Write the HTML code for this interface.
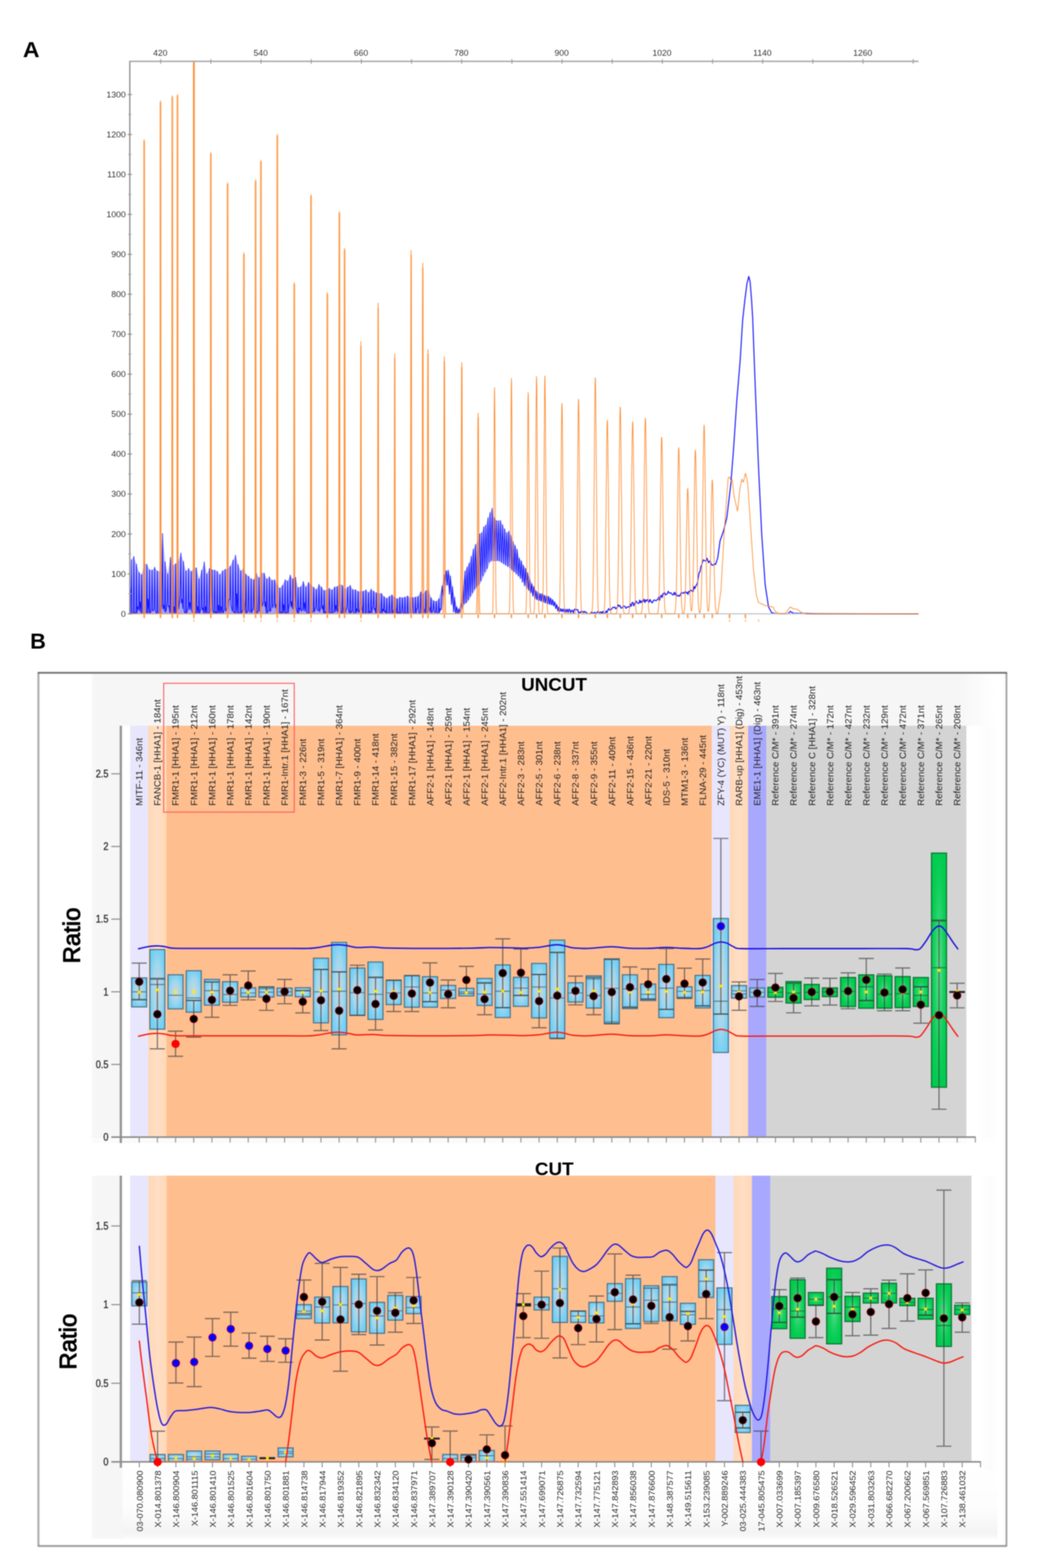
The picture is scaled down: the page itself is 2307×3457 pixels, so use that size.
<!DOCTYPE html>
<html lang="en"><head><meta charset="utf-8"><title>Figure</title>
<style>html,body{margin:0;padding:0;background:#fff;}body{width:2307px;height:3457px;overflow:hidden;}svg{display:block;}</style></head><body>
<svg width="2307" height="3457" viewBox="0 0 2307 3457">
<defs>
<filter id="bA" color-interpolation-filters="sRGB" x="-2%" y="-2%" width="104%" height="104%"><feGaussianBlur stdDeviation="0.95"/></filter>
<linearGradient id="ghaze" x1="0" x2="0" y1="0" y2="1"><stop offset="0" stop-color="#3030ff" stop-opacity="0.25"/><stop offset="1" stop-color="#2020ff" stop-opacity="0.42"/></linearGradient>
<filter id="b1" color-interpolation-filters="sRGB" x="-5%" y="-5%" width="110%" height="110%"><feGaussianBlur stdDeviation="0.7"/></filter>
<filter id="b05" color-interpolation-filters="sRGB" x="-5%" y="-5%" width="110%" height="110%"><feGaussianBlur stdDeviation="0.8"/></filter>
<filter id="b15" color-interpolation-filters="sRGB" x="-1%" y="-1%" width="102%" height="102%"><feGaussianBlur stdDeviation="0.8"/></filter>
<linearGradient id="glor" x1="0" x2="1" y1="0" y2="0"><stop offset="0" stop-color="#ffd8b6"/><stop offset="0.5" stop-color="#ffdec4"/><stop offset="1" stop-color="#ffd8b6"/></linearGradient>
<linearGradient id="gbg" x1="0" x2="1" y1="0" y2="0"><stop offset="0" stop-color="#fff"/><stop offset="0.004" stop-color="#f6f6f6"/><stop offset="0.96" stop-color="#f6f6f6"/><stop offset="1" stop-color="#fff"/></linearGradient>
<linearGradient id="gbot" x1="0" x2="0" y1="0" y2="1"><stop offset="0" stop-color="#fff"/><stop offset="0.6" stop-color="#fdfdfd"/><stop offset="0.92" stop-color="#f4f4f4"/><stop offset="1" stop-color="#fafafa"/></linearGradient>
<linearGradient id="gfade" x1="0" x2="1" y1="0" y2="0"><stop offset="0" stop-color="#fff"/><stop offset="0.3" stop-color="#fff"/><stop offset="0.7" stop-color="#fcfcfc"/><stop offset="1" stop-color="#fff"/></linearGradient>
<radialGradient id="gbox" cx="0.5" cy="0.5" r="0.75"><stop offset="0" stop-color="#bfd9e6" stop-opacity="0.85"/><stop offset="0.6" stop-color="#7fd0f4" stop-opacity="0.95"/><stop offset="1" stop-color="#58c8f6"/></radialGradient>
<radialGradient id="gboxhl" cx="0.5" cy="0.5" r="0.7"><stop offset="0" stop-color="#ecd8d0" stop-opacity="0.8"/><stop offset="0.5" stop-color="#c8dce8" stop-opacity="0.55"/><stop offset="1" stop-color="#6ccff5" stop-opacity="0"/></radialGradient>
<radialGradient id="ggrnhl" cx="0.5" cy="0.5" r="0.6"><stop offset="0" stop-color="#b8f0c8" stop-opacity="0.6"/><stop offset="0.55" stop-color="#40d880" stop-opacity="0.4"/><stop offset="1" stop-color="#00cc4e" stop-opacity="0"/></radialGradient>
</defs>
<rect x="0" y="0" width="2307" height="3457" fill="#fff"/>
<g id="panelA">
<text transform="translate(50.5,126) scale(1.06,1)" font-family="'Liberation Sans',sans-serif" font-weight="bold" font-size="48" fill="#000" filter="url(#b05)">A</text>
<clipPath id="cpA"><rect x="286.3" y="135.3" width="1741.7" height="1248.0"/></clipPath>
<g filter="url(#bA)"><g clip-path="url(#cpA)">
<path d="M287.3 1353.3L287.3 1293.3L289.5 1234.2L295.2 1226.8L301.0 1243.8L306.8 1261.9L312.5 1266.9L318.2 1241.7L324.0 1244.4L329.8 1256.1L335.5 1256.9L341.2 1250.5L347.0 1258.9L352.8 1259.4L358.5 1176.3L364.2 1238.6L370.0 1265.2L375.8 1228.8L381.5 1246.4L387.2 1243.0L393.0 1237.6L398.8 1219.4L404.5 1237.6L410.2 1258.9L416.0 1253.4L421.8 1260.0L427.5 1252.2L433.2 1251.9L439.0 1276.1L444.8 1257.0L450.5 1238.9L456.2 1265.6L462.0 1253.4L467.8 1256.3L473.5 1256.8L479.2 1259.5L485.0 1266.7L490.8 1258.6L496.5 1255.3L502.2 1253.6L508.0 1247.7L513.8 1235.1L519.5 1224.1L525.2 1244.9L531.0 1258.6L536.8 1253.6L542.5 1266.0L548.2 1270.2L554.0 1276.1L559.8 1277.8L565.5 1263.6L571.2 1273.8L577.0 1262.9L582.8 1263.8L588.5 1276.4L594.2 1271.7L600.0 1279.3L605.8 1278.0L611.5 1289.7L617.2 1296.7L623.0 1290.6L628.8 1278.3L634.5 1280.9L640.2 1267.8L646.0 1276.4L651.8 1272.9L657.5 1295.3L663.2 1293.5L669.0 1282.1L674.8 1294.1L680.5 1283.9L686.2 1289.4L692.0 1294.9L697.8 1299.5L703.5 1288.6L709.2 1294.2L715.0 1301.9L720.8 1299.8L726.5 1297.2L732.2 1300.5L738.0 1294.0L743.8 1293.0L749.5 1288.0L755.2 1290.6L761.0 1299.1L766.8 1294.3L772.5 1290.5L778.2 1299.9L784.0 1300.0L789.8 1303.8L795.5 1304.3L801.2 1303.3L807.0 1300.4L812.8 1306.2L818.5 1299.0L824.2 1303.3L830.0 1306.9L835.8 1308.0L841.5 1308.2L847.2 1315.2L853.0 1319.0L858.8 1314.8L864.5 1311.4L870.2 1317.1L876.0 1320.0L881.8 1316.8L887.5 1317.6L893.2 1316.3L899.0 1313.7L904.8 1317.7L910.5 1317.3L916.2 1316.2L922.0 1314.7L927.8 1304.7L933.5 1309.3L939.2 1302.2L945.0 1301.4L950.8 1317.7L956.5 1324.4L962.2 1325.9L968.0 1320.1L975.0 1291.7L979.6 1267.2L984.2 1258.0L988.8 1257.4L993.4 1269.5L998.0 1293.4L1002.6 1316.7L1007.2 1337.6L1011.8 1342.9L1016.4 1330.5L1021.0 1290.8L1025.6 1259.0L1030.2 1250.3L1034.8 1241.3L1039.4 1226.9L1044.0 1210.7L1048.6 1200.8L1053.2 1194.7L1057.8 1177.1L1062.4 1174.2L1067.0 1161.2L1071.6 1157.5L1076.2 1141.8L1080.8 1130.1L1085.4 1120.5L1090.0 1141.3L1094.6 1147.5L1099.2 1148.1L1103.8 1147.5L1108.4 1156.8L1113.0 1165.7L1117.6 1174.8L1122.2 1171.1L1126.8 1180.4L1131.4 1193.8L1136.0 1202.2L1140.6 1211.2L1145.2 1230.2L1149.8 1236.5L1154.4 1246.4L1159.0 1252.7L1163.6 1262.5L1168.2 1273.5L1172.8 1286.6L1177.4 1293.4L1182.0 1302.4L1186.6 1305.6L1191.2 1308.5L1195.8 1309.3L1200.4 1312.2L1205.0 1313.8L1209.6 1314.5L1214.2 1318.2L1218.8 1321.8L1223.4 1326.8L1228.0 1332.5L1232.6 1338.5L1237.2 1341.9L1241.8 1342.6L1246.4 1343.0L1251.0 1343.0L1255.6 1342.5L1255.6 1350.5L1251.0 1349.9L1246.4 1349.4L1241.8 1348.8L1237.2 1348.2L1232.6 1347.6L1228.0 1342.3L1223.4 1336.2L1218.8 1333.9L1214.2 1332.8L1209.6 1331.6L1205.0 1329.8L1200.4 1327.9L1195.8 1326.1L1191.2 1324.3L1186.6 1322.6L1182.0 1320.9L1177.4 1314.6L1172.8 1306.9L1168.2 1301.9L1163.6 1298.1L1159.0 1291.7L1154.4 1283.6L1149.8 1275.6L1145.2 1270.4L1140.6 1265.8L1136.0 1261.2L1131.4 1257.2L1126.8 1253.2L1122.2 1249.5L1117.6 1246.6L1113.0 1243.7L1108.4 1240.8L1103.8 1237.7L1099.2 1236.3L1094.6 1237.1L1090.0 1237.3L1085.4 1236.5L1080.8 1239.8L1076.2 1253.6L1071.6 1261.2L1067.0 1270.0L1062.4 1280.8L1057.8 1288.9L1053.2 1293.5L1048.6 1299.2L1044.0 1306.8L1039.4 1314.5L1034.8 1322.2L1030.2 1328.9L1025.6 1331.2L1021.0 1339.9L1016.4 1350.4L1011.8 1353.3L1007.2 1353.3L1002.6 1349.8L998.0 1333.3L993.4 1310.3L988.8 1290.1L984.2 1290.3L979.6 1313.7L975.0 1343.8L968.0 1353.3L962.2 1353.3L956.5 1353.3L950.8 1353.3L945.0 1353.3L939.2 1353.3L933.5 1353.3L927.8 1353.3L922.0 1353.3L916.2 1353.3L910.5 1353.3L904.8 1353.3L899.0 1353.3L893.2 1353.3L887.5 1353.3L881.8 1353.3L876.0 1353.3L870.2 1353.3L864.5 1353.3L858.8 1353.3L853.0 1353.3L847.2 1353.3L841.5 1353.3L835.8 1353.3L830.0 1353.3L824.2 1353.3L818.5 1353.3L812.8 1353.3L807.0 1353.3L801.2 1353.3L795.5 1353.3L789.8 1353.3L784.0 1353.3L778.2 1353.3L772.5 1353.3L766.8 1353.3L761.0 1353.3L755.2 1353.3L749.5 1353.3L743.8 1353.3L738.0 1353.3L732.2 1353.3L726.5 1353.3L720.8 1353.3L715.0 1353.3L709.2 1353.3L703.5 1353.3L697.8 1353.3L692.0 1353.3L686.2 1353.3L680.5 1353.3L674.8 1353.3L669.0 1353.3L663.2 1353.3L657.5 1353.3L651.8 1353.3L646.0 1353.3L640.2 1353.3L634.5 1353.3L628.8 1353.3L623.0 1353.3L617.2 1353.3L611.5 1353.3L605.8 1353.3L600.0 1353.3L594.2 1353.3L588.5 1353.3L582.8 1353.3L577.0 1353.3L571.2 1353.3L565.5 1353.3L559.8 1353.3L554.0 1353.3L548.2 1353.3L542.5 1353.3L536.8 1353.3L531.0 1353.3L525.2 1353.3L519.5 1353.3L513.8 1353.3L508.0 1353.3L502.2 1353.3L496.5 1353.3L490.8 1353.3L485.0 1353.3L479.2 1353.3L473.5 1353.3L467.8 1353.3L462.0 1353.3L456.2 1353.3L450.5 1353.3L444.8 1353.3L439.0 1353.3L433.2 1353.3L427.5 1353.3L421.8 1353.3L416.0 1353.3L410.2 1353.3L404.5 1353.3L398.8 1353.3L393.0 1353.3L387.2 1353.3L381.5 1353.3L375.8 1353.3L370.0 1353.3L364.2 1353.3L358.5 1353.3L352.8 1353.3L347.0 1353.3L341.2 1353.3L335.5 1353.3L329.8 1353.3L324.0 1353.3L318.2 1353.3L312.5 1353.3L306.8 1353.3L301.0 1353.3L295.2 1353.3L289.5 1353.3L287.3 1353.3Z" fill="url(#ghaze)" stroke="none"/>
<path d="M287.3 1353.3L288.0 1298.3L288.2 1353.3L289.5 1234.2L290.8 1353.3L292.1 1351.3L294.0 1353.3L295.2 1226.8L296.5 1353.3L297.9 1350.7L299.8 1353.3L301.0 1243.8L302.2 1353.3L303.6 1337.3L305.5 1344.2L306.8 1261.9L308.0 1347.8L309.4 1326.8L311.2 1353.3L312.5 1266.9L313.8 1353.3L317.0 1353.3L318.2 1241.7L319.5 1353.3L322.8 1353.3L324.0 1244.4L325.2 1353.3L326.6 1320.6L328.5 1353.3L329.8 1256.1L331.0 1353.3L334.2 1343.7L335.5 1256.9L336.8 1347.5L340.0 1343.0L341.2 1250.5L342.5 1347.1L345.8 1353.3L347.0 1258.9L348.2 1353.3L351.5 1353.3L352.8 1259.4L354.0 1353.3L357.2 1335.6L358.5 1176.3L359.8 1342.7L361.1 1333.8L363.0 1347.6L364.2 1238.6L365.5 1349.9L366.9 1343.3L368.8 1326.9L370.0 1265.2L371.2 1337.4L372.6 1335.6L374.5 1350.8L375.8 1228.8L377.0 1351.8L380.2 1353.3L381.5 1246.4L382.8 1353.3L384.1 1337.7L386.0 1353.3L387.2 1243.0L388.5 1353.3L391.8 1335.9L393.0 1237.6L394.2 1342.9L395.6 1330.7L397.5 1313.1L398.8 1219.4L400.0 1329.2L401.4 1320.7L403.2 1341.7L404.5 1237.6L405.8 1346.4L409.0 1353.3L410.2 1258.9L411.5 1353.3L414.8 1338.3L416.0 1253.4L417.2 1344.3L418.6 1327.7L420.5 1344.0L421.8 1260.0L423.0 1347.7L426.2 1351.3L427.5 1252.2L428.8 1352.1L432.0 1351.3L433.2 1251.9L434.5 1352.1L435.9 1336.9L437.8 1353.3L439.0 1276.1L440.2 1353.3L441.6 1347.4L443.5 1338.8L444.8 1257.0L446.0 1344.6L447.4 1340.1L449.2 1353.3L450.5 1238.9L451.8 1353.3L453.1 1337.2L455.0 1353.3L456.2 1265.6L457.5 1353.3L460.8 1351.3L462.0 1253.4L463.2 1352.1L466.5 1338.8L467.8 1256.3L469.0 1344.6L472.2 1353.3L473.5 1256.8L474.8 1353.3L476.1 1348.2L478.0 1353.3L479.2 1259.5L480.5 1353.3L481.9 1334.0L483.8 1353.3L485.0 1266.7L486.2 1353.3L487.6 1337.1L489.5 1351.4L490.8 1258.6L492.0 1352.2L495.2 1343.5L496.5 1255.3L497.8 1347.4L501.0 1338.3L502.2 1253.6L503.5 1344.3L504.9 1321.9L506.8 1321.6L508.0 1247.7L509.2 1334.3L512.5 1347.4L513.8 1235.1L515.0 1349.8L516.4 1349.0L518.2 1353.3L519.5 1224.1L520.8 1353.3L522.1 1308.8L524.0 1353.3L525.2 1244.9L526.5 1353.3L527.9 1351.3L529.8 1353.3L531.0 1258.6L532.2 1353.3L535.5 1343.3L536.8 1253.6L538.0 1347.3L539.4 1322.8L541.2 1353.3L542.5 1266.0L543.8 1353.3L547.0 1345.0L548.2 1270.2L549.5 1348.3L550.9 1349.7L552.8 1349.4L554.0 1276.1L555.2 1351.0L556.6 1344.9L558.5 1342.0L559.8 1277.8L561.0 1346.5L562.4 1346.3L564.2 1353.3L565.5 1263.6L566.8 1353.3L570.0 1345.3L571.2 1273.8L572.5 1348.5L573.9 1334.1L575.8 1326.2L577.0 1262.9L578.2 1337.0L581.5 1326.5L582.8 1263.8L584.0 1337.2L585.4 1326.8L587.2 1353.3L588.5 1276.4L589.8 1353.3L591.1 1347.3L593.0 1345.1L594.2 1271.7L595.5 1348.4L596.9 1346.9L598.8 1331.1L600.0 1279.3L601.2 1340.0L604.5 1330.7L605.8 1278.0L607.0 1339.7L608.4 1332.1L610.2 1350.1L611.5 1289.7L612.8 1351.4L614.1 1352.7L616.0 1352.2L617.2 1296.7L618.5 1352.6L619.9 1349.5L621.8 1352.0L623.0 1290.6L624.2 1352.5L625.6 1332.7L627.5 1351.8L628.8 1278.3L630.0 1352.4L631.4 1350.6L633.2 1351.9L634.5 1280.9L635.8 1352.4L637.1 1337.5L639.0 1327.6L640.2 1267.8L641.5 1337.9L642.9 1326.1L644.8 1341.8L646.0 1276.4L647.2 1346.4L648.6 1335.5L650.5 1329.2L651.8 1272.9L653.0 1338.8L656.2 1353.3L657.5 1295.3L658.8 1353.3L660.1 1340.4L662.0 1344.3L663.2 1293.5L664.5 1347.9L665.9 1344.9L667.8 1342.6L669.0 1282.1L670.2 1346.9L671.6 1328.5L673.5 1347.4L674.8 1294.1L676.0 1349.7L679.2 1353.3L680.5 1283.9L681.8 1353.3L685.0 1350.1L686.2 1289.4L687.5 1351.4L690.8 1347.5L692.0 1294.9L693.2 1349.8L696.5 1337.2L697.8 1299.5L699.0 1343.6L702.2 1346.8L703.5 1288.6L704.8 1349.4L708.0 1335.6L709.2 1294.2L710.5 1342.7L711.9 1335.2L713.8 1353.3L715.0 1301.9L716.2 1353.3L717.6 1349.0L719.5 1352.2L720.8 1299.8L722.0 1352.7L725.2 1353.3L726.5 1297.2L727.8 1353.3L731.0 1350.7L732.2 1300.5L733.5 1351.7L736.8 1347.4L738.0 1294.0L739.2 1349.7L740.6 1334.2L742.5 1347.3L743.8 1293.0L745.0 1349.7L746.4 1342.5L748.2 1333.7L749.5 1288.0L750.8 1341.5L752.1 1353.2L754.0 1353.3L755.2 1290.6L756.5 1353.3L757.9 1339.7L759.8 1353.3L761.0 1299.1L762.2 1353.3L763.6 1343.5L765.5 1335.6L766.8 1294.3L768.0 1342.7L771.2 1353.3L772.5 1290.5L773.8 1353.3L775.1 1347.2L777.0 1348.0L778.2 1299.9L779.5 1350.1L780.9 1352.8L782.8 1353.3L784.0 1300.0L785.2 1353.3L786.6 1341.9L788.5 1348.4L789.8 1303.8L791.0 1350.3L792.4 1348.5L794.2 1338.6L795.5 1304.3L796.8 1344.5L798.1 1337.2L800.0 1352.3L801.2 1303.3L802.5 1352.7L805.8 1353.3L807.0 1300.4L808.2 1353.3L811.5 1353.3L812.8 1306.2L814.0 1353.3L815.4 1348.1L817.2 1350.6L818.5 1299.0L819.8 1351.7L821.1 1340.6L823.0 1338.3L824.2 1303.3L825.5 1344.3L826.9 1340.8L828.8 1353.3L830.0 1306.9L831.2 1353.3L832.6 1351.1L834.5 1346.5L835.8 1308.0L837.0 1349.2L840.2 1351.0L841.5 1308.2L842.8 1351.9L844.1 1342.8L846.0 1347.6L847.2 1315.2L848.5 1349.9L849.9 1346.4L851.8 1353.3L853.0 1319.0L854.2 1353.3L855.6 1352.2L857.5 1352.5L858.8 1314.8L860.0 1352.8L863.2 1353.3L864.5 1311.4L865.8 1353.3L867.1 1345.7L869.0 1353.3L870.2 1317.1L871.5 1353.3L872.9 1341.7L874.8 1353.3L876.0 1320.0L877.2 1353.3L878.6 1350.1L880.5 1353.3L881.8 1316.8L883.0 1353.3L884.4 1351.6L886.2 1347.9L887.5 1317.6L888.8 1350.1L892.0 1353.3L893.2 1316.3L894.5 1353.3L897.8 1351.3L899.0 1313.7L900.2 1352.1L903.5 1353.3L904.8 1317.7L906.0 1353.3L909.2 1353.3L910.5 1317.3L911.8 1353.3L913.1 1353.1L915.0 1352.6L916.2 1316.2L917.5 1352.9L918.9 1342.2L920.8 1341.7L922.0 1314.7L923.2 1346.3L924.6 1353.1L926.5 1350.9L927.8 1304.7L929.0 1351.8L932.2 1353.3L933.5 1309.3L934.8 1353.3L936.1 1342.4L938.0 1353.3L939.2 1302.2L940.5 1353.3L941.9 1350.1L943.8 1345.5L945.0 1301.4L946.2 1348.6L947.6 1339.5L949.5 1349.7L950.8 1317.7L952.0 1351.2L955.2 1344.6L956.5 1324.4L957.8 1348.1L959.1 1350.8L961.0 1349.2L962.2 1325.9L963.5 1350.8L966.8 1350.0L968.0 1320.1L969.2 1351.3L970.6 1342.4L972.7 1343.8L975.0 1291.7L977.3 1313.7L979.6 1267.2L981.9 1290.3L984.2 1258.0L986.5 1290.1L988.8 1257.4L991.1 1310.3L993.4 1269.5L995.7 1333.3L998.0 1293.4L1000.3 1349.8L1002.6 1316.7L1004.9 1353.3L1007.2 1337.6L1009.5 1353.3L1011.8 1342.9L1014.1 1350.4L1016.4 1330.5L1018.7 1339.9L1021.0 1290.8L1023.3 1331.2L1025.6 1259.0L1027.9 1328.9L1030.2 1250.3L1032.5 1322.2L1034.8 1241.3L1037.1 1314.5L1039.4 1226.9L1041.7 1306.8L1044.0 1210.7L1046.3 1299.2L1048.6 1200.8L1050.9 1293.5L1053.2 1194.7L1055.5 1288.9L1057.8 1177.1L1060.1 1280.8L1062.4 1174.2L1064.7 1270.0L1067.0 1161.2L1069.3 1261.2L1071.6 1157.5L1073.9 1253.6L1076.2 1141.8L1078.5 1239.8L1080.8 1130.1L1083.1 1236.5L1085.4 1120.5L1087.7 1237.3L1090.0 1141.3L1092.3 1237.1L1094.6 1147.5L1096.9 1236.3L1099.2 1148.1L1101.5 1237.7L1103.8 1147.5L1106.1 1240.8L1108.4 1156.8L1110.7 1243.7L1113.0 1165.7L1115.3 1246.6L1117.6 1174.8L1119.9 1249.5L1122.2 1171.1L1124.5 1253.2L1126.8 1180.4L1129.1 1257.2L1131.4 1193.8L1133.7 1261.2L1136.0 1202.2L1138.3 1265.8L1140.6 1211.2L1142.9 1270.4L1145.2 1230.2L1147.5 1275.6L1149.8 1236.5L1152.1 1283.6L1154.4 1246.4L1156.7 1291.7L1159.0 1252.7L1161.3 1298.1L1163.6 1262.5L1165.9 1301.9L1168.2 1273.5L1170.5 1306.9L1172.8 1286.6L1175.1 1314.6L1177.4 1293.4L1179.7 1320.9L1182.0 1302.4L1184.3 1322.6L1186.6 1305.6L1188.9 1324.3L1191.2 1308.5L1193.5 1326.1L1195.8 1309.3L1198.1 1327.9L1200.4 1312.2L1202.7 1329.8L1205.0 1313.8L1207.3 1331.6L1209.6 1314.5L1211.9 1332.8L1214.2 1318.2L1216.5 1333.9L1218.8 1321.8L1221.1 1336.2L1223.4 1326.8L1225.7 1342.3L1228.0 1332.5L1230.3 1347.6L1232.6 1338.5L1234.9 1348.2L1237.2 1341.9L1239.5 1348.8L1241.8 1342.6L1244.1 1349.4L1246.4 1343.0L1248.7 1349.9L1251.0 1343.0L1253.3 1350.5L1255.6 1342.5" fill="none" stroke="#1010ff" stroke-width="1.6" stroke-linejoin="round"/>
<path d="M1255.6 1342.5L1259.0 1350.7L1260.9 1345.4L1262.8 1345.9L1264.7 1351.1L1266.6 1343.7L1268.5 1343.0L1270.4 1345.1L1272.3 1343.9L1274.2 1344.2L1276.1 1351.7L1278.0 1349.7L1279.9 1350.8L1281.8 1347.9L1283.7 1348.3L1285.6 1348.2L1287.5 1350.5L1289.4 1347.8L1291.3 1349.8L1293.2 1349.8L1295.1 1352.8L1297.0 1352.8L1298.9 1352.8L1300.8 1352.8L1302.7 1352.8L1304.6 1349.1L1306.5 1351.7L1308.4 1351.1L1310.3 1350.9L1312.2 1350.2L1314.1 1351.7L1316.0 1352.8L1317.9 1348.5L1319.8 1348.8L1321.7 1350.8L1323.6 1350.3L1325.5 1348.9L1327.4 1352.8L1329.3 1347.8L1331.2 1352.0L1333.1 1352.8L1335.0 1351.4L1336.9 1346.9L1338.8 1350.7L1340.7 1344.9L1342.6 1341.8L1344.5 1345.2L1346.4 1345.3L1348.3 1343.5L1350.2 1340.7L1352.1 1339.0L1354.0 1339.4L1355.9 1338.2L1357.8 1342.3L1359.7 1340.7L1361.6 1338.8L1363.5 1333.5L1365.4 1336.6L1367.3 1334.8L1369.2 1340.4L1371.1 1340.5L1373.0 1339.2L1374.9 1336.2L1376.8 1336.5L1378.7 1337.3L1380.6 1341.3L1382.5 1338.8L1384.4 1338.3L1386.3 1337.3L1388.2 1339.5L1390.1 1331.6L1392.0 1336.9L1393.9 1328.9L1395.8 1328.3L1397.7 1335.8L1399.6 1331.2L1401.5 1327.3L1403.4 1325.3L1405.3 1329.3L1407.2 1330.3L1409.1 1330.2L1411.0 1323.0L1412.9 1329.0L1414.8 1325.0L1416.7 1328.5L1418.6 1325.0L1420.5 1321.2L1422.4 1328.5L1424.3 1322.4L1426.2 1325.2L1428.1 1321.8L1430.0 1323.4L1431.9 1327.7L1433.8 1321.7L1435.7 1325.3L1437.6 1328.8L1439.5 1328.3L1441.4 1323.3L1443.3 1323.0L1445.2 1323.7L1447.1 1324.6L1449.0 1322.1L1450.9 1321.7L1452.8 1316.4L1454.7 1323.2L1456.6 1314.9L1458.5 1312.5L1460.4 1317.4L1462.3 1308.5L1464.2 1308.9L1466.1 1306.7L1468.0 1311.6L1469.9 1310.3L1471.8 1309.5L1473.7 1303.5L1475.6 1306.6L1477.5 1308.1L1479.4 1306.9L1481.3 1308.6L1483.2 1311.4L1485.1 1311.7L1487.0 1305.9L1488.9 1311.6L1490.8 1306.5L1492.7 1313.4L1494.6 1314.0L1496.5 1312.3L1498.4 1314.7L1500.3 1312.5L1502.2 1306.8L1504.1 1307.0L1506.0 1307.2L1507.9 1308.3L1509.8 1305.3L1511.7 1304.6L1513.6 1307.6L1515.5 1305.5L1517.4 1310.6L1519.3 1303.5L1521.2 1305.1L1523.1 1301.4L1525.0 1301.5L1526.9 1303.7L1528.8 1304.0L1530.7 1293.2L1532.6 1297.6L1534.5 1291.6L1536.4 1289.9L1538.3 1285.0L1540.2 1272.8L1542.1 1262.4L1544.0 1260.6L1545.9 1248.8L1547.8 1245.2L1549.7 1237.8L1551.6 1234.2L1553.5 1236.1L1555.4 1236.5L1557.3 1236.5L1559.2 1230.6L1561.1 1236.0L1563.0 1240.8L1564.9 1236.9L1566.8 1238.4L1568.7 1244.1L1570.6 1246.3L1572.5 1245.3L1574.4 1245.7L1576.3 1242.9L1578.2 1244.6L1583.0 1230.0L1588.0 1193.0L1595.6 1171.0L1603.0 1141.6L1611.8 1068.0L1617.6 994.0L1625.0 884.0L1632.4 795.7L1638.0 705.0L1643.0 660.0L1647.5 625.0L1651.5 609.4L1654.5 622.0L1657.5 660.0L1660.0 700.0L1665.5 847.0L1673.0 1031.0L1680.0 1178.0L1687.6 1289.0L1695.0 1338.0L1702.0 1351.0L1712.0 1353.0L1738.0 1353.0L1743.0 1348.0L1750.0 1352.0L1770.0 1352.5L1800.0 1353.0L2026.0 1353.3" fill="none" stroke="#1818ff" stroke-width="2.3" stroke-linejoin="round"/>
<line x1="286.3" y1="1353.3" x2="2026.0" y2="1353.3" stroke="#c4c4c4" stroke-width="2.4"/>
<line x1="318.0" y1="310.6" x2="318.0" y2="1353.3" stroke="#ff9238" stroke-width="4.6" opacity="0.5"/>
<line x1="354.0" y1="225.0" x2="354.0" y2="1353.3" stroke="#ff9238" stroke-width="4.6" opacity="0.5"/>
<line x1="380.0" y1="214.0" x2="380.0" y2="1353.3" stroke="#ff9238" stroke-width="4.6" opacity="0.5"/>
<line x1="391.5" y1="211.0" x2="391.5" y2="1353.3" stroke="#ff9238" stroke-width="4.6" opacity="0.5"/>
<line x1="427.6" y1="138.3" x2="427.6" y2="1353.3" stroke="#ff9238" stroke-width="4.6" opacity="0.5"/>
<line x1="465.0" y1="339.0" x2="465.0" y2="1353.3" stroke="#ff9238" stroke-width="4.6" opacity="0.5"/>
<line x1="502.0" y1="405.5" x2="502.0" y2="1353.3" stroke="#ff9238" stroke-width="4.6" opacity="0.5"/>
<line x1="538.0" y1="560.0" x2="538.0" y2="1353.3" stroke="#ff9238" stroke-width="4.6" opacity="0.5"/>
<line x1="563.7" y1="399.0" x2="563.7" y2="1353.3" stroke="#ff9238" stroke-width="4.6" opacity="0.5"/>
<line x1="575.5" y1="356.0" x2="575.5" y2="1353.3" stroke="#ff9238" stroke-width="4.6" opacity="0.5"/>
<line x1="611.6" y1="299.0" x2="611.6" y2="1353.3" stroke="#ff9238" stroke-width="4.6" opacity="0.5"/>
<line x1="649.0" y1="626.0" x2="649.0" y2="1353.3" stroke="#ff9238" stroke-width="4.6" opacity="0.5"/>
<line x1="686.0" y1="432.0" x2="686.0" y2="1353.3" stroke="#ff9238" stroke-width="4.6" opacity="0.5"/>
<line x1="722.0" y1="648.0" x2="722.0" y2="1353.3" stroke="#ff9238" stroke-width="4.6" opacity="0.5"/>
<line x1="748.5" y1="469.6" x2="748.5" y2="1353.3" stroke="#ff9238" stroke-width="4.6" opacity="0.5"/>
<line x1="760.0" y1="550.5" x2="760.0" y2="1353.3" stroke="#ff9238" stroke-width="4.6" opacity="0.5"/>
<line x1="834.0" y1="678.0" x2="834.0" y2="1353.3" stroke="#ff9238" stroke-width="3.4" opacity="0.55"/>
<line x1="906.7" y1="562.0" x2="906.7" y2="1353.3" stroke="#ff9238" stroke-width="3.4" opacity="0.55"/>
<line x1="932.5" y1="590.0" x2="932.5" y2="1353.3" stroke="#ff9238" stroke-width="3.4" opacity="0.55"/>
<line x1="796.0" y1="763.0" x2="796.0" y2="1353.3" stroke="#ff9238" stroke-width="3.4" opacity="0.55"/>
<line x1="870.6" y1="789.5" x2="870.6" y2="1353.3" stroke="#ff9238" stroke-width="3.4" opacity="0.55"/>
<line x1="944.0" y1="780.6" x2="944.0" y2="1353.3" stroke="#ff9238" stroke-width="3.4" opacity="0.55"/>
<line x1="980.0" y1="796.0" x2="980.0" y2="1353.3" stroke="#ff9238" stroke-width="3.4" opacity="0.55"/>
<line x1="1018.5" y1="809.0" x2="1018.5" y2="1353.3" stroke="#ff9238" stroke-width="3.4" opacity="0.55"/>
<line x1="1054.6" y1="921.0" x2="1054.6" y2="1353.3" stroke="#ff9238" stroke-width="3.4" opacity="0.55"/>
<line x1="427.6" y1="135.3" x2="427.6" y2="1353.3" stroke="#ff8a2e" stroke-width="3.2"/>
<path d="M286.3 1353.3L315.8 1353.3L316.1 1353.2L316.3 1352.3L316.6 1346.9L316.8 1321.2L317.1 1235.6L318.0 307.6L318.8 1131.1L319.1 1280.8L319.3 1335.8L319.6 1350.2L319.8 1352.9L320.1 1353.3L320.3 1353.3L351.6 1353.3L352.1 1353.2L352.3 1352.1L352.6 1345.6L352.8 1316.3L353.1 1220.7L354.0 222.0L354.8 1105.9L355.1 1270.8L355.3 1332.9L355.6 1349.5L355.8 1352.8L356.1 1353.2L356.3 1353.3L377.8 1353.3L378.1 1353.1L378.3 1352.0L378.6 1345.0L378.8 1314.2L379.1 1215.5L380.0 211.0L380.8 1098.4L381.3 1331.5L381.6 1349.2L381.8 1352.7L382.1 1353.2L382.3 1353.3L389.3 1353.3L389.6 1353.1L389.8 1351.9L390.1 1344.8L390.3 1313.3L390.6 1213.4L391.5 208.0L392.3 1095.4L392.6 1265.5L392.8 1331.0L393.1 1349.1L393.3 1352.7L393.6 1353.2L393.8 1353.3L425.1 1353.3L425.6 1353.2L425.8 1352.5L426.1 1348.2L426.3 1327.0L426.6 1252.6L427.6 134.3L427.8 209.6L428.6 1194.2L428.8 1306.8L429.1 1343.1L429.3 1351.6L429.6 1353.1L430.1 1353.3L462.6 1353.3L463.1 1353.1L463.3 1351.7L463.6 1344.2L463.8 1313.1L464.1 1219.1L465.0 336.0L466.1 1267.6L466.3 1330.4L466.6 1348.7L466.8 1352.6L467.1 1353.2L467.6 1353.3L499.6 1353.3L500.1 1353.1L500.3 1351.7L500.6 1344.0L500.8 1313.4L501.1 1223.1L502.0 402.5L503.1 1269.5L503.3 1330.3L503.6 1348.5L503.8 1352.5L504.1 1353.2L504.6 1353.3L535.5 1353.3L536.0 1353.1L536.3 1351.8L536.5 1344.9L536.8 1318.0L537.0 1240.3L538.0 557.0L538.8 1153.9L539.0 1280.0L539.3 1332.7L539.5 1348.9L539.8 1352.6L540.0 1353.2L540.3 1353.3L561.3 1353.3L561.5 1353.3L561.8 1352.9L562.0 1350.4L562.3 1338.8L562.5 1296.5L562.8 1183.7L563.7 396.0L564.5 1148.8L565.0 1333.8L565.3 1349.3L565.5 1352.7L565.8 1353.2L573.3 1353.3L573.5 1353.0L573.8 1351.1L574.0 1341.8L574.3 1306.3L574.5 1206.2L575.5 353.0L576.5 1257.1L576.8 1325.7L577.0 1347.2L577.3 1352.3L577.5 1353.2L577.8 1353.3L609.0 1353.3L609.5 1353.1L609.8 1352.1L610.0 1346.3L610.3 1322.2L610.5 1247.4L611.6 296.0L612.5 1192.5L613.0 1340.2L613.3 1350.8L613.5 1352.9L613.8 1353.3L646.5 1353.3L647.0 1353.0L647.3 1351.3L647.5 1343.5L647.8 1315.1L648.0 1238.4L649.0 623.0L650.0 1277.1L650.3 1330.4L650.5 1348.0L650.8 1352.3L651.0 1353.2L651.3 1353.3L683.5 1353.3L683.8 1353.2L684.0 1352.9L684.3 1350.6L684.5 1339.9L684.8 1302.4L685.0 1203.1L686.0 429.0L687.0 1252.9L687.3 1322.5L687.5 1346.0L687.8 1351.9L688.0 1353.1L688.3 1353.3L719.5 1353.3L719.8 1353.2L720.0 1352.6L720.3 1349.8L720.5 1338.3L720.8 1302.9L721.0 1218.1L722.0 645.0L723.0 1259.6L723.5 1344.7L723.8 1351.4L724.0 1353.0L724.3 1353.3L745.8 1353.3L746.3 1353.0L746.5 1351.7L746.8 1346.0L747.0 1326.4L747.3 1272.3L748.5 466.6L748.8 589.8L749.5 1211.4L750.0 1336.9L750.3 1349.2L750.5 1352.5L750.8 1353.2L751.3 1353.3L757.3 1353.3L757.8 1352.9L758.0 1351.4L758.3 1345.3L758.5 1325.1L759.0 1162.2L759.8 597.3L760.0 547.5L760.3 655.2L761.0 1214.4L761.5 1335.8L761.8 1348.7L762.0 1352.3L762.3 1353.1L763.0 1353.3L793.3 1353.3L793.5 1353.2L793.8 1352.6L794.0 1350.5L794.5 1322.2L794.8 1274.2L795.8 785.9L796.0 753.0L796.3 824.4L797.0 1226.1L797.5 1332.9L797.8 1347.0L798.0 1351.7L798.3 1352.9L798.8 1353.3L830.8 1353.3L831.3 1353.1L831.5 1352.5L831.8 1350.3L832.3 1326.4L832.8 1216.8L833.5 807.1L834.0 668.0L834.3 733.7L835.3 1250.1L835.8 1335.1L836.3 1351.5L836.5 1352.8L836.8 1353.2L837.3 1353.3L867.0 1353.3L867.5 1353.2L867.8 1352.8L868.3 1348.6L868.8 1323.2L869.3 1230.1L870.3 824.6L870.6 779.5L871.0 876.1L872.0 1268.6L872.5 1335.3L873.0 1350.9L873.3 1352.5L873.5 1353.1L874.3 1353.3L902.8 1353.3L903.3 1353.2L903.5 1352.9L903.8 1351.9L904.3 1343.0L904.5 1328.9L905.0 1250.9L906.3 643.3L906.7 552.0L907.0 622.9L908.3 1237.5L908.8 1324.7L909.3 1348.5L909.5 1351.6L910.0 1353.1L911.0 1353.3L928.8 1353.2L929.3 1352.5L929.5 1351.0L930.0 1339.3L930.5 1292.4L930.8 1241.2L932.0 677.9L932.5 580.0L932.8 625.1L933.8 1103.3L934.3 1264.6L934.8 1330.8L935.3 1349.2L935.5 1351.8L936.0 1353.1L936.8 1353.3L940.0 1353.3L940.5 1353.0L940.8 1352.4L941.3 1347.6L941.8 1326.2L942.5 1199.7L943.5 840.8L944.0 770.6L944.3 802.9L944.5 872.3L945.8 1278.6L946.0 1312.7L946.5 1343.9L947.0 1351.7L947.3 1352.7L947.8 1353.2L975.8 1353.3L976.3 1353.0L976.5 1352.4L977.0 1348.2L977.5 1331.4L977.8 1312.2L978.3 1235.0L979.5 845.0L980.0 786.0L980.3 813.0L980.5 871.9L981.5 1199.2L982.0 1295.3L982.3 1321.1L982.8 1345.2L983.3 1351.8L983.5 1352.7L984.0 1353.2L1013.8 1353.3L1014.3 1353.0L1014.8 1351.8L1015.3 1346.8L1015.8 1329.8L1016.0 1312.2L1016.5 1246.7L1018.0 845.6L1018.5 799.0L1018.8 820.2L1019.0 867.1L1020.0 1157.7L1020.8 1297.3L1021.0 1320.2L1021.5 1343.5L1022.0 1350.9L1022.3 1352.2L1022.8 1353.1L1024.0 1353.3L1049.5 1353.2L1050.0 1352.9L1050.5 1351.5L1051.0 1347.0L1051.8 1321.8L1052.3 1278.8L1054.0 953.8L1054.3 924.2L1054.6 911.0L1055.0 940.2L1055.3 978.3L1056.8 1266.7L1057.5 1329.7L1057.8 1339.2L1058.3 1348.9L1058.8 1352.1L1059.3 1353.0L1060.0 1353.3L1084.8 1353.3L1085.3 1353.1L1085.8 1352.5L1086.3 1350.6L1086.8 1345.0L1087.3 1331.1L1088.0 1278.0L1088.8 1164.6L1090.0 908.1L1090.3 875.5L1090.7 854.5L1091.0 870.7L1091.3 900.6L1093.3 1272.5L1093.8 1315.8L1094.5 1344.1L1094.8 1347.9L1095.3 1351.6L1095.8 1352.8L1096.5 1353.3L1121.3 1353.3L1122.3 1352.8L1122.8 1351.7L1123.0 1350.6L1123.8 1341.5L1124.3 1325.8L1125.0 1273.1L1125.8 1169.6L1127.3 885.9L1127.5 856.1L1128.0 834.0L1128.3 843.9L1128.8 900.7L1130.8 1256.8L1131.5 1318.6L1132.0 1338.0L1132.5 1347.2L1132.8 1349.6L1133.3 1352.1L1133.8 1352.9L1134.3 1353.2L1157.8 1353.2L1158.8 1352.7L1159.3 1351.6L1159.8 1349.0L1160.3 1343.0L1160.8 1330.9L1161.3 1308.6L1162.0 1246.5L1164.0 936.7L1164.5 882.5L1165.0 865.6L1165.3 873.2L1165.8 917.1L1167.8 1229.2L1168.3 1280.4L1169.0 1325.5L1169.8 1344.6L1170.3 1349.7L1170.8 1351.9L1171.3 1352.8L1171.8 1353.1L1174.8 1353.3L1175.8 1353.2L1176.5 1353.0L1177.3 1351.9L1177.8 1349.7L1178.3 1344.9L1179.0 1327.3L1180.0 1265.1L1180.8 1174.2L1182.5 886.7L1183.0 840.1L1183.4 830.0L1183.8 843.1L1184.3 893.1L1186.3 1215.5L1186.8 1269.7L1187.5 1319.2L1188.3 1341.7L1188.8 1348.2L1189.3 1351.2L1190.0 1352.8L1190.5 1353.1L1191.5 1353.3L1193.5 1353.3L1194.5 1353.0L1195.0 1352.6L1195.5 1351.5L1196.3 1346.7L1197.0 1333.3L1197.8 1301.6L1198.3 1264.3L1199.0 1177.9L1200.8 899.5L1201.3 847.5L1201.5 833.5L1201.8 828.8L1202.0 833.5L1202.3 847.5L1202.8 899.5L1204.5 1177.9L1205.5 1284.9L1206.0 1315.0L1206.8 1339.3L1207.5 1348.9L1208.0 1351.5L1208.5 1352.6L1209.0 1353.0L1210.0 1353.3L1212.5 1353.3L1229.8 1353.3L1231.5 1353.0L1232.3 1352.3L1232.8 1351.0L1233.3 1348.3L1233.8 1343.1L1234.3 1333.7L1234.8 1317.9L1235.8 1257.3L1238.3 952.6L1238.8 908.9L1239.0 895.9L1239.4 889.0L1239.8 898.0L1240.0 912.3L1240.5 958.0L1242.3 1186.4L1243.0 1261.5L1243.8 1309.3L1244.3 1328.3L1244.8 1339.9L1245.3 1346.6L1245.8 1350.1L1246.5 1352.4L1247.3 1353.1L1249.3 1353.3L1267.0 1353.2L1267.8 1352.9L1268.5 1351.8L1269.3 1348.9L1270.0 1341.4L1270.8 1324.9L1271.8 1277.8L1272.8 1190.2L1274.8 945.9L1275.3 903.5L1275.5 889.9L1276.0 880.0L1276.3 884.4L1276.5 894.7L1277.0 931.3L1279.8 1248.0L1280.8 1310.3L1281.8 1339.0L1282.3 1345.7L1282.8 1349.5L1283.5 1352.0L1284.0 1352.7L1284.5 1353.1L1286.8 1353.3L1303.3 1353.2L1304.0 1353.0L1304.5 1352.5L1305.0 1351.7L1305.5 1350.0L1306.0 1347.0L1306.5 1341.7L1307.3 1326.6L1308.0 1297.8L1308.5 1268.1L1309.5 1177.8L1311.8 896.7L1312.3 855.3L1312.5 842.0L1313.0 832.5L1313.3 836.8L1313.5 846.7L1314.0 882.4L1316.5 1188.7L1317.8 1289.9L1318.5 1322.1L1319.3 1339.5L1319.8 1345.7L1320.3 1349.3L1321.0 1351.9L1321.8 1352.9L1323.3 1353.3L1329.3 1353.2L1330.5 1352.8L1331.3 1351.9L1332.0 1349.6L1332.8 1344.1L1333.8 1326.7L1334.5 1300.7L1335.3 1258.7L1338.3 975.5L1338.8 943.5L1339.0 933.3L1339.5 926.0L1339.8 929.3L1340.0 936.9L1340.8 983.5L1342.8 1184.9L1343.8 1265.3L1344.5 1305.0L1345.5 1334.6L1346.0 1342.4L1346.8 1348.8L1347.5 1351.6L1348.0 1352.5L1348.5 1352.9L1350.0 1353.3L1356.3 1353.3L1357.8 1353.2L1358.8 1352.8L1359.5 1351.8L1360.0 1350.3L1360.5 1347.8L1361.0 1343.6L1361.8 1332.0L1362.3 1319.1L1363.5 1259.2L1364.5 1176.7L1366.8 946.5L1367.3 914.5L1367.5 904.3L1368.0 897.0L1368.3 900.3L1368.5 907.9L1369.3 954.5L1371.8 1209.0L1373.0 1293.6L1373.8 1322.1L1374.5 1338.4L1375.5 1348.5L1376.3 1351.4L1376.8 1352.4L1377.3 1352.8L1378.0 1353.2L1379.0 1353.3L1384.8 1353.2L1386.0 1352.7L1386.8 1351.6L1387.5 1349.1L1388.3 1343.5L1389.3 1327.1L1390.3 1292.7L1391.0 1250.3L1394.0 983.6L1394.8 940.9L1395.0 933.5L1395.4 929.6L1395.8 934.6L1396.0 942.8L1396.8 987.3L1399.8 1253.6L1400.8 1305.4L1401.8 1333.5L1402.3 1341.2L1403.0 1348.0L1403.8 1351.1L1404.3 1352.2L1404.8 1352.7L1405.8 1353.2L1408.0 1353.3L1412.3 1353.2L1413.8 1352.8L1414.5 1351.8L1415.0 1350.6L1415.5 1348.4L1416.0 1344.8L1416.8 1335.1L1417.3 1324.4L1418.5 1275.2L1419.8 1185.1L1422.0 975.5L1422.8 933.1L1423.0 925.8L1423.4 922.0L1423.8 927.0L1424.0 935.0L1424.8 979.2L1427.3 1210.5L1428.5 1290.5L1429.3 1318.9L1430.3 1339.7L1431.3 1348.7L1432.0 1351.4L1433.0 1352.8L1433.8 1353.1L1435.0 1353.3L1446.3 1353.3L1448.5 1353.2L1449.8 1352.7L1450.8 1351.2L1451.5 1348.3L1452.5 1339.2L1453.3 1325.2L1453.8 1310.8L1454.8 1266.0L1455.8 1197.4L1458.0 1010.6L1458.8 973.3L1459.0 966.9L1459.4 963.5L1459.8 967.9L1460.0 975.0L1460.8 1013.9L1463.0 1201.3L1464.3 1281.9L1465.0 1312.5L1465.8 1331.8L1466.5 1342.8L1467.5 1349.7L1468.0 1351.3L1468.5 1352.3L1469.3 1352.9L1470.0 1353.2L1484.3 1353.3L1486.8 1353.0L1487.5 1352.5L1488.0 1351.8L1488.8 1349.7L1489.5 1345.2L1490.0 1340.1L1490.8 1327.2L1491.3 1314.0L1492.3 1273.1L1493.3 1210.4L1495.5 1036.3L1496.3 999.1L1496.5 992.1L1497.0 987.0L1497.3 989.3L1497.5 994.5L1498.3 1027.2L1500.8 1217.5L1501.8 1278.1L1503.0 1323.7L1503.8 1338.0L1504.5 1346.0L1505.3 1350.0L1505.8 1351.4L1506.3 1352.2L1506.8 1352.4L1507.5 1352.2L1508.0 1351.5L1508.5 1350.2L1509.3 1346.6L1510.0 1339.7L1511.0 1322.2L1511.8 1300.3L1512.5 1269.5L1515.5 1103.9L1516.3 1081.3L1516.5 1077.9L1516.8 1076.8L1517.0 1077.9L1517.3 1081.3L1518.0 1103.9L1520.8 1257.3L1522.3 1315.8L1523.3 1336.0L1524.3 1345.3L1524.8 1347.0L1525.0 1347.2L1525.3 1346.9L1525.5 1346.3L1526.0 1343.7L1526.5 1338.9L1527.3 1326.5L1527.8 1313.9L1528.8 1275.0L1529.8 1216.2L1532.3 1034.4L1533.0 1001.6L1533.3 995.7L1533.7 992.0L1534.0 994.8L1534.3 1000.2L1535.0 1031.6L1537.8 1229.5L1539.3 1304.3L1540.3 1330.8L1541.3 1344.1L1542.0 1348.8L1542.8 1350.7L1543.0 1350.9L1543.5 1350.8L1544.3 1349.0L1545.3 1342.2L1546.0 1331.6L1546.8 1313.6L1547.5 1285.6L1548.8 1211.8L1551.5 987.2L1552.3 949.3L1552.5 942.1L1553.0 937.0L1553.3 939.3L1553.5 944.6L1554.3 977.9L1557.0 1200.7L1558.5 1290.0L1559.3 1316.5L1560.0 1333.1L1561.0 1344.5L1561.5 1347.0L1562.0 1347.9L1562.5 1347.3L1563.0 1345.3L1564.0 1335.9L1564.8 1322.6L1565.5 1302.0L1566.8 1248.9L1569.5 1092.4L1570.3 1066.4L1570.8 1058.7L1571.0 1058.0L1571.5 1063.2L1572.3 1086.0L1575.3 1254.0L1576.0 1287.6L1577.0 1319.1L1578.0 1337.5L1579.0 1346.8L1579.8 1350.2L1580.5 1351.9L1581.5 1352.9L1582.8 1353.2L1583.0 1352.9L1590.0 1302.4L1598.0 1162.6L1606.0 1053.3L1609.3 1051.4L1609.5 1051.5L1612.0 1061.2L1614.8 1057.6L1615.0 1057.7L1619.0 1093.5L1626.5 1126.6L1626.8 1126.3L1631.5 1081.0L1635.8 1057.4L1636.0 1056.4L1639.3 1062.9L1639.5 1063.1L1644.0 1043.9L1644.3 1043.7L1649.0 1064.0L1661.8 1255.3L1668.3 1312.6L1673.0 1328.3L1687.0 1334.8L1705.0 1338.4L1709.5 1347.2L1716.0 1352.3L1732.0 1353.2L1738.0 1344.2L1743.0 1338.3L1751.0 1342.8L1757.5 1342.8L1768.0 1350.3L1776.0 1353.3L2026.0 1353.3" fill="none" stroke="#ff8a2e" stroke-width="1.6" stroke-linejoin="round"/>
<line x1="1778" y1="1353.3" x2="2026.0" y2="1353.3" stroke="#c87a58" stroke-width="2.3"/>
<line x1="318.0" y1="1354.3" x2="318.0" y2="1362.8" stroke="#ff9a4a" stroke-width="3.4"/>
<line x1="354.0" y1="1354.3" x2="354.0" y2="1362.8" stroke="#ff9a4a" stroke-width="3.4"/>
<line x1="380.0" y1="1354.3" x2="380.0" y2="1362.8" stroke="#ff9a4a" stroke-width="3.4"/>
<line x1="391.5" y1="1354.3" x2="391.5" y2="1362.8" stroke="#ff9a4a" stroke-width="3.4"/>
<line x1="427.6" y1="1354.3" x2="427.6" y2="1362.8" stroke="#ff9a4a" stroke-width="3.4"/>
<line x1="465.0" y1="1354.3" x2="465.0" y2="1362.8" stroke="#ff9a4a" stroke-width="3.4"/>
<line x1="502.0" y1="1354.3" x2="502.0" y2="1362.8" stroke="#ff9a4a" stroke-width="3.4"/>
<line x1="538.0" y1="1354.3" x2="538.0" y2="1362.8" stroke="#ff9a4a" stroke-width="3.4"/>
<line x1="563.7" y1="1354.3" x2="563.7" y2="1362.8" stroke="#ff9a4a" stroke-width="3.4"/>
<line x1="575.5" y1="1354.3" x2="575.5" y2="1362.8" stroke="#ff9a4a" stroke-width="3.4"/>
<line x1="611.6" y1="1354.3" x2="611.6" y2="1362.8" stroke="#ff9a4a" stroke-width="3.4"/>
<line x1="649.0" y1="1354.3" x2="649.0" y2="1362.8" stroke="#ff9a4a" stroke-width="3.4"/>
<line x1="686.0" y1="1354.3" x2="686.0" y2="1362.8" stroke="#ff9a4a" stroke-width="3.4"/>
<line x1="722.0" y1="1354.3" x2="722.0" y2="1362.8" stroke="#ff9a4a" stroke-width="3.4"/>
<line x1="748.5" y1="1354.3" x2="748.5" y2="1362.8" stroke="#ff9a4a" stroke-width="3.4"/>
<line x1="760.0" y1="1354.3" x2="760.0" y2="1362.8" stroke="#ff9a4a" stroke-width="3.4"/>
<line x1="834.0" y1="1354.3" x2="834.0" y2="1362.8" stroke="#ff9a4a" stroke-width="3.4"/>
<line x1="906.7" y1="1354.3" x2="906.7" y2="1362.8" stroke="#ff9a4a" stroke-width="3.4"/>
<line x1="932.5" y1="1354.3" x2="932.5" y2="1362.8" stroke="#ff9a4a" stroke-width="3.4"/>
<line x1="796.0" y1="1354.3" x2="796.0" y2="1362.8" stroke="#ff9a4a" stroke-width="3.4"/>
<line x1="870.6" y1="1354.3" x2="870.6" y2="1362.8" stroke="#ff9a4a" stroke-width="3.4"/>
<line x1="944.0" y1="1354.3" x2="944.0" y2="1362.8" stroke="#ff9a4a" stroke-width="3.4"/>
<line x1="980.0" y1="1354.3" x2="980.0" y2="1362.8" stroke="#ff9a4a" stroke-width="3.4"/>
<line x1="1018.5" y1="1354.3" x2="1018.5" y2="1362.8" stroke="#ff9a4a" stroke-width="3.4"/>
<line x1="1054.6" y1="1354.3" x2="1054.6" y2="1362.8" stroke="#ff9a4a" stroke-width="3.4"/>
<line x1="1090.7" y1="1354.3" x2="1090.7" y2="1362.8" stroke="#ff9a4a" stroke-width="3.4"/>
<line x1="1128.0" y1="1354.3" x2="1128.0" y2="1362.8" stroke="#ff9a4a" stroke-width="3.4"/>
<line x1="1165.0" y1="1354.3" x2="1165.0" y2="1362.8" stroke="#ff9a4a" stroke-width="3.4"/>
<line x1="1183.4" y1="1354.3" x2="1183.4" y2="1362.8" stroke="#ff9a4a" stroke-width="3.4"/>
<line x1="1201.8" y1="1354.3" x2="1201.8" y2="1362.8" stroke="#ff9a4a" stroke-width="3.4"/>
<line x1="1239.4" y1="1354.3" x2="1239.4" y2="1362.8" stroke="#ff9a4a" stroke-width="3.4"/>
<line x1="1276.0" y1="1354.3" x2="1276.0" y2="1362.8" stroke="#ff9a4a" stroke-width="3.4"/>
<line x1="1313.0" y1="1354.3" x2="1313.0" y2="1362.8" stroke="#ff9a4a" stroke-width="3.4"/>
<line x1="1339.5" y1="1354.3" x2="1339.5" y2="1362.8" stroke="#ff9a4a" stroke-width="3.4"/>
<line x1="1368.0" y1="1354.3" x2="1368.0" y2="1362.8" stroke="#ff9a4a" stroke-width="3.4"/>
<line x1="1395.4" y1="1354.3" x2="1395.4" y2="1362.8" stroke="#ff9a4a" stroke-width="3.4"/>
<line x1="1423.4" y1="1354.3" x2="1423.4" y2="1362.8" stroke="#ff9a4a" stroke-width="3.4"/>
<line x1="1459.4" y1="1354.3" x2="1459.4" y2="1362.8" stroke="#ff9a4a" stroke-width="3.4"/>
<line x1="1497.0" y1="1354.3" x2="1497.0" y2="1362.8" stroke="#ff9a4a" stroke-width="3.4"/>
<line x1="1516.8" y1="1354.3" x2="1516.8" y2="1362.8" stroke="#ff9a4a" stroke-width="3.4"/>
<line x1="1533.7" y1="1354.3" x2="1533.7" y2="1362.8" stroke="#ff9a4a" stroke-width="3.4"/>
<line x1="1553.0" y1="1354.3" x2="1553.0" y2="1362.8" stroke="#ff9a4a" stroke-width="3.4"/>
<line x1="1571.0" y1="1354.3" x2="1571.0" y2="1362.8" stroke="#ff9a4a" stroke-width="3.4"/>
<line x1="1609.0" y1="1354.3" x2="1609.0" y2="1362.8" stroke="#ff9a4a" stroke-width="3.4"/>
<line x1="1644.0" y1="1354.3" x2="1644.0" y2="1362.8" stroke="#ff9a4a" stroke-width="3.4"/>
<line x1="427.6" y1="1365.3" x2="427.6" y2="1371.3" stroke="#ffc8a0" stroke-width="3"/>
<line x1="538.0" y1="1365.3" x2="538.0" y2="1371.3" stroke="#ffc8a0" stroke-width="3"/>
<line x1="575.5" y1="1365.3" x2="575.5" y2="1371.3" stroke="#ffc8a0" stroke-width="3"/>
<line x1="611.6" y1="1365.3" x2="611.6" y2="1371.3" stroke="#ffc8a0" stroke-width="3"/>
<line x1="649.0" y1="1365.3" x2="649.0" y2="1371.3" stroke="#ffc8a0" stroke-width="3"/>
<line x1="686.0" y1="1365.3" x2="686.0" y2="1371.3" stroke="#ffc8a0" stroke-width="3"/>
<line x1="796.0" y1="1365.3" x2="796.0" y2="1371.3" stroke="#ffc8a0" stroke-width="3"/>
<line x1="1609.0" y1="1365.3" x2="1609.0" y2="1371.3" stroke="#ffc8a0" stroke-width="3"/>
<line x1="1644.0" y1="1365.3" x2="1644.0" y2="1371.3" stroke="#ffc8a0" stroke-width="3"/>
<line x1="1673.0" y1="1365.3" x2="1673.0" y2="1371.3" stroke="#ffc8a0" stroke-width="3"/>
</g></g>
<g filter="url(#bA)" stroke="#8a8a8a" fill="none">
<line x1="286.3" y1="134.3" x2="286.3" y2="1354.3" stroke-width="2.8"/>
<line x1="286.3" y1="135.3" x2="2026.0" y2="135.3" stroke-width="3" stroke="#a4a4a4"/>
<line x1="354.4" y1="130.3" x2="354.4" y2="140.8" stroke-width="2" stroke="#999"/>
<line x1="465.0" y1="130.3" x2="465.0" y2="140.8" stroke-width="2" stroke="#999"/>
<line x1="575.7" y1="130.3" x2="575.7" y2="140.8" stroke-width="2" stroke="#999"/>
<line x1="686.4" y1="130.3" x2="686.4" y2="140.8" stroke-width="2" stroke="#999"/>
<line x1="797.0" y1="130.3" x2="797.0" y2="140.8" stroke-width="2" stroke="#999"/>
<line x1="907.6" y1="130.3" x2="907.6" y2="140.8" stroke-width="2" stroke="#999"/>
<line x1="1018.3" y1="130.3" x2="1018.3" y2="140.8" stroke-width="2" stroke="#999"/>
<line x1="1129.0" y1="130.3" x2="1129.0" y2="140.8" stroke-width="2" stroke="#999"/>
<line x1="1239.6" y1="130.3" x2="1239.6" y2="140.8" stroke-width="2" stroke="#999"/>
<line x1="1350.2" y1="130.3" x2="1350.2" y2="140.8" stroke-width="2" stroke="#999"/>
<line x1="1460.9" y1="130.3" x2="1460.9" y2="140.8" stroke-width="2" stroke="#999"/>
<line x1="1571.6" y1="130.3" x2="1571.6" y2="140.8" stroke-width="2" stroke="#999"/>
<line x1="1682.2" y1="130.3" x2="1682.2" y2="140.8" stroke-width="2" stroke="#999"/>
<line x1="1792.8" y1="130.3" x2="1792.8" y2="140.8" stroke-width="2" stroke="#999"/>
<line x1="1903.5" y1="130.3" x2="1903.5" y2="140.8" stroke-width="2" stroke="#999"/>
<line x1="2014.2" y1="130.3" x2="2014.2" y2="140.8" stroke-width="2" stroke="#999"/>
<line x1="281.3" y1="1353.3" x2="291.3" y2="1353.3" stroke-width="2"/>
<line x1="282.3" y1="1309.3" x2="290.3" y2="1309.3" stroke-width="1.6" stroke="#aaa"/>
<line x1="281.3" y1="1265.2" x2="291.3" y2="1265.2" stroke-width="2"/>
<line x1="282.3" y1="1221.2" x2="290.3" y2="1221.2" stroke-width="1.6" stroke="#aaa"/>
<line x1="281.3" y1="1177.2" x2="291.3" y2="1177.2" stroke-width="2"/>
<line x1="282.3" y1="1133.1" x2="290.3" y2="1133.1" stroke-width="1.6" stroke="#aaa"/>
<line x1="281.3" y1="1089.1" x2="291.3" y2="1089.1" stroke-width="2"/>
<line x1="282.3" y1="1045.1" x2="290.3" y2="1045.1" stroke-width="1.6" stroke="#aaa"/>
<line x1="281.3" y1="1001.0" x2="291.3" y2="1001.0" stroke-width="2"/>
<line x1="282.3" y1="957.0" x2="290.3" y2="957.0" stroke-width="1.6" stroke="#aaa"/>
<line x1="281.3" y1="913.0" x2="291.3" y2="913.0" stroke-width="2"/>
<line x1="282.3" y1="868.9" x2="290.3" y2="868.9" stroke-width="1.6" stroke="#aaa"/>
<line x1="281.3" y1="824.9" x2="291.3" y2="824.9" stroke-width="2"/>
<line x1="282.3" y1="780.8" x2="290.3" y2="780.8" stroke-width="1.6" stroke="#aaa"/>
<line x1="281.3" y1="736.8" x2="291.3" y2="736.8" stroke-width="2"/>
<line x1="282.3" y1="692.8" x2="290.3" y2="692.8" stroke-width="1.6" stroke="#aaa"/>
<line x1="281.3" y1="648.7" x2="291.3" y2="648.7" stroke-width="2"/>
<line x1="282.3" y1="604.7" x2="290.3" y2="604.7" stroke-width="1.6" stroke="#aaa"/>
<line x1="281.3" y1="560.7" x2="291.3" y2="560.7" stroke-width="2"/>
<line x1="282.3" y1="516.6" x2="290.3" y2="516.6" stroke-width="1.6" stroke="#aaa"/>
<line x1="281.3" y1="472.6" x2="291.3" y2="472.6" stroke-width="2"/>
<line x1="282.3" y1="428.6" x2="290.3" y2="428.6" stroke-width="1.6" stroke="#aaa"/>
<line x1="281.3" y1="384.5" x2="291.3" y2="384.5" stroke-width="2"/>
<line x1="282.3" y1="340.5" x2="290.3" y2="340.5" stroke-width="1.6" stroke="#aaa"/>
<line x1="281.3" y1="296.5" x2="291.3" y2="296.5" stroke-width="2"/>
<line x1="282.3" y1="252.4" x2="290.3" y2="252.4" stroke-width="1.6" stroke="#aaa"/>
<line x1="281.3" y1="208.4" x2="291.3" y2="208.4" stroke-width="2"/>
</g>
<g filter="url(#b05)" font-family="'Liberation Sans',sans-serif" font-size="17.5" fill="#333">
<text transform="translate(353.6,123.3) scale(1.08,1)" text-anchor="middle">420</text>
<text transform="translate(574.9,123.3) scale(1.08,1)" text-anchor="middle">540</text>
<text transform="translate(796.2,123.3) scale(1.08,1)" text-anchor="middle">660</text>
<text transform="translate(1017.5,123.3) scale(1.08,1)" text-anchor="middle">780</text>
<text transform="translate(1238.8,123.3) scale(1.08,1)" text-anchor="middle">900</text>
<text transform="translate(1460.1,123.3) scale(1.08,1)" text-anchor="middle">1020</text>
<text transform="translate(1681.4,123.3) scale(1.08,1)" text-anchor="middle">1140</text>
<text transform="translate(1902.7,123.3) scale(1.08,1)" text-anchor="middle">1260</text>
<text transform="translate(277.5,1359.6) scale(1.1,1)" text-anchor="end">0</text>
<text transform="translate(277.5,1271.5) scale(1.1,1)" text-anchor="end">100</text>
<text transform="translate(277.5,1183.5) scale(1.1,1)" text-anchor="end">200</text>
<text transform="translate(277.5,1095.4) scale(1.1,1)" text-anchor="end">300</text>
<text transform="translate(277.5,1007.3) scale(1.1,1)" text-anchor="end">400</text>
<text transform="translate(277.5,919.2) scale(1.1,1)" text-anchor="end">500</text>
<text transform="translate(277.5,831.2) scale(1.1,1)" text-anchor="end">600</text>
<text transform="translate(277.5,743.1) scale(1.1,1)" text-anchor="end">700</text>
<text transform="translate(277.5,655.0) scale(1.1,1)" text-anchor="end">800</text>
<text transform="translate(277.5,567.0) scale(1.1,1)" text-anchor="end">900</text>
<text transform="translate(277.5,478.9) scale(1.1,1)" text-anchor="end">1000</text>
<text transform="translate(277.5,390.8) scale(1.1,1)" text-anchor="end">1100</text>
<text transform="translate(277.5,302.8) scale(1.1,1)" text-anchor="end">1200</text>
<text transform="translate(277.5,214.7) scale(1.1,1)" text-anchor="end">1300</text>
</g>
</g>
<g id="panelB">
<g filter="url(#b15)">
<rect x="199" y="1485" width="1995" height="1036" fill="url(#gbg)"/>
<rect x="199" y="2592" width="1995" height="800" fill="url(#gbg)"/>
<rect x="270" y="3225" width="1930" height="167" fill="url(#gbot)"/>
<rect x="269" y="1600" width="18" height="907" fill="#fff"/>
<rect x="269" y="2592" width="18" height="633" fill="#fff"/>
<rect x="2131" y="1600" width="70" height="921" fill="url(#gfade)"/>
<rect x="2142" y="2592" width="60" height="650" fill="url(#gfade)"/>
<rect x="199" y="2509" width="2000" height="13" fill="#fff" opacity="0.6"/>
<rect x="287.0" y="1600.0" width="40.4" height="907.0" fill="#e8e6fc"/>
<rect x="327.0" y="1600.0" width="40.4" height="907.0" fill="url(#glor)"/>
<rect x="367.1" y="1600.0" width="1203.0" height="907.0" fill="#ffbe8e"/>
<rect x="1569.8" y="1600.0" width="40.4" height="907.0" fill="#e8e6fc"/>
<rect x="1609.9" y="1600.0" width="40.4" height="907.0" fill="url(#glor)"/>
<rect x="1650.0" y="1600.0" width="40.4" height="907.0" fill="#a8a8ff"/>
<rect x="1690.1" y="1600.0" width="441.3" height="907.0" fill="#d4d4d4"/>
<rect x="287.1" y="2592.0" width="40.6" height="631.0" fill="#e8e6fc"/>
<rect x="327.5" y="2592.0" width="40.6" height="631.0" fill="url(#glor)"/>
<rect x="367.8" y="2592.0" width="1210.2" height="631.0" fill="#ffbe8e"/>
<rect x="1577.7" y="2592.0" width="40.6" height="631.0" fill="#e8e6fc"/>
<rect x="1618.0" y="2592.0" width="40.6" height="631.0" fill="url(#glor)"/>
<rect x="1658.4" y="2592.0" width="40.6" height="631.0" fill="#a8a8ff"/>
<rect x="1698.7" y="2592.0" width="443.9" height="631.0" fill="#d4d4d4"/>
<g stroke="#8c8c8c" fill="none">
<line x1="266.5" y1="1600.0" x2="266.5" y2="2520.0" stroke-width="5.2" stroke="#989898"/>
<line x1="245.5" y1="2507.0" x2="2152.1" y2="2507.0" stroke-width="3.4"/>
<line x1="307.0" y1="2507.0" x2="307.0" y2="2519.0" stroke-width="2.4" stroke="#969696"/>
<line x1="347.1" y1="2507.0" x2="347.1" y2="2519.0" stroke-width="2.4" stroke="#969696"/>
<line x1="387.2" y1="2507.0" x2="387.2" y2="2519.0" stroke-width="2.4" stroke="#969696"/>
<line x1="427.3" y1="2507.0" x2="427.3" y2="2519.0" stroke-width="2.4" stroke="#969696"/>
<line x1="467.4" y1="2507.0" x2="467.4" y2="2519.0" stroke-width="2.4" stroke="#969696"/>
<line x1="507.5" y1="2507.0" x2="507.5" y2="2519.0" stroke-width="2.4" stroke="#969696"/>
<line x1="547.5" y1="2507.0" x2="547.5" y2="2519.0" stroke-width="2.4" stroke="#969696"/>
<line x1="587.6" y1="2507.0" x2="587.6" y2="2519.0" stroke-width="2.4" stroke="#969696"/>
<line x1="627.7" y1="2507.0" x2="627.7" y2="2519.0" stroke-width="2.4" stroke="#969696"/>
<line x1="667.8" y1="2507.0" x2="667.8" y2="2519.0" stroke-width="2.4" stroke="#969696"/>
<line x1="707.9" y1="2507.0" x2="707.9" y2="2519.0" stroke-width="2.4" stroke="#969696"/>
<line x1="748.0" y1="2507.0" x2="748.0" y2="2519.0" stroke-width="2.4" stroke="#969696"/>
<line x1="788.1" y1="2507.0" x2="788.1" y2="2519.0" stroke-width="2.4" stroke="#969696"/>
<line x1="828.2" y1="2507.0" x2="828.2" y2="2519.0" stroke-width="2.4" stroke="#969696"/>
<line x1="868.3" y1="2507.0" x2="868.3" y2="2519.0" stroke-width="2.4" stroke="#969696"/>
<line x1="908.4" y1="2507.0" x2="908.4" y2="2519.0" stroke-width="2.4" stroke="#969696"/>
<line x1="948.4" y1="2507.0" x2="948.4" y2="2519.0" stroke-width="2.4" stroke="#969696"/>
<line x1="988.5" y1="2507.0" x2="988.5" y2="2519.0" stroke-width="2.4" stroke="#969696"/>
<line x1="1028.6" y1="2507.0" x2="1028.6" y2="2519.0" stroke-width="2.4" stroke="#969696"/>
<line x1="1068.7" y1="2507.0" x2="1068.7" y2="2519.0" stroke-width="2.4" stroke="#969696"/>
<line x1="1108.8" y1="2507.0" x2="1108.8" y2="2519.0" stroke-width="2.4" stroke="#969696"/>
<line x1="1148.9" y1="2507.0" x2="1148.9" y2="2519.0" stroke-width="2.4" stroke="#969696"/>
<line x1="1189.0" y1="2507.0" x2="1189.0" y2="2519.0" stroke-width="2.4" stroke="#969696"/>
<line x1="1229.1" y1="2507.0" x2="1229.1" y2="2519.0" stroke-width="2.4" stroke="#969696"/>
<line x1="1269.2" y1="2507.0" x2="1269.2" y2="2519.0" stroke-width="2.4" stroke="#969696"/>
<line x1="1309.2" y1="2507.0" x2="1309.2" y2="2519.0" stroke-width="2.4" stroke="#969696"/>
<line x1="1349.3" y1="2507.0" x2="1349.3" y2="2519.0" stroke-width="2.4" stroke="#969696"/>
<line x1="1389.4" y1="2507.0" x2="1389.4" y2="2519.0" stroke-width="2.4" stroke="#969696"/>
<line x1="1429.5" y1="2507.0" x2="1429.5" y2="2519.0" stroke-width="2.4" stroke="#969696"/>
<line x1="1469.6" y1="2507.0" x2="1469.6" y2="2519.0" stroke-width="2.4" stroke="#969696"/>
<line x1="1509.7" y1="2507.0" x2="1509.7" y2="2519.0" stroke-width="2.4" stroke="#969696"/>
<line x1="1549.8" y1="2507.0" x2="1549.8" y2="2519.0" stroke-width="2.4" stroke="#969696"/>
<line x1="1589.9" y1="2507.0" x2="1589.9" y2="2519.0" stroke-width="2.4" stroke="#969696"/>
<line x1="1630.0" y1="2507.0" x2="1630.0" y2="2519.0" stroke-width="2.4" stroke="#969696"/>
<line x1="1670.1" y1="2507.0" x2="1670.1" y2="2519.0" stroke-width="2.4" stroke="#969696"/>
<line x1="1710.2" y1="2507.0" x2="1710.2" y2="2519.0" stroke-width="2.4" stroke="#969696"/>
<line x1="1750.2" y1="2507.0" x2="1750.2" y2="2519.0" stroke-width="2.4" stroke="#969696"/>
<line x1="1790.3" y1="2507.0" x2="1790.3" y2="2519.0" stroke-width="2.4" stroke="#969696"/>
<line x1="1830.4" y1="2507.0" x2="1830.4" y2="2519.0" stroke-width="2.4" stroke="#969696"/>
<line x1="1870.5" y1="2507.0" x2="1870.5" y2="2519.0" stroke-width="2.4" stroke="#969696"/>
<line x1="1910.6" y1="2507.0" x2="1910.6" y2="2519.0" stroke-width="2.4" stroke="#969696"/>
<line x1="1950.7" y1="2507.0" x2="1950.7" y2="2519.0" stroke-width="2.4" stroke="#969696"/>
<line x1="1990.8" y1="2507.0" x2="1990.8" y2="2519.0" stroke-width="2.4" stroke="#969696"/>
<line x1="2030.9" y1="2507.0" x2="2030.9" y2="2519.0" stroke-width="2.4" stroke="#969696"/>
<line x1="2071.0" y1="2507.0" x2="2071.0" y2="2519.0" stroke-width="2.4" stroke="#969696"/>
<line x1="2111.1" y1="2507.0" x2="2111.1" y2="2519.0" stroke-width="2.4" stroke="#969696"/>
<line x1="2151.1" y1="2507.0" x2="2151.1" y2="2519.0" stroke-width="2.4" stroke="#969696"/>
<line x1="245.5" y1="2346.8" x2="266.5" y2="2346.8" stroke-width="2.4"/>
<line x1="245.5" y1="2186.6" x2="266.5" y2="2186.6" stroke-width="2.4"/>
<line x1="245.5" y1="2026.4" x2="266.5" y2="2026.4" stroke-width="2.4"/>
<line x1="245.5" y1="1866.2" x2="266.5" y2="1866.2" stroke-width="2.4"/>
<line x1="245.5" y1="1706.0" x2="266.5" y2="1706.0" stroke-width="2.4"/>
</g>
<g font-family="'Liberation Sans',sans-serif" font-size="23" fill="#303030" stroke="#303030" stroke-width="0.7" text-anchor="end">
<text transform="translate(239,2515.0) scale(0.87,1)">0</text>
<text transform="translate(239,2354.8) scale(0.87,1)">0.5</text>
<text transform="translate(239,2194.6) scale(0.87,1)">1</text>
<text transform="translate(239,2034.4) scale(0.87,1)">1.5</text>
<text transform="translate(239,1874.2) scale(0.87,1)">2</text>
<text transform="translate(239,1714.0) scale(0.87,1)">2.5</text>
</g>
<g stroke="#8c8c8c" fill="none">
<line x1="266.5" y1="2592.0" x2="266.5" y2="3236.0" stroke-width="5.2" stroke="#989898"/>
<line x1="245.5" y1="3223.0" x2="2163.5" y2="3223.0" stroke-width="3.4"/>
<line x1="307.3" y1="3223.0" x2="307.3" y2="3235.0" stroke-width="2.4" stroke="#969696"/>
<line x1="347.6" y1="3223.0" x2="347.6" y2="3235.0" stroke-width="2.4" stroke="#969696"/>
<line x1="388.0" y1="3223.0" x2="388.0" y2="3235.0" stroke-width="2.4" stroke="#969696"/>
<line x1="428.3" y1="3223.0" x2="428.3" y2="3235.0" stroke-width="2.4" stroke="#969696"/>
<line x1="468.6" y1="3223.0" x2="468.6" y2="3235.0" stroke-width="2.4" stroke="#969696"/>
<line x1="508.9" y1="3223.0" x2="508.9" y2="3235.0" stroke-width="2.4" stroke="#969696"/>
<line x1="549.3" y1="3223.0" x2="549.3" y2="3235.0" stroke-width="2.4" stroke="#969696"/>
<line x1="589.6" y1="3223.0" x2="589.6" y2="3235.0" stroke-width="2.4" stroke="#969696"/>
<line x1="629.9" y1="3223.0" x2="629.9" y2="3235.0" stroke-width="2.4" stroke="#969696"/>
<line x1="670.3" y1="3223.0" x2="670.3" y2="3235.0" stroke-width="2.4" stroke="#969696"/>
<line x1="710.6" y1="3223.0" x2="710.6" y2="3235.0" stroke-width="2.4" stroke="#969696"/>
<line x1="750.9" y1="3223.0" x2="750.9" y2="3235.0" stroke-width="2.4" stroke="#969696"/>
<line x1="791.3" y1="3223.0" x2="791.3" y2="3235.0" stroke-width="2.4" stroke="#969696"/>
<line x1="831.6" y1="3223.0" x2="831.6" y2="3235.0" stroke-width="2.4" stroke="#969696"/>
<line x1="871.9" y1="3223.0" x2="871.9" y2="3235.0" stroke-width="2.4" stroke="#969696"/>
<line x1="912.2" y1="3223.0" x2="912.2" y2="3235.0" stroke-width="2.4" stroke="#969696"/>
<line x1="952.6" y1="3223.0" x2="952.6" y2="3235.0" stroke-width="2.4" stroke="#969696"/>
<line x1="992.9" y1="3223.0" x2="992.9" y2="3235.0" stroke-width="2.4" stroke="#969696"/>
<line x1="1033.2" y1="3223.0" x2="1033.2" y2="3235.0" stroke-width="2.4" stroke="#969696"/>
<line x1="1073.6" y1="3223.0" x2="1073.6" y2="3235.0" stroke-width="2.4" stroke="#969696"/>
<line x1="1113.9" y1="3223.0" x2="1113.9" y2="3235.0" stroke-width="2.4" stroke="#969696"/>
<line x1="1154.2" y1="3223.0" x2="1154.2" y2="3235.0" stroke-width="2.4" stroke="#969696"/>
<line x1="1194.6" y1="3223.0" x2="1194.6" y2="3235.0" stroke-width="2.4" stroke="#969696"/>
<line x1="1234.9" y1="3223.0" x2="1234.9" y2="3235.0" stroke-width="2.4" stroke="#969696"/>
<line x1="1275.2" y1="3223.0" x2="1275.2" y2="3235.0" stroke-width="2.4" stroke="#969696"/>
<line x1="1315.5" y1="3223.0" x2="1315.5" y2="3235.0" stroke-width="2.4" stroke="#969696"/>
<line x1="1355.9" y1="3223.0" x2="1355.9" y2="3235.0" stroke-width="2.4" stroke="#969696"/>
<line x1="1396.2" y1="3223.0" x2="1396.2" y2="3235.0" stroke-width="2.4" stroke="#969696"/>
<line x1="1436.5" y1="3223.0" x2="1436.5" y2="3235.0" stroke-width="2.4" stroke="#969696"/>
<line x1="1476.9" y1="3223.0" x2="1476.9" y2="3235.0" stroke-width="2.4" stroke="#969696"/>
<line x1="1517.2" y1="3223.0" x2="1517.2" y2="3235.0" stroke-width="2.4" stroke="#969696"/>
<line x1="1557.5" y1="3223.0" x2="1557.5" y2="3235.0" stroke-width="2.4" stroke="#969696"/>
<line x1="1597.9" y1="3223.0" x2="1597.9" y2="3235.0" stroke-width="2.4" stroke="#969696"/>
<line x1="1638.2" y1="3223.0" x2="1638.2" y2="3235.0" stroke-width="2.4" stroke="#969696"/>
<line x1="1678.5" y1="3223.0" x2="1678.5" y2="3235.0" stroke-width="2.4" stroke="#969696"/>
<line x1="1718.8" y1="3223.0" x2="1718.8" y2="3235.0" stroke-width="2.4" stroke="#969696"/>
<line x1="1759.2" y1="3223.0" x2="1759.2" y2="3235.0" stroke-width="2.4" stroke="#969696"/>
<line x1="1799.5" y1="3223.0" x2="1799.5" y2="3235.0" stroke-width="2.4" stroke="#969696"/>
<line x1="1839.8" y1="3223.0" x2="1839.8" y2="3235.0" stroke-width="2.4" stroke="#969696"/>
<line x1="1880.2" y1="3223.0" x2="1880.2" y2="3235.0" stroke-width="2.4" stroke="#969696"/>
<line x1="1920.5" y1="3223.0" x2="1920.5" y2="3235.0" stroke-width="2.4" stroke="#969696"/>
<line x1="1960.8" y1="3223.0" x2="1960.8" y2="3235.0" stroke-width="2.4" stroke="#969696"/>
<line x1="2001.2" y1="3223.0" x2="2001.2" y2="3235.0" stroke-width="2.4" stroke="#969696"/>
<line x1="2041.5" y1="3223.0" x2="2041.5" y2="3235.0" stroke-width="2.4" stroke="#969696"/>
<line x1="2081.8" y1="3223.0" x2="2081.8" y2="3235.0" stroke-width="2.4" stroke="#969696"/>
<line x1="2122.2" y1="3223.0" x2="2122.2" y2="3235.0" stroke-width="2.4" stroke="#969696"/>
<line x1="2162.5" y1="3223.0" x2="2162.5" y2="3235.0" stroke-width="2.4" stroke="#969696"/>
<line x1="245.5" y1="3049.7" x2="266.5" y2="3049.7" stroke-width="2.4"/>
<line x1="245.5" y1="2876.3" x2="266.5" y2="2876.3" stroke-width="2.4"/>
<line x1="245.5" y1="2702.9" x2="266.5" y2="2702.9" stroke-width="2.4"/>
</g>
<g font-family="'Liberation Sans',sans-serif" font-size="23" fill="#303030" stroke="#303030" stroke-width="0.7" text-anchor="end">
<text transform="translate(239,3231.0) scale(0.87,1)">0</text>
<text transform="translate(239,3057.7) scale(0.87,1)">0.5</text>
<text transform="translate(239,2884.3) scale(0.87,1)">1</text>
<text transform="translate(239,2710.9) scale(0.87,1)">1.5</text>
</g>
<clipPath id="cpU"><rect x="268" y="1600" width="1900" height="908"/></clipPath>
<clipPath id="cpC"><rect x="268" y="2592" width="1900" height="646"/></clipPath>
<g clip-path="url(#cpU)">
<g><rect x="290.5" y="2156.1" width="33.0" height="63.8" fill="#6ccff5" stroke="#587a8e" stroke-width="2.8"/><rect x="291.5" y="2157.1" width="31.0" height="61.8" fill="url(#gboxhl)"/><line x1="290.5" y1="2186.7" x2="323.5" y2="2186.7" stroke="#587a8e" stroke-width="2.6" opacity="0.85"/><line x1="290.5" y1="2203.3" x2="323.5" y2="2203.3" stroke="#587a8e" stroke-width="2.6" opacity="0.85"/><rect x="330.6" y="2093.6" width="33.0" height="175.3" fill="#6ccff5" stroke="#587a8e" stroke-width="2.8"/><rect x="331.6" y="2094.6" width="31.0" height="173.3" fill="url(#gboxhl)"/><line x1="330.6" y1="2156.8" x2="363.6" y2="2156.8" stroke="#587a8e" stroke-width="2.6" opacity="0.85"/><line x1="330.6" y1="2170.6" x2="363.6" y2="2170.6" stroke="#587a8e" stroke-width="2.6" opacity="0.85"/><rect x="370.7" y="2149.2" width="33.0" height="75.0" fill="#6ccff5" stroke="#587a8e" stroke-width="2.8"/><rect x="371.7" y="2150.2" width="31.0" height="73.0" fill="url(#gboxhl)"/><line x1="370.7" y1="2194.3" x2="403.7" y2="2194.3" stroke="#587a8e" stroke-width="2.6" opacity="0.85"/><rect x="410.8" y="2140.3" width="33.0" height="91.1" fill="#6ccff5" stroke="#587a8e" stroke-width="2.8"/><rect x="411.8" y="2141.3" width="31.0" height="89.1" fill="url(#gboxhl)"/><line x1="410.8" y1="2200.2" x2="443.8" y2="2200.2" stroke="#587a8e" stroke-width="2.6" opacity="0.85"/><line x1="410.8" y1="2205.8" x2="443.8" y2="2205.8" stroke="#587a8e" stroke-width="2.6" opacity="0.85"/><rect x="450.9" y="2159.4" width="33.0" height="56.6" fill="#6ccff5" stroke="#587a8e" stroke-width="2.8"/><rect x="451.9" y="2160.4" width="31.0" height="54.6" fill="url(#gboxhl)"/><line x1="450.9" y1="2165.0" x2="483.9" y2="2165.0" stroke="#587a8e" stroke-width="2.6" opacity="0.85"/><line x1="450.9" y1="2184.1" x2="483.9" y2="2184.1" stroke="#587a8e" stroke-width="2.6" opacity="0.85"/><rect x="491.0" y="2164.5" width="33.0" height="45.2" fill="#6ccff5" stroke="#587a8e" stroke-width="2.8"/><rect x="492.0" y="2165.5" width="31.0" height="43.2" fill="url(#gboxhl)"/><line x1="491.0" y1="2192.6" x2="524.0" y2="2192.6" stroke="#587a8e" stroke-width="2.6" opacity="0.85"/><rect x="531.0" y="2177.8" width="33.0" height="19.9" fill="#6ccff5" stroke="#587a8e" stroke-width="2.8"/><rect x="532.0" y="2178.8" width="31.0" height="17.9" fill="url(#gboxhl)"/><line x1="531.0" y1="2189.2" x2="564.0" y2="2189.2" stroke="#587a8e" stroke-width="2.6" opacity="0.85"/><rect x="571.1" y="2175.7" width="33.0" height="22.4" fill="#6ccff5" stroke="#587a8e" stroke-width="2.8"/><rect x="572.1" y="2176.7" width="31.0" height="20.4" fill="url(#gboxhl)"/><line x1="571.1" y1="2179.8" x2="604.1" y2="2179.8" stroke="#587a8e" stroke-width="2.6" opacity="0.85"/><line x1="571.1" y1="2187.4" x2="604.1" y2="2187.4" stroke="#587a8e" stroke-width="2.6" opacity="0.85"/><rect x="611.2" y="2178.5" width="33.0" height="16.6" fill="#6ccff5" stroke="#587a8e" stroke-width="2.8"/><rect x="612.2" y="2179.5" width="31.0" height="14.6" fill="url(#gboxhl)"/><line x1="611.2" y1="2186.7" x2="644.2" y2="2186.7" stroke="#587a8e" stroke-width="2.6" opacity="0.85"/><rect x="651.3" y="2177.8" width="33.0" height="19.9" fill="#6ccff5" stroke="#587a8e" stroke-width="2.8"/><rect x="652.3" y="2178.8" width="31.0" height="17.9" fill="url(#gboxhl)"/><line x1="651.3" y1="2184.1" x2="684.3" y2="2184.1" stroke="#587a8e" stroke-width="2.6" opacity="0.85"/><rect x="691.4" y="2112.7" width="33.0" height="142.3" fill="#6ccff5" stroke="#587a8e" stroke-width="2.8"/><rect x="692.4" y="2113.7" width="31.0" height="140.3" fill="url(#gboxhl)"/><line x1="691.4" y1="2137.4" x2="724.4" y2="2137.4" stroke="#587a8e" stroke-width="2.6" opacity="0.85"/><line x1="691.4" y1="2186.7" x2="724.4" y2="2186.7" stroke="#587a8e" stroke-width="2.6" opacity="0.85"/><rect x="731.5" y="2077.8" width="33.0" height="203.6" fill="#6ccff5" stroke="#587a8e" stroke-width="2.8"/><rect x="732.5" y="2078.8" width="31.0" height="201.6" fill="url(#gboxhl)"/><line x1="731.5" y1="2142.8" x2="764.5" y2="2142.8" stroke="#587a8e" stroke-width="2.6" opacity="0.85"/><line x1="731.5" y1="2185.4" x2="764.5" y2="2185.4" stroke="#587a8e" stroke-width="2.6" opacity="0.85"/><rect x="771.6" y="2134.4" width="33.0" height="104.1" fill="#6ccff5" stroke="#587a8e" stroke-width="2.8"/><rect x="772.6" y="2135.4" width="31.0" height="102.1" fill="url(#gboxhl)"/><line x1="771.6" y1="2188.5" x2="804.6" y2="2188.5" stroke="#587a8e" stroke-width="2.6" opacity="0.85"/><rect x="811.7" y="2121.1" width="33.0" height="126.3" fill="#6ccff5" stroke="#587a8e" stroke-width="2.8"/><rect x="812.7" y="2122.1" width="31.0" height="124.3" fill="url(#gboxhl)"/><line x1="811.7" y1="2154.0" x2="844.7" y2="2154.0" stroke="#587a8e" stroke-width="2.6" opacity="0.85"/><line x1="811.7" y1="2192.3" x2="844.7" y2="2192.3" stroke="#587a8e" stroke-width="2.6" opacity="0.85"/><rect x="851.8" y="2161.2" width="33.0" height="53.6" fill="#6ccff5" stroke="#587a8e" stroke-width="2.8"/><rect x="852.8" y="2162.2" width="31.0" height="51.6" fill="url(#gboxhl)"/><line x1="851.8" y1="2189.2" x2="884.8" y2="2189.2" stroke="#587a8e" stroke-width="2.6" opacity="0.85"/><rect x="891.9" y="2151.0" width="33.0" height="69.6" fill="#6ccff5" stroke="#587a8e" stroke-width="2.8"/><rect x="892.9" y="2152.0" width="31.0" height="67.6" fill="url(#gboxhl)"/><line x1="891.9" y1="2176.0" x2="924.9" y2="2176.0" stroke="#587a8e" stroke-width="2.6" opacity="0.85"/><rect x="931.9" y="2153.5" width="33.0" height="67.1" fill="#6ccff5" stroke="#587a8e" stroke-width="2.8"/><rect x="932.9" y="2154.5" width="31.0" height="65.1" fill="url(#gboxhl)"/><line x1="931.9" y1="2189.2" x2="964.9" y2="2189.2" stroke="#587a8e" stroke-width="2.6" opacity="0.85"/><line x1="931.9" y1="2208.4" x2="964.9" y2="2208.4" stroke="#587a8e" stroke-width="2.6" opacity="0.85"/><rect x="972.0" y="2172.7" width="33.0" height="28.6" fill="#6ccff5" stroke="#587a8e" stroke-width="2.8"/><rect x="973.0" y="2173.7" width="31.0" height="26.6" fill="url(#gboxhl)"/><line x1="972.0" y1="2182.9" x2="1005.0" y2="2182.9" stroke="#587a8e" stroke-width="2.6" opacity="0.85"/><rect x="1012.1" y="2179.0" width="33.0" height="16.6" fill="#6ccff5" stroke="#587a8e" stroke-width="2.8"/><rect x="1013.1" y="2180.0" width="31.0" height="14.6" fill="url(#gboxhl)"/><line x1="1012.1" y1="2186.7" x2="1045.1" y2="2186.7" stroke="#587a8e" stroke-width="2.6" opacity="0.85"/><rect x="1052.2" y="2157.3" width="33.0" height="59.4" fill="#6ccff5" stroke="#587a8e" stroke-width="2.8"/><rect x="1053.2" y="2158.3" width="31.0" height="57.4" fill="url(#gboxhl)"/><line x1="1052.2" y1="2166.3" x2="1085.2" y2="2166.3" stroke="#587a8e" stroke-width="2.6" opacity="0.85"/><line x1="1052.2" y1="2191.8" x2="1085.2" y2="2191.8" stroke="#587a8e" stroke-width="2.6" opacity="0.85"/><rect x="1092.3" y="2127.5" width="33.0" height="115.8" fill="#6ccff5" stroke="#587a8e" stroke-width="2.8"/><rect x="1093.3" y="2128.5" width="31.0" height="113.8" fill="url(#gboxhl)"/><line x1="1092.3" y1="2185.4" x2="1125.3" y2="2185.4" stroke="#587a8e" stroke-width="2.6" opacity="0.85"/><line x1="1092.3" y1="2221.6" x2="1125.3" y2="2221.6" stroke="#587a8e" stroke-width="2.6" opacity="0.85"/><rect x="1132.4" y="2154.8" width="33.0" height="63.8" fill="#6ccff5" stroke="#587a8e" stroke-width="2.8"/><rect x="1133.4" y="2155.8" width="31.0" height="61.8" fill="url(#gboxhl)"/><line x1="1132.4" y1="2178.5" x2="1165.4" y2="2178.5" stroke="#587a8e" stroke-width="2.6" opacity="0.85"/><line x1="1132.4" y1="2194.3" x2="1165.4" y2="2194.3" stroke="#587a8e" stroke-width="2.6" opacity="0.85"/><rect x="1172.5" y="2124.2" width="33.0" height="119.9" fill="#6ccff5" stroke="#587a8e" stroke-width="2.8"/><rect x="1173.5" y="2125.2" width="31.0" height="117.9" fill="url(#gboxhl)"/><line x1="1172.5" y1="2148.4" x2="1205.5" y2="2148.4" stroke="#587a8e" stroke-width="2.6" opacity="0.85"/><line x1="1172.5" y1="2176.0" x2="1205.5" y2="2176.0" stroke="#587a8e" stroke-width="2.6" opacity="0.85"/><rect x="1212.6" y="2072.7" width="33.0" height="216.1" fill="#6ccff5" stroke="#587a8e" stroke-width="2.8"/><rect x="1213.6" y="2073.7" width="31.0" height="214.1" fill="url(#gboxhl)"/><line x1="1212.6" y1="2099.9" x2="1245.6" y2="2099.9" stroke="#587a8e" stroke-width="2.6" opacity="0.85"/><line x1="1212.6" y1="2200.2" x2="1245.6" y2="2200.2" stroke="#587a8e" stroke-width="2.6" opacity="0.85"/><rect x="1252.7" y="2166.8" width="33.0" height="42.3" fill="#6ccff5" stroke="#587a8e" stroke-width="2.8"/><rect x="1253.7" y="2167.8" width="31.0" height="40.3" fill="url(#gboxhl)"/><line x1="1252.7" y1="2189.2" x2="1285.7" y2="2189.2" stroke="#587a8e" stroke-width="2.6" opacity="0.85"/><rect x="1292.8" y="2151.5" width="33.0" height="70.9" fill="#6ccff5" stroke="#587a8e" stroke-width="2.8"/><rect x="1293.8" y="2152.5" width="31.0" height="68.9" fill="url(#gboxhl)"/><line x1="1292.8" y1="2158.1" x2="1325.8" y2="2158.1" stroke="#587a8e" stroke-width="2.6" opacity="0.85"/><line x1="1292.8" y1="2194.8" x2="1325.8" y2="2194.8" stroke="#587a8e" stroke-width="2.6" opacity="0.85"/><rect x="1332.8" y="2114.0" width="33.0" height="142.9" fill="#6ccff5" stroke="#587a8e" stroke-width="2.8"/><rect x="1333.8" y="2115.0" width="31.0" height="140.9" fill="url(#gboxhl)"/><line x1="1332.8" y1="2179.0" x2="1365.8" y2="2179.0" stroke="#587a8e" stroke-width="2.6" opacity="0.85"/><line x1="1332.8" y1="2253.0" x2="1365.8" y2="2253.0" stroke="#587a8e" stroke-width="2.6" opacity="0.85"/><rect x="1372.9" y="2149.2" width="33.0" height="74.5" fill="#6ccff5" stroke="#587a8e" stroke-width="2.8"/><rect x="1373.9" y="2150.2" width="31.0" height="72.5" fill="url(#gboxhl)"/><line x1="1372.9" y1="2180.3" x2="1405.9" y2="2180.3" stroke="#587a8e" stroke-width="2.6" opacity="0.85"/><line x1="1372.9" y1="2219.8" x2="1405.9" y2="2219.8" stroke="#587a8e" stroke-width="2.6" opacity="0.85"/><rect x="1413.0" y="2169.6" width="33.0" height="36.2" fill="#6ccff5" stroke="#587a8e" stroke-width="2.8"/><rect x="1414.0" y="2170.6" width="31.0" height="34.2" fill="url(#gboxhl)"/><line x1="1413.0" y1="2192.3" x2="1446.0" y2="2192.3" stroke="#587a8e" stroke-width="2.6" opacity="0.85"/><line x1="1413.0" y1="2202.0" x2="1446.0" y2="2202.0" stroke="#587a8e" stroke-width="2.6" opacity="0.85"/><rect x="1453.1" y="2126.3" width="33.0" height="117.3" fill="#6ccff5" stroke="#587a8e" stroke-width="2.8"/><rect x="1454.1" y="2127.3" width="31.0" height="115.3" fill="url(#gboxhl)"/><line x1="1453.1" y1="2178.6" x2="1486.1" y2="2178.6" stroke="#587a8e" stroke-width="2.6" opacity="0.85"/><line x1="1453.1" y1="2225.3" x2="1486.1" y2="2225.3" stroke="#587a8e" stroke-width="2.6" opacity="0.85"/><rect x="1493.2" y="2175.6" width="33.0" height="25.0" fill="#6ccff5" stroke="#587a8e" stroke-width="2.8"/><rect x="1494.2" y="2176.6" width="31.0" height="23.0" fill="url(#gboxhl)"/><line x1="1493.2" y1="2185.8" x2="1526.2" y2="2185.8" stroke="#587a8e" stroke-width="2.6" opacity="0.85"/><line x1="1493.2" y1="2198.5" x2="1526.2" y2="2198.5" stroke="#587a8e" stroke-width="2.6" opacity="0.85"/><rect x="1533.3" y="2150.6" width="33.0" height="71.4" fill="#6ccff5" stroke="#587a8e" stroke-width="2.8"/><rect x="1534.3" y="2151.6" width="31.0" height="69.4" fill="url(#gboxhl)"/><line x1="1533.3" y1="2184.0" x2="1566.3" y2="2184.0" stroke="#587a8e" stroke-width="2.6" opacity="0.85"/><line x1="1533.3" y1="2217.7" x2="1566.3" y2="2217.7" stroke="#587a8e" stroke-width="2.6" opacity="0.85"/><rect x="1573.4" y="2025.1" width="33.0" height="295.2" fill="#6ccff5" stroke="#587a8e" stroke-width="2.8"/><rect x="1574.4" y="2026.1" width="31.0" height="293.2" fill="url(#gboxhl)"/><line x1="1573.4" y1="2207.4" x2="1606.4" y2="2207.4" stroke="#587a8e" stroke-width="2.6" opacity="0.85"/><line x1="1573.4" y1="2235.5" x2="1606.4" y2="2235.5" stroke="#587a8e" stroke-width="2.6" opacity="0.85"/><rect x="1613.5" y="2173.0" width="33.0" height="27.6" fill="#6ccff5" stroke="#587a8e" stroke-width="2.8"/><rect x="1614.5" y="2174.0" width="31.0" height="25.6" fill="url(#gboxhl)"/><line x1="1613.5" y1="2184.5" x2="1646.5" y2="2184.5" stroke="#587a8e" stroke-width="2.6" opacity="0.85"/><line x1="1613.5" y1="2191.4" x2="1646.5" y2="2191.4" stroke="#587a8e" stroke-width="2.6" opacity="0.85"/><rect x="1653.6" y="2178.1" width="33.0" height="19.9" fill="#6ccff5" stroke="#587a8e" stroke-width="2.8"/><rect x="1654.6" y="2179.1" width="31.0" height="17.9" fill="url(#gboxhl)"/><line x1="1653.6" y1="2187.8" x2="1686.6" y2="2187.8" stroke="#587a8e" stroke-width="2.6" opacity="0.85"/><rect x="1693.7" y="2176.8" width="33.0" height="21.7" fill="#00cc4e" stroke="#157a3c" stroke-width="2.8"/><rect x="1694.7" y="2177.8" width="31.0" height="19.7" fill="url(#ggrnhl)"/><line x1="1693.7" y1="2187.8" x2="1726.7" y2="2187.8" stroke="#15803c" stroke-width="2.6" opacity="0.85"/><rect x="1733.7" y="2164.1" width="33.0" height="47.2" fill="#00cc4e" stroke="#157a3c" stroke-width="2.8"/><rect x="1734.7" y="2165.1" width="31.0" height="45.2" fill="url(#ggrnhl)"/><line x1="1733.7" y1="2189.6" x2="1766.7" y2="2189.6" stroke="#15803c" stroke-width="2.6" opacity="0.85"/><rect x="1773.8" y="2170.5" width="33.0" height="33.2" fill="#00cc4e" stroke="#157a3c" stroke-width="2.8"/><rect x="1774.8" y="2171.5" width="31.0" height="31.2" fill="url(#ggrnhl)"/><line x1="1773.8" y1="2187.8" x2="1806.8" y2="2187.8" stroke="#15803c" stroke-width="2.6" opacity="0.85"/><rect x="1813.9" y="2178.1" width="33.0" height="19.1" fill="#00cc4e" stroke="#157a3c" stroke-width="2.8"/><rect x="1814.9" y="2179.1" width="31.0" height="17.1" fill="url(#ggrnhl)"/><line x1="1813.9" y1="2187.0" x2="1846.9" y2="2187.0" stroke="#15803c" stroke-width="2.6" opacity="0.85"/><rect x="1854.0" y="2155.2" width="33.0" height="63.8" fill="#00cc4e" stroke="#157a3c" stroke-width="2.8"/><rect x="1855.0" y="2156.2" width="31.0" height="61.8" fill="url(#ggrnhl)"/><line x1="1854.0" y1="2185.8" x2="1887.0" y2="2185.8" stroke="#15803c" stroke-width="2.6" opacity="0.85"/><rect x="1894.1" y="2149.3" width="33.0" height="73.5" fill="#00cc4e" stroke="#157a3c" stroke-width="2.8"/><rect x="1895.1" y="2150.3" width="31.0" height="71.5" fill="url(#ggrnhl)"/><line x1="1894.1" y1="2175.6" x2="1927.1" y2="2175.6" stroke="#15803c" stroke-width="2.6" opacity="0.85"/><line x1="1894.1" y1="2205.7" x2="1927.1" y2="2205.7" stroke="#15803c" stroke-width="2.6" opacity="0.85"/><rect x="1934.2" y="2151.3" width="33.0" height="71.4" fill="#00cc4e" stroke="#157a3c" stroke-width="2.8"/><rect x="1935.2" y="2152.3" width="31.0" height="69.4" fill="url(#ggrnhl)"/><line x1="1934.2" y1="2192.1" x2="1967.2" y2="2192.1" stroke="#15803c" stroke-width="2.6" opacity="0.85"/><rect x="1974.3" y="2153.1" width="33.0" height="68.4" fill="#00cc4e" stroke="#157a3c" stroke-width="2.8"/><rect x="1975.3" y="2154.1" width="31.0" height="66.4" fill="url(#ggrnhl)"/><line x1="1974.3" y1="2190.9" x2="2007.3" y2="2190.9" stroke="#15803c" stroke-width="2.6" opacity="0.85"/><rect x="2014.4" y="2155.2" width="33.0" height="63.8" fill="#00cc4e" stroke="#157a3c" stroke-width="2.8"/><rect x="2015.4" y="2156.2" width="31.0" height="61.8" fill="url(#ggrnhl)"/><line x1="2014.4" y1="2175.6" x2="2047.4" y2="2175.6" stroke="#15803c" stroke-width="2.6" opacity="0.85"/><line x1="2014.4" y1="2194.7" x2="2047.4" y2="2194.7" stroke="#15803c" stroke-width="2.6" opacity="0.85"/><rect x="2054.5" y="1880.9" width="33.0" height="516.1" fill="#00cc4e" stroke="#157a3c" stroke-width="2.8"/><rect x="2055.5" y="1881.9" width="31.0" height="514.1" fill="url(#ggrnhl)"/><line x1="2054.5" y1="2028.4" x2="2087.5" y2="2028.4" stroke="#15803c" stroke-width="2.6" opacity="0.85"/><line x1="2054.5" y1="2133.5" x2="2087.5" y2="2133.5" stroke="#15803c" stroke-width="2.6" opacity="0.85"/><rect x="2094.6" y="2185.5" width="33.0" height="3.1" fill="#222" stroke="#333" stroke-width="1.5"/></g>
<g stroke="#383838" stroke-width="2.7" opacity="0.64"><line x1="307.0" y1="2123.4" x2="307.0" y2="2204.5"/><line x1="290.5" y1="2123.4" x2="323.5" y2="2123.4"/><line x1="290.5" y1="2204.5" x2="323.5" y2="2204.5"/><line x1="347.1" y1="2158.6" x2="347.1" y2="2312.4"/><line x1="330.6" y1="2158.6" x2="363.6" y2="2158.6"/><line x1="330.6" y1="2312.4" x2="363.6" y2="2312.4"/><line x1="387.2" y1="2273.4" x2="387.2" y2="2328.8"/><line x1="370.7" y1="2273.4" x2="403.7" y2="2273.4"/><line x1="370.7" y1="2328.8" x2="403.7" y2="2328.8"/><line x1="427.3" y1="2205.8" x2="427.3" y2="2286.7"/><line x1="410.8" y1="2205.8" x2="443.8" y2="2205.8"/><line x1="410.8" y1="2286.7" x2="443.8" y2="2286.7"/><line x1="467.4" y1="2165.0" x2="467.4" y2="2242.8"/><line x1="450.9" y1="2165.0" x2="483.9" y2="2165.0"/><line x1="450.9" y1="2242.8" x2="483.9" y2="2242.8"/><line x1="507.5" y1="2149.2" x2="507.5" y2="2216.5"/><line x1="491.0" y1="2149.2" x2="524.0" y2="2149.2"/><line x1="491.0" y1="2216.5" x2="524.0" y2="2216.5"/><line x1="547.5" y1="2140.8" x2="547.5" y2="2204.5"/><line x1="531.0" y1="2140.8" x2="564.0" y2="2140.8"/><line x1="531.0" y1="2204.5" x2="564.0" y2="2204.5"/><line x1="587.6" y1="2176.5" x2="587.6" y2="2227.5"/><line x1="571.1" y1="2176.5" x2="604.1" y2="2176.5"/><line x1="571.1" y1="2227.5" x2="604.1" y2="2227.5"/><line x1="627.7" y1="2159.4" x2="627.7" y2="2213.0"/><line x1="611.2" y1="2159.4" x2="644.2" y2="2159.4"/><line x1="611.2" y1="2213.0" x2="644.2" y2="2213.0"/><line x1="667.8" y1="2184.1" x2="667.8" y2="2233.1"/><line x1="651.3" y1="2184.1" x2="684.3" y2="2184.1"/><line x1="651.3" y1="2233.1" x2="684.3" y2="2233.1"/><line x1="707.9" y1="2137.4" x2="707.9" y2="2272.1"/><line x1="691.4" y1="2137.4" x2="724.4" y2="2137.4"/><line x1="691.4" y1="2272.1" x2="724.4" y2="2272.1"/><line x1="748.0" y1="2142.8" x2="748.0" y2="2312.4"/><line x1="731.5" y1="2142.8" x2="764.5" y2="2142.8"/><line x1="731.5" y1="2312.4" x2="764.5" y2="2312.4"/><line x1="788.1" y1="2128.0" x2="788.1" y2="2238.5"/><line x1="771.6" y1="2128.0" x2="804.6" y2="2128.0"/><line x1="771.6" y1="2238.5" x2="804.6" y2="2238.5"/><line x1="828.2" y1="2155.3" x2="828.2" y2="2270.9"/><line x1="811.7" y1="2155.3" x2="844.7" y2="2155.3"/><line x1="811.7" y1="2270.9" x2="844.7" y2="2270.9"/><line x1="868.3" y1="2161.2" x2="868.3" y2="2230.1"/><line x1="851.8" y1="2161.2" x2="884.8" y2="2161.2"/><line x1="851.8" y1="2230.1" x2="884.8" y2="2230.1"/><line x1="908.4" y1="2151.0" x2="908.4" y2="2230.1"/><line x1="891.9" y1="2151.0" x2="924.9" y2="2151.0"/><line x1="891.9" y1="2230.1" x2="924.9" y2="2230.1"/><line x1="948.4" y1="2122.9" x2="948.4" y2="2208.4"/><line x1="931.9" y1="2122.9" x2="964.9" y2="2122.9"/><line x1="931.9" y1="2208.4" x2="964.9" y2="2208.4"/><line x1="988.5" y1="2160.7" x2="988.5" y2="2221.9"/><line x1="972.0" y1="2160.7" x2="1005.0" y2="2160.7"/><line x1="972.0" y1="2221.9" x2="1005.0" y2="2221.9"/><line x1="1028.6" y1="2130.6" x2="1028.6" y2="2190.5"/><line x1="1012.1" y1="2130.6" x2="1045.1" y2="2130.6"/><line x1="1012.1" y1="2190.5" x2="1045.1" y2="2190.5"/><line x1="1068.7" y1="2167.6" x2="1068.7" y2="2237.2"/><line x1="1052.2" y1="2167.6" x2="1085.2" y2="2167.6"/><line x1="1052.2" y1="2237.2" x2="1085.2" y2="2237.2"/><line x1="1108.8" y1="2069.8" x2="1108.8" y2="2221.6"/><line x1="1092.3" y1="2069.8" x2="1125.3" y2="2069.8"/><line x1="1092.3" y1="2221.6" x2="1125.3" y2="2221.6"/><line x1="1148.9" y1="2092.3" x2="1148.9" y2="2194.8"/><line x1="1132.4" y1="2092.3" x2="1165.4" y2="2092.3"/><line x1="1132.4" y1="2194.8" x2="1165.4" y2="2194.8"/><line x1="1189.0" y1="2148.4" x2="1189.0" y2="2265.8"/><line x1="1172.5" y1="2148.4" x2="1205.5" y2="2148.4"/><line x1="1172.5" y1="2265.8" x2="1205.5" y2="2265.8"/><line x1="1229.1" y1="2099.9" x2="1229.1" y2="2290.0"/><line x1="1212.6" y1="2099.9" x2="1245.6" y2="2099.9"/><line x1="1212.6" y1="2290.0" x2="1245.6" y2="2290.0"/><line x1="1269.2" y1="2152.2" x2="1269.2" y2="2215.5"/><line x1="1252.7" y1="2152.2" x2="1285.7" y2="2152.2"/><line x1="1252.7" y1="2215.5" x2="1285.7" y2="2215.5"/><line x1="1309.2" y1="2154.8" x2="1309.2" y2="2237.2"/><line x1="1292.8" y1="2154.8" x2="1325.8" y2="2154.8"/><line x1="1292.8" y1="2237.2" x2="1325.8" y2="2237.2"/><line x1="1349.3" y1="2115.3" x2="1349.3" y2="2256.8"/><line x1="1332.8" y1="2115.3" x2="1365.8" y2="2115.3"/><line x1="1332.8" y1="2256.8" x2="1365.8" y2="2256.8"/><line x1="1389.4" y1="2131.8" x2="1389.4" y2="2221.1"/><line x1="1372.9" y1="2131.8" x2="1405.9" y2="2131.8"/><line x1="1372.9" y1="2221.1" x2="1405.9" y2="2221.1"/><line x1="1429.5" y1="2136.4" x2="1429.5" y2="2203.3"/><line x1="1413.0" y1="2136.4" x2="1446.0" y2="2136.4"/><line x1="1413.0" y1="2203.3" x2="1446.0" y2="2203.3"/><line x1="1469.6" y1="2091.4" x2="1469.6" y2="2225.3"/><line x1="1453.1" y1="2091.4" x2="1486.1" y2="2091.4"/><line x1="1453.1" y1="2225.3" x2="1486.1" y2="2225.3"/><line x1="1509.7" y1="2134.7" x2="1509.7" y2="2201.1"/><line x1="1493.2" y1="2134.7" x2="1526.2" y2="2134.7"/><line x1="1493.2" y1="2201.1" x2="1526.2" y2="2201.1"/><line x1="1549.8" y1="2114.3" x2="1549.8" y2="2217.7"/><line x1="1533.3" y1="2114.3" x2="1566.3" y2="2114.3"/><line x1="1533.3" y1="2217.7" x2="1566.3" y2="2217.7"/><line x1="1589.9" y1="1848.5" x2="1589.9" y2="2235.8"/><line x1="1573.4" y1="1848.5" x2="1606.4" y2="1848.5"/><line x1="1573.4" y1="2235.8" x2="1606.4" y2="2235.8"/><line x1="1630.0" y1="2164.8" x2="1630.0" y2="2227.3"/><line x1="1613.5" y1="2164.8" x2="1646.5" y2="2164.8"/><line x1="1613.5" y1="2227.3" x2="1646.5" y2="2227.3"/><line x1="1670.1" y1="2159.5" x2="1670.1" y2="2218.9"/><line x1="1653.6" y1="2159.5" x2="1686.6" y2="2159.5"/><line x1="1653.6" y1="2218.9" x2="1686.6" y2="2218.9"/><line x1="1710.2" y1="2146.2" x2="1710.2" y2="2208.0"/><line x1="1693.7" y1="2146.2" x2="1726.7" y2="2146.2"/><line x1="1693.7" y1="2208.0" x2="1726.7" y2="2208.0"/><line x1="1750.2" y1="2167.7" x2="1750.2" y2="2233.0"/><line x1="1733.7" y1="2167.7" x2="1766.7" y2="2167.7"/><line x1="1733.7" y1="2233.0" x2="1766.7" y2="2233.0"/><line x1="1790.3" y1="2156.4" x2="1790.3" y2="2217.7"/><line x1="1773.8" y1="2156.4" x2="1806.8" y2="2156.4"/><line x1="1773.8" y1="2217.7" x2="1806.8" y2="2217.7"/><line x1="1830.4" y1="2156.9" x2="1830.4" y2="2215.9"/><line x1="1813.9" y1="2156.9" x2="1846.9" y2="2156.9"/><line x1="1813.9" y1="2215.9" x2="1846.9" y2="2215.9"/><line x1="1870.5" y1="2144.9" x2="1870.5" y2="2224.0"/><line x1="1854.0" y1="2144.9" x2="1887.0" y2="2144.9"/><line x1="1854.0" y1="2224.0" x2="1887.0" y2="2224.0"/><line x1="1910.6" y1="2113.1" x2="1910.6" y2="2206.2"/><line x1="1894.1" y1="2113.1" x2="1927.1" y2="2113.1"/><line x1="1894.1" y1="2206.2" x2="1927.1" y2="2206.2"/><line x1="1950.7" y1="2147.5" x2="1950.7" y2="2228.4"/><line x1="1934.2" y1="2147.5" x2="1967.2" y2="2147.5"/><line x1="1934.2" y1="2228.4" x2="1967.2" y2="2228.4"/><line x1="1990.8" y1="2134.2" x2="1990.8" y2="2228.4"/><line x1="1974.3" y1="2134.2" x2="2007.3" y2="2134.2"/><line x1="1974.3" y1="2228.4" x2="2007.3" y2="2228.4"/><line x1="2030.9" y1="2175.6" x2="2030.9" y2="2255.9"/><line x1="2014.4" y1="2175.6" x2="2047.4" y2="2175.6"/><line x1="2014.4" y1="2255.9" x2="2047.4" y2="2255.9"/><line x1="2071.0" y1="2030.4" x2="2071.0" y2="2445.5"/><line x1="2054.5" y1="2030.4" x2="2087.5" y2="2030.4"/><line x1="2054.5" y1="2445.5" x2="2087.5" y2="2445.5"/><line x1="2111.1" y1="2167.9" x2="2111.1" y2="2222.0"/><line x1="2094.6" y1="2167.9" x2="2127.6" y2="2167.9"/><line x1="2094.6" y1="2222.0" x2="2127.6" y2="2222.0"/></g>
<g stroke="#fff000" stroke-width="3" fill="none"><path d="M304.2 2184.6l5.6 5.6m0 -5.6l-5.6 5.6" /><path d="M344.3 2179.5l5.6 5.6m0 -5.6l-5.6 5.6" /><path d="M384.4 2184.4l5.6 5.6m0 -5.6l-5.6 5.6" /><path d="M424.5 2183.9l5.6 5.6m0 -5.6l-5.6 5.6" /><path d="M464.6 2184.6l5.6 5.6m0 -5.6l-5.6 5.6" /><path d="M504.7 2181.3l5.6 5.6m0 -5.6l-5.6 5.6" /><path d="M544.7 2185.2l5.6 5.6m0 -5.6l-5.6 5.6" /><path d="M584.8 2184.6l5.6 5.6m0 -5.6l-5.6 5.6" /><path d="M624.9 2183.9l5.6 5.6m0 -5.6l-5.6 5.6" /><path d="M665.0 2185.2l5.6 5.6m0 -5.6l-5.6 5.6" /><path d="M705.1 2181.8l5.6 5.6m0 -5.6l-5.6 5.6" /><path d="M745.2 2178.0l5.6 5.6m0 -5.6l-5.6 5.6" /><path d="M785.3 2183.9l5.6 5.6m0 -5.6l-5.6 5.6" /><path d="M825.4 2182.6l5.6 5.6m0 -5.6l-5.6 5.6" /><path d="M865.5 2183.9l5.6 5.6m0 -5.6l-5.6 5.6" /><path d="M905.6 2183.9l5.6 5.6m0 -5.6l-5.6 5.6" /><path d="M945.6 2185.2l5.6 5.6m0 -5.6l-5.6 5.6" /><path d="M985.7 2185.2l5.6 5.6m0 -5.6l-5.6 5.6" /><path d="M1025.8 2185.7l5.6 5.6m0 -5.6l-5.6 5.6" /><path d="M1065.9 2184.6l5.6 5.6m0 -5.6l-5.6 5.6" /><path d="M1106.0 2182.6l5.6 5.6m0 -5.6l-5.6 5.6" /><path d="M1146.1 2185.2l5.6 5.6m0 -5.6l-5.6 5.6" /><path d="M1186.2 2182.6l5.6 5.6m0 -5.6l-5.6 5.6" /><path d="M1226.3 2177.5l5.6 5.6m0 -5.6l-5.6 5.6" /><path d="M1266.4 2183.9l5.6 5.6m0 -5.6l-5.6 5.6" /><path d="M1306.5 2182.6l5.6 5.6m0 -5.6l-5.6 5.6" /><path d="M1346.5 2183.9l5.6 5.6m0 -5.6l-5.6 5.6" /><path d="M1386.6 2184.6l5.6 5.6m0 -5.6l-5.6 5.6" /><path d="M1426.7 2184.6l5.6 5.6m0 -5.6l-5.6 5.6" /><path d="M1466.8 2183.0l5.6 5.6m0 -5.6l-5.6 5.6" /><path d="M1506.9 2185.0l5.6 5.6m0 -5.6l-5.6 5.6" /><path d="M1547.0 2184.2l5.6 5.6m0 -5.6l-5.6 5.6" /><path d="M1587.1 2171.0l5.6 5.6m0 -5.6l-5.6 5.6" /><path d="M1627.2 2184.2l5.6 5.6m0 -5.6l-5.6 5.6" /><path d="M1667.3 2185.0l5.6 5.6m0 -5.6l-5.6 5.6" /><path d="M1707.4 2185.5l5.6 5.6m0 -5.6l-5.6 5.6" /><path d="M1747.4 2184.2l5.6 5.6m0 -5.6l-5.6 5.6" /><path d="M1787.5 2184.2l5.6 5.6m0 -5.6l-5.6 5.6" /><path d="M1827.6 2184.2l5.6 5.6m0 -5.6l-5.6 5.6" /><path d="M1867.7 2183.0l5.6 5.6m0 -5.6l-5.6 5.6" /><path d="M1907.8 2184.2l5.6 5.6m0 -5.6l-5.6 5.6" /><path d="M1947.9 2185.5l5.6 5.6m0 -5.6l-5.6 5.6" /><path d="M1988.0 2185.5l5.6 5.6m0 -5.6l-5.6 5.6" /><path d="M2028.1 2184.2l5.6 5.6m0 -5.6l-5.6 5.6" /><path d="M2068.2 2136.5l5.6 5.6m0 -5.6l-5.6 5.6" /><path d="M2108.2 2183.0l5.6 5.6m0 -5.6l-5.6 5.6" /></g>
<path d="M305.5 2091.8C308.8 2091.1 319.4 2088.2 325.9 2087.2C332.4 2086.2 340.2 2085.4 346.3 2085.4C352.4 2085.4 358.5 2086.4 364.2 2087.2C369.9 2088.0 371.0 2089.9 382.0 2090.5C393.1 2091.1 392.2 2090.9 433.1 2091.0C473.9 2091.1 597.6 2091.0 637.1 2091.0C676.7 2091.0 669.1 2091.4 680.0 2091.0C690.9 2090.6 697.3 2089.6 705.5 2088.5C713.7 2087.3 724.3 2084.8 731.0 2083.9C737.8 2083.0 742.3 2082.7 747.6 2082.9C752.9 2083.0 757.9 2083.7 764.2 2084.6C770.5 2085.6 778.2 2088.4 787.1 2089.0C796.1 2089.5 808.9 2087.8 820.3 2088.0C831.7 2088.2 840.2 2089.8 858.6 2090.3C876.9 2090.7 906.5 2091.0 935.1 2091.0C963.7 2091.1 1014.0 2090.8 1037.1 2090.5C1060.3 2090.2 1065.0 2089.1 1080.0 2089.0C1095.0 2088.9 1118.8 2089.5 1131.0 2089.7C1143.3 2090.0 1147.1 2090.7 1156.5 2090.5C1165.9 2090.3 1180.7 2089.4 1189.7 2088.5C1198.7 2087.5 1206.3 2085.5 1212.7 2084.6C1219.0 2083.7 1223.9 2082.7 1229.2 2082.9C1234.5 2083.0 1240.3 2084.3 1245.8 2085.4C1251.3 2086.5 1255.5 2088.8 1263.7 2089.7C1271.8 2090.6 1283.4 2091.4 1296.8 2091.0C1310.3 2090.6 1333.6 2087.3 1347.9 2087.2C1362.1 2087.1 1373.9 2089.9 1386.1 2090.5C1398.4 2091.1 1415.8 2091.0 1424.4 2091.0C1433.0 2091.0 1432.6 2091.0 1440.0 2090.6C1447.4 2090.3 1460.4 2088.8 1470.6 2088.8C1480.8 2088.8 1492.3 2090.2 1503.8 2090.6C1515.2 2091.0 1533.1 2091.9 1542.0 2091.4C1551.0 2090.9 1554.2 2089.5 1559.9 2087.6C1565.6 2085.6 1572.9 2081.1 1577.8 2079.4C1582.7 2077.7 1586.4 2076.8 1590.5 2076.8C1594.6 2076.8 1598.8 2077.7 1603.3 2079.4C1607.8 2081.1 1613.7 2085.6 1618.6 2087.6C1623.5 2089.5 1617.6 2090.8 1633.9 2091.4C1650.2 2092.0 1694.5 2091.4 1720.6 2091.4C1746.7 2091.4 1768.1 2091.4 1797.1 2091.4C1826.2 2091.4 1869.7 2091.4 1902.0 2091.4C1934.3 2091.4 1980.2 2091.0 1999.0 2091.4C2017.8 2091.8 2014.5 2093.9 2019.4 2093.9C2024.3 2093.9 2025.9 2094.4 2029.6 2091.4C2033.3 2088.3 2038.3 2080.7 2042.3 2074.8C2046.4 2068.9 2051.4 2059.4 2055.1 2054.4C2058.8 2049.4 2062.7 2045.7 2065.3 2043.7C2067.9 2041.6 2069.1 2041.6 2071.2 2041.6C2073.2 2041.7 2075.3 2041.7 2078.1 2044.2C2080.8 2046.6 2084.6 2051.8 2088.3 2056.9C2091.9 2062.0 2097.1 2070.4 2101.0 2076.1C2104.9 2081.7 2110.7 2089.6 2112.5 2092.1" fill="none" stroke="#1e14dc" stroke-width="3.1" stroke-linecap="round"/>
<path d="M305.5 2284.6C308.8 2283.9 319.4 2281.0 325.9 2280.0C332.4 2279.0 340.2 2278.2 346.3 2278.2C352.4 2278.2 358.5 2279.2 364.2 2280.0C369.9 2280.8 371.0 2282.7 382.0 2283.3C393.1 2283.9 392.2 2283.7 433.1 2283.8C473.9 2283.9 597.6 2283.8 637.1 2283.8C676.7 2283.8 669.1 2284.2 680.0 2283.8C690.9 2283.4 697.3 2282.4 705.5 2281.3C713.7 2280.1 724.3 2277.6 731.0 2276.7C737.8 2275.8 742.3 2275.5 747.6 2275.7C752.9 2275.8 757.9 2276.5 764.2 2277.4C770.5 2278.4 778.2 2281.2 787.1 2281.8C796.1 2282.3 808.9 2280.6 820.3 2280.8C831.7 2281.0 840.2 2282.6 858.6 2283.1C876.9 2283.5 906.5 2283.8 935.1 2283.8C963.7 2283.9 1014.0 2283.6 1037.1 2283.3C1060.3 2283.0 1065.0 2281.9 1080.0 2281.8C1095.0 2281.7 1118.8 2282.3 1131.0 2282.5C1143.3 2282.8 1147.1 2283.5 1156.5 2283.3C1165.9 2283.1 1180.7 2282.2 1189.7 2281.3C1198.7 2280.3 1206.3 2278.3 1212.7 2277.4C1219.0 2276.5 1223.9 2275.5 1229.2 2275.7C1234.5 2275.8 1240.3 2277.1 1245.8 2278.2C1251.3 2279.3 1255.5 2281.6 1263.7 2282.5C1271.8 2283.4 1283.4 2284.2 1296.8 2283.8C1310.3 2283.4 1333.6 2280.1 1347.9 2280.0C1362.1 2279.9 1373.9 2282.7 1386.1 2283.3C1398.4 2283.9 1415.8 2283.8 1424.4 2283.8C1433.0 2283.8 1432.6 2283.8 1440.0 2283.4C1447.4 2283.1 1460.4 2281.6 1470.6 2281.6C1480.8 2281.6 1492.3 2283.0 1503.8 2283.4C1515.2 2283.8 1533.1 2284.7 1542.0 2284.2C1551.0 2283.7 1554.2 2282.3 1559.9 2280.4C1565.6 2278.4 1572.9 2273.9 1577.8 2272.2C1582.7 2270.5 1586.4 2269.6 1590.5 2269.6C1594.6 2269.6 1598.8 2270.5 1603.3 2272.2C1607.8 2273.9 1613.7 2278.4 1618.6 2280.4C1623.5 2282.3 1617.6 2283.6 1633.9 2284.2C1650.2 2284.8 1694.5 2284.2 1720.6 2284.2C1746.7 2284.2 1768.1 2284.2 1797.1 2284.2C1826.2 2284.2 1869.7 2284.2 1902.0 2284.2C1934.3 2284.2 1980.2 2283.8 1999.0 2284.2C2017.8 2284.6 2014.5 2286.7 2019.4 2286.7C2024.3 2286.7 2025.9 2287.2 2029.6 2284.2C2033.3 2281.1 2038.3 2273.5 2042.3 2267.6C2046.4 2261.7 2051.4 2252.2 2055.1 2247.2C2058.8 2242.2 2062.7 2238.5 2065.3 2236.5C2067.9 2234.4 2069.1 2234.4 2071.2 2234.4C2073.2 2234.5 2075.3 2234.5 2078.1 2237.0C2080.8 2239.4 2084.6 2244.6 2088.3 2249.7C2091.9 2254.8 2097.1 2263.2 2101.0 2268.9C2104.9 2274.5 2110.7 2282.4 2112.5 2284.9" fill="none" stroke="#fa1c12" stroke-width="3.0" stroke-linecap="round"/>
<circle cx="307.0" cy="2164.5" r="8.3" fill="#000" stroke="#8a0010" stroke-width="1.8"/><circle cx="347.1" cy="2235.9" r="8.3" fill="#000" stroke="#8a0010" stroke-width="1.8"/><circle cx="387.2" cy="2301.5" r="9.1" fill="#ff0000"/><circle cx="427.3" cy="2246.6" r="8.3" fill="#000" stroke="#8a0010" stroke-width="1.8"/><circle cx="467.4" cy="2204.5" r="8.3" fill="#000" stroke="#8a0010" stroke-width="1.8"/><circle cx="507.5" cy="2184.1" r="8.3" fill="#000" stroke="#8a0010" stroke-width="1.8"/><circle cx="547.5" cy="2172.7" r="8.3" fill="#000" stroke="#8a0010" stroke-width="1.8"/><circle cx="587.6" cy="2202.0" r="8.3" fill="#000" stroke="#8a0010" stroke-width="1.8"/><circle cx="627.7" cy="2186.2" r="8.3" fill="#000" stroke="#8a0010" stroke-width="1.8"/><circle cx="667.8" cy="2208.4" r="8.3" fill="#000" stroke="#8a0010" stroke-width="1.8"/><circle cx="707.9" cy="2205.3" r="8.3" fill="#000" stroke="#8a0010" stroke-width="1.8"/><circle cx="748.0" cy="2228.3" r="8.3" fill="#000" stroke="#8a0010" stroke-width="1.8"/><circle cx="788.1" cy="2182.9" r="8.3" fill="#000" stroke="#8a0010" stroke-width="1.8"/><circle cx="828.2" cy="2213.5" r="8.3" fill="#000" stroke="#8a0010" stroke-width="1.8"/><circle cx="868.3" cy="2195.6" r="8.3" fill="#000" stroke="#8a0010" stroke-width="1.8"/><circle cx="908.4" cy="2190.5" r="8.3" fill="#000" stroke="#8a0010" stroke-width="1.8"/><circle cx="948.4" cy="2166.3" r="8.3" fill="#000" stroke="#8a0010" stroke-width="1.8"/><circle cx="988.5" cy="2191.8" r="8.3" fill="#000" stroke="#8a0010" stroke-width="1.8"/><circle cx="1028.6" cy="2160.4" r="8.3" fill="#000" stroke="#8a0010" stroke-width="1.8"/><circle cx="1068.7" cy="2202.8" r="8.3" fill="#000" stroke="#8a0010" stroke-width="1.8"/><circle cx="1108.8" cy="2145.4" r="8.3" fill="#000" stroke="#8a0010" stroke-width="1.8"/><circle cx="1148.9" cy="2144.6" r="8.3" fill="#000" stroke="#8a0010" stroke-width="1.8"/><circle cx="1189.0" cy="2207.1" r="8.3" fill="#000" stroke="#8a0010" stroke-width="1.8"/><circle cx="1229.1" cy="2195.1" r="8.3" fill="#000" stroke="#8a0010" stroke-width="1.8"/><circle cx="1269.2" cy="2184.6" r="8.3" fill="#000" stroke="#8a0010" stroke-width="1.8"/><circle cx="1309.2" cy="2196.1" r="8.3" fill="#000" stroke="#8a0010" stroke-width="1.8"/><circle cx="1349.3" cy="2187.2" r="8.3" fill="#000" stroke="#8a0010" stroke-width="1.8"/><circle cx="1389.4" cy="2176.5" r="8.3" fill="#000" stroke="#8a0010" stroke-width="1.8"/><circle cx="1429.5" cy="2170.1" r="8.3" fill="#000" stroke="#8a0010" stroke-width="1.8"/><circle cx="1469.6" cy="2158.5" r="8.3" fill="#000" stroke="#8a0010" stroke-width="1.8"/><circle cx="1509.7" cy="2168.7" r="8.3" fill="#000" stroke="#8a0010" stroke-width="1.8"/><circle cx="1549.8" cy="2166.1" r="8.3" fill="#000" stroke="#8a0010" stroke-width="1.8"/><circle cx="1589.9" cy="2042.1" r="8.3" fill="#0000ff" stroke="#a00060" stroke-width="1.8"/><circle cx="1630.0" cy="2196.7" r="8.3" fill="#000" stroke="#8a0010" stroke-width="1.8"/><circle cx="1670.1" cy="2189.6" r="8.3" fill="#000" stroke="#8a0010" stroke-width="1.8"/><circle cx="1710.2" cy="2177.3" r="8.3" fill="#000" stroke="#8a0010" stroke-width="1.8"/><circle cx="1750.2" cy="2200.3" r="8.3" fill="#000" stroke="#8a0010" stroke-width="1.8"/><circle cx="1790.3" cy="2187.0" r="8.3" fill="#000" stroke="#8a0010" stroke-width="1.8"/><circle cx="1830.4" cy="2186.5" r="8.3" fill="#000" stroke="#8a0010" stroke-width="1.8"/><circle cx="1870.5" cy="2185.0" r="8.3" fill="#000" stroke="#8a0010" stroke-width="1.8"/><circle cx="1910.6" cy="2160.3" r="8.3" fill="#000" stroke="#8a0010" stroke-width="1.8"/><circle cx="1950.7" cy="2188.3" r="8.3" fill="#000" stroke="#8a0010" stroke-width="1.8"/><circle cx="1990.8" cy="2181.4" r="8.3" fill="#000" stroke="#8a0010" stroke-width="1.8"/><circle cx="2030.9" cy="2215.1" r="8.3" fill="#000" stroke="#8a0010" stroke-width="1.8"/><circle cx="2071.0" cy="2238.1" r="8.3" fill="#000" stroke="#8a0010" stroke-width="1.8"/><circle cx="2111.1" cy="2194.7" r="8.3" fill="#000" stroke="#8a0010" stroke-width="1.8"/>
</g>
<g clip-path="url(#cpC)">
<g><rect x="290.8" y="2826.7" width="33.0" height="52.3" fill="#6ccff5" stroke="#587a8e" stroke-width="2.8"/><rect x="291.8" y="2827.7" width="31.0" height="50.3" fill="url(#gboxhl)"/><line x1="290.8" y1="2850.2" x2="323.8" y2="2850.2" stroke="#587a8e" stroke-width="2.6" opacity="0.85"/><rect x="331.1" y="3206.8" width="33.0" height="15.7" fill="#6ccff5" stroke="#587a8e" stroke-width="2.8"/><rect x="332.1" y="3207.8" width="31.0" height="13.7" fill="url(#gboxhl)"/><line x1="331.1" y1="3215.8" x2="364.1" y2="3215.8" stroke="#587a8e" stroke-width="2.6" opacity="0.85"/><rect x="371.5" y="3206.8" width="33.0" height="15.7" fill="#6ccff5" stroke="#587a8e" stroke-width="2.8"/><rect x="372.5" y="3207.8" width="31.0" height="13.7" fill="url(#gboxhl)"/><line x1="371.5" y1="3215.8" x2="404.5" y2="3215.8" stroke="#587a8e" stroke-width="2.6" opacity="0.85"/><rect x="411.8" y="3199.2" width="33.0" height="23.3" fill="#6ccff5" stroke="#587a8e" stroke-width="2.8"/><rect x="412.8" y="3200.2" width="31.0" height="21.3" fill="url(#gboxhl)"/><line x1="411.8" y1="3211.9" x2="444.8" y2="3211.9" stroke="#587a8e" stroke-width="2.6" opacity="0.85"/><line x1="411.8" y1="3217.0" x2="444.8" y2="3217.0" stroke="#587a8e" stroke-width="2.6" opacity="0.85"/><rect x="452.1" y="3199.2" width="33.0" height="19.1" fill="#6ccff5" stroke="#587a8e" stroke-width="2.8"/><rect x="453.1" y="3200.2" width="31.0" height="17.1" fill="url(#gboxhl)"/><line x1="452.1" y1="3205.6" x2="485.1" y2="3205.6" stroke="#587a8e" stroke-width="2.6" opacity="0.85"/><line x1="452.1" y1="3211.9" x2="485.1" y2="3211.9" stroke="#587a8e" stroke-width="2.6" opacity="0.85"/><rect x="492.4" y="3206.3" width="33.0" height="16.2" fill="#6ccff5" stroke="#587a8e" stroke-width="2.8"/><rect x="493.4" y="3207.3" width="31.0" height="14.2" fill="url(#gboxhl)"/><line x1="492.4" y1="3215.8" x2="525.5" y2="3215.8" stroke="#587a8e" stroke-width="2.6" opacity="0.85"/><rect x="532.8" y="3210.7" width="33.0" height="11.8" fill="#6ccff5" stroke="#587a8e" stroke-width="2.8"/><rect x="533.8" y="3211.7" width="31.0" height="9.8" fill="url(#gboxhl)"/><line x1="532.8" y1="3217.0" x2="565.8" y2="3217.0" stroke="#587a8e" stroke-width="2.6" opacity="0.85"/><rect x="573.1" y="3213.2" width="33.0" height="3.3" fill="#222" stroke="#333" stroke-width="1.5"/><rect x="613.4" y="3192.3" width="33.0" height="19.6" fill="#6ccff5" stroke="#587a8e" stroke-width="2.8"/><rect x="614.4" y="3193.3" width="31.0" height="17.6" fill="url(#gboxhl)"/><line x1="613.4" y1="3200.5" x2="646.4" y2="3200.5" stroke="#587a8e" stroke-width="2.6" opacity="0.85"/><line x1="613.4" y1="3204.8" x2="646.4" y2="3204.8" stroke="#587a8e" stroke-width="2.6" opacity="0.85"/><rect x="653.8" y="2876.5" width="33.0" height="30.6" fill="#6ccff5" stroke="#587a8e" stroke-width="2.8"/><rect x="654.8" y="2877.5" width="31.0" height="28.6" fill="url(#gboxhl)"/><line x1="653.8" y1="2890.5" x2="686.8" y2="2890.5" stroke="#587a8e" stroke-width="2.6" opacity="0.85"/><line x1="653.8" y1="2899.4" x2="686.8" y2="2899.4" stroke="#587a8e" stroke-width="2.6" opacity="0.85"/><rect x="694.1" y="2859.9" width="33.0" height="56.9" fill="#6ccff5" stroke="#587a8e" stroke-width="2.8"/><rect x="695.1" y="2860.9" width="31.0" height="54.9" fill="url(#gboxhl)"/><line x1="694.1" y1="2881.6" x2="727.1" y2="2881.6" stroke="#587a8e" stroke-width="2.6" opacity="0.85"/><rect x="734.4" y="2836.4" width="33.0" height="80.1" fill="#6ccff5" stroke="#587a8e" stroke-width="2.8"/><rect x="735.4" y="2837.4" width="31.0" height="78.1" fill="url(#gboxhl)"/><line x1="734.4" y1="2877.0" x2="767.4" y2="2877.0" stroke="#587a8e" stroke-width="2.6" opacity="0.85"/><rect x="774.8" y="2819.8" width="33.0" height="116.6" fill="#6ccff5" stroke="#587a8e" stroke-width="2.8"/><rect x="775.8" y="2820.8" width="31.0" height="114.6" fill="url(#gboxhl)"/><line x1="774.8" y1="2873.9" x2="807.8" y2="2873.9" stroke="#587a8e" stroke-width="2.6" opacity="0.85"/><rect x="815.1" y="2871.4" width="33.0" height="68.1" fill="#6ccff5" stroke="#587a8e" stroke-width="2.8"/><rect x="816.1" y="2872.4" width="31.0" height="66.1" fill="url(#gboxhl)"/><line x1="815.1" y1="2901.2" x2="848.1" y2="2901.2" stroke="#587a8e" stroke-width="2.6" opacity="0.85"/><rect x="855.4" y="2856.1" width="33.0" height="54.3" fill="#6ccff5" stroke="#587a8e" stroke-width="2.8"/><rect x="856.4" y="2857.1" width="31.0" height="52.3" fill="url(#gboxhl)"/><line x1="855.4" y1="2890.0" x2="888.4" y2="2890.0" stroke="#587a8e" stroke-width="2.6" opacity="0.85"/><rect x="895.8" y="2858.6" width="33.0" height="37.5" fill="#6ccff5" stroke="#587a8e" stroke-width="2.8"/><rect x="896.8" y="2859.6" width="31.0" height="35.5" fill="url(#gboxhl)"/><line x1="895.8" y1="2882.9" x2="928.8" y2="2882.9" stroke="#587a8e" stroke-width="2.6" opacity="0.85"/><rect x="936.1" y="3170.1" width="33.0" height="3.1" fill="#222" stroke="#333" stroke-width="1.5"/><rect x="976.4" y="3206.8" width="33.0" height="15.7" fill="#6ccff5" stroke="#587a8e" stroke-width="2.8"/><rect x="977.4" y="3207.8" width="31.0" height="13.7" fill="url(#gboxhl)"/><line x1="976.4" y1="3215.8" x2="1009.4" y2="3215.8" stroke="#587a8e" stroke-width="2.6" opacity="0.85"/><rect x="1016.7" y="3206.8" width="33.0" height="15.7" fill="#6ccff5" stroke="#587a8e" stroke-width="2.8"/><rect x="1017.7" y="3207.8" width="31.0" height="13.7" fill="url(#gboxhl)"/><line x1="1016.7" y1="3213.2" x2="1049.7" y2="3213.2" stroke="#587a8e" stroke-width="2.6" opacity="0.85"/><rect x="1057.1" y="3197.9" width="33.0" height="24.6" fill="#6ccff5" stroke="#587a8e" stroke-width="2.8"/><rect x="1058.1" y="3198.9" width="31.0" height="22.6" fill="url(#gboxhl)"/><line x1="1057.1" y1="3209.4" x2="1090.1" y2="3209.4" stroke="#587a8e" stroke-width="2.6" opacity="0.85"/><rect x="1137.7" y="2873.9" width="33.0" height="5.9" fill="#222" stroke="#333" stroke-width="1.5"/><rect x="1178.1" y="2859.9" width="33.0" height="28.1" fill="#6ccff5" stroke="#587a8e" stroke-width="2.8"/><rect x="1179.1" y="2860.9" width="31.0" height="26.1" fill="url(#gboxhl)"/><line x1="1178.1" y1="2876.5" x2="1211.1" y2="2876.5" stroke="#587a8e" stroke-width="2.6" opacity="0.85"/><rect x="1218.4" y="2770.1" width="33.0" height="145.4" fill="#6ccff5" stroke="#587a8e" stroke-width="2.8"/><rect x="1219.4" y="2771.1" width="31.0" height="143.4" fill="url(#gboxhl)"/><line x1="1218.4" y1="2841.3" x2="1251.4" y2="2841.3" stroke="#587a8e" stroke-width="2.6" opacity="0.85"/><rect x="1258.7" y="2890.5" width="33.0" height="25.0" fill="#6ccff5" stroke="#587a8e" stroke-width="2.8"/><rect x="1259.7" y="2891.5" width="31.0" height="23.0" fill="url(#gboxhl)"/><line x1="1258.7" y1="2901.5" x2="1291.7" y2="2901.5" stroke="#587a8e" stroke-width="2.6" opacity="0.85"/><rect x="1299.0" y="2871.4" width="33.0" height="45.2" fill="#6ccff5" stroke="#587a8e" stroke-width="2.8"/><rect x="1300.0" y="2872.4" width="31.0" height="43.2" fill="url(#gboxhl)"/><line x1="1299.0" y1="2901.2" x2="1332.0" y2="2901.2" stroke="#587a8e" stroke-width="2.6" opacity="0.85"/><rect x="1339.4" y="2830.1" width="33.0" height="38.8" fill="#6ccff5" stroke="#587a8e" stroke-width="2.8"/><rect x="1340.4" y="2831.1" width="31.0" height="36.8" fill="url(#gboxhl)"/><line x1="1339.4" y1="2851.5" x2="1372.4" y2="2851.5" stroke="#587a8e" stroke-width="2.6" opacity="0.85"/><rect x="1379.7" y="2819.1" width="33.0" height="109.7" fill="#6ccff5" stroke="#587a8e" stroke-width="2.8"/><rect x="1380.7" y="2820.1" width="31.0" height="107.7" fill="url(#gboxhl)"/><line x1="1379.7" y1="2881.6" x2="1412.7" y2="2881.6" stroke="#587a8e" stroke-width="2.6" opacity="0.85"/><line x1="1379.7" y1="2918.6" x2="1412.7" y2="2918.6" stroke="#587a8e" stroke-width="2.6" opacity="0.85"/><rect x="1420.0" y="2834.9" width="33.0" height="78.6" fill="#6ccff5" stroke="#587a8e" stroke-width="2.8"/><rect x="1421.0" y="2835.9" width="31.0" height="76.6" fill="url(#gboxhl)"/><line x1="1420.0" y1="2866.8" x2="1453.0" y2="2866.8" stroke="#587a8e" stroke-width="2.6" opacity="0.85"/><rect x="1460.4" y="2814.7" width="33.0" height="97.4" fill="#6ccff5" stroke="#587a8e" stroke-width="2.8"/><rect x="1461.4" y="2815.7" width="31.0" height="95.4" fill="url(#gboxhl)"/><line x1="1460.4" y1="2831.3" x2="1493.4" y2="2831.3" stroke="#587a8e" stroke-width="2.6" opacity="0.85"/><line x1="1460.4" y1="2870.9" x2="1493.4" y2="2870.9" stroke="#587a8e" stroke-width="2.6" opacity="0.85"/><rect x="1500.7" y="2873.4" width="33.0" height="46.4" fill="#6ccff5" stroke="#587a8e" stroke-width="2.8"/><rect x="1501.7" y="2874.4" width="31.0" height="44.4" fill="url(#gboxhl)"/><line x1="1500.7" y1="2890.5" x2="1533.7" y2="2890.5" stroke="#587a8e" stroke-width="2.6" opacity="0.85"/><line x1="1500.7" y1="2898.7" x2="1533.7" y2="2898.7" stroke="#587a8e" stroke-width="2.6" opacity="0.85"/><rect x="1541.0" y="2777.5" width="33.0" height="82.9" fill="#6ccff5" stroke="#587a8e" stroke-width="2.8"/><rect x="1542.0" y="2778.5" width="31.0" height="80.9" fill="url(#gboxhl)"/><line x1="1541.0" y1="2800.7" x2="1574.0" y2="2800.7" stroke="#587a8e" stroke-width="2.6" opacity="0.85"/><line x1="1541.0" y1="2824.9" x2="1574.0" y2="2824.9" stroke="#587a8e" stroke-width="2.6" opacity="0.85"/><rect x="1581.4" y="2839.5" width="33.0" height="124.5" fill="#6ccff5" stroke="#587a8e" stroke-width="2.8"/><rect x="1582.4" y="2840.5" width="31.0" height="122.5" fill="url(#gboxhl)"/><line x1="1581.4" y1="2887.4" x2="1614.4" y2="2887.4" stroke="#587a8e" stroke-width="2.6" opacity="0.85"/><rect x="1621.7" y="3098.4" width="33.0" height="59.9" fill="#6ccff5" stroke="#587a8e" stroke-width="2.8"/><rect x="1622.7" y="3099.4" width="31.0" height="57.9" fill="url(#gboxhl)"/><line x1="1621.7" y1="3113.7" x2="1654.7" y2="3113.7" stroke="#587a8e" stroke-width="2.6" opacity="0.85"/><line x1="1621.7" y1="3148.2" x2="1654.7" y2="3148.2" stroke="#587a8e" stroke-width="2.6" opacity="0.85"/><rect x="1702.3" y="2858.6" width="33.0" height="70.7" fill="#00cc4e" stroke="#157a3c" stroke-width="2.8"/><rect x="1703.3" y="2859.6" width="31.0" height="68.7" fill="url(#ggrnhl)"/><line x1="1702.3" y1="2885.4" x2="1735.3" y2="2885.4" stroke="#15803c" stroke-width="2.6" opacity="0.85"/><line x1="1702.3" y1="2915.5" x2="1735.3" y2="2915.5" stroke="#15803c" stroke-width="2.6" opacity="0.85"/><rect x="1742.7" y="2821.6" width="33.0" height="128.8" fill="#00cc4e" stroke="#157a3c" stroke-width="2.8"/><rect x="1743.7" y="2822.6" width="31.0" height="126.8" fill="url(#ggrnhl)"/><line x1="1742.7" y1="2890.5" x2="1775.7" y2="2890.5" stroke="#15803c" stroke-width="2.6" opacity="0.85"/><line x1="1742.7" y1="2903.3" x2="1775.7" y2="2903.3" stroke="#15803c" stroke-width="2.6" opacity="0.85"/><rect x="1783.0" y="2849.7" width="33.0" height="28.1" fill="#00cc4e" stroke="#157a3c" stroke-width="2.8"/><rect x="1784.0" y="2850.7" width="31.0" height="26.1" fill="url(#ggrnhl)"/><line x1="1783.0" y1="2864.5" x2="1816.0" y2="2864.5" stroke="#15803c" stroke-width="2.6" opacity="0.85"/><rect x="1823.3" y="2796.1" width="33.0" height="166.6" fill="#00cc4e" stroke="#157a3c" stroke-width="2.8"/><rect x="1824.3" y="2797.1" width="31.0" height="164.6" fill="url(#ggrnhl)"/><line x1="1823.3" y1="2820.9" x2="1856.3" y2="2820.9" stroke="#15803c" stroke-width="2.6" opacity="0.85"/><line x1="1823.3" y1="2859.4" x2="1856.3" y2="2859.4" stroke="#15803c" stroke-width="2.6" opacity="0.85"/><line x1="1823.3" y1="2895.6" x2="1856.3" y2="2895.6" stroke="#15803c" stroke-width="2.6" opacity="0.85"/><rect x="1863.7" y="2857.9" width="33.0" height="55.6" fill="#00cc4e" stroke="#157a3c" stroke-width="2.8"/><rect x="1864.7" y="2858.9" width="31.0" height="53.6" fill="url(#ggrnhl)"/><line x1="1863.7" y1="2881.6" x2="1896.7" y2="2881.6" stroke="#15803c" stroke-width="2.6" opacity="0.85"/><rect x="1904.0" y="2851.0" width="33.0" height="21.7" fill="#00cc4e" stroke="#157a3c" stroke-width="2.8"/><rect x="1905.0" y="2852.0" width="31.0" height="19.7" fill="url(#ggrnhl)"/><line x1="1904.0" y1="2861.9" x2="1937.0" y2="2861.9" stroke="#15803c" stroke-width="2.6" opacity="0.85"/><rect x="1944.3" y="2829.3" width="33.0" height="43.4" fill="#00cc4e" stroke="#157a3c" stroke-width="2.8"/><rect x="1945.3" y="2830.3" width="31.0" height="41.4" fill="url(#ggrnhl)"/><line x1="1944.3" y1="2851.5" x2="1977.3" y2="2851.5" stroke="#15803c" stroke-width="2.6" opacity="0.85"/><rect x="1984.7" y="2862.4" width="33.0" height="16.1" fill="#00cc4e" stroke="#157a3c" stroke-width="2.8"/><rect x="1985.7" y="2863.4" width="31.0" height="14.1" fill="url(#ggrnhl)"/><line x1="1984.7" y1="2871.4" x2="2017.7" y2="2871.4" stroke="#15803c" stroke-width="2.6" opacity="0.85"/><rect x="2025.0" y="2862.4" width="33.0" height="45.9" fill="#00cc4e" stroke="#157a3c" stroke-width="2.8"/><rect x="2026.0" y="2863.4" width="31.0" height="43.9" fill="url(#ggrnhl)"/><line x1="2025.0" y1="2887.4" x2="2058.0" y2="2887.4" stroke="#15803c" stroke-width="2.6" opacity="0.85"/><line x1="2025.0" y1="2899.4" x2="2058.0" y2="2899.4" stroke="#15803c" stroke-width="2.6" opacity="0.85"/><rect x="2065.3" y="2830.6" width="33.0" height="137.8" fill="#00cc4e" stroke="#157a3c" stroke-width="2.8"/><rect x="2066.3" y="2831.6" width="31.0" height="135.8" fill="url(#ggrnhl)"/><line x1="2065.3" y1="2922.4" x2="2098.3" y2="2922.4" stroke="#15803c" stroke-width="2.6" opacity="0.85"/><rect x="2105.7" y="2877.8" width="33.0" height="20.4" fill="#00cc4e" stroke="#157a3c" stroke-width="2.8"/><rect x="2106.7" y="2878.8" width="31.0" height="18.4" fill="url(#ggrnhl)"/><line x1="2105.7" y1="2887.4" x2="2138.7" y2="2887.4" stroke="#15803c" stroke-width="2.6" opacity="0.85"/></g>
<g stroke="#383838" stroke-width="2.7" opacity="0.64"><line x1="307.3" y1="2823.4" x2="307.3" y2="2919.3"/><line x1="290.8" y1="2823.4" x2="323.8" y2="2823.4"/><line x1="290.8" y1="2919.3" x2="323.8" y2="2919.3"/><line x1="347.6" y1="3155.3" x2="347.6" y2="3223.0"/><line x1="331.1" y1="3155.3" x2="364.1" y2="3155.3"/><line x1="388.0" y1="2958.9" x2="388.0" y2="3049.2"/><line x1="371.5" y1="2958.9" x2="404.5" y2="2958.9"/><line x1="371.5" y1="3049.2" x2="404.5" y2="3049.2"/><line x1="428.3" y1="2947.9" x2="428.3" y2="3057.1"/><line x1="411.8" y1="2947.9" x2="444.8" y2="2947.9"/><line x1="411.8" y1="3057.1" x2="444.8" y2="3057.1"/><line x1="468.6" y1="2907.1" x2="468.6" y2="2990.5"/><line x1="452.1" y1="2907.1" x2="485.1" y2="2907.1"/><line x1="452.1" y1="2990.5" x2="485.1" y2="2990.5"/><line x1="508.9" y1="2893.1" x2="508.9" y2="2967.8"/><line x1="492.4" y1="2893.1" x2="525.5" y2="2893.1"/><line x1="492.4" y1="2967.8" x2="525.5" y2="2967.8"/><line x1="549.3" y1="2939.0" x2="549.3" y2="2994.3"/><line x1="532.8" y1="2939.0" x2="565.8" y2="2939.0"/><line x1="532.8" y1="2994.3" x2="565.8" y2="2994.3"/><line x1="589.6" y1="2946.1" x2="589.6" y2="3001.5"/><line x1="573.1" y1="2946.1" x2="606.1" y2="2946.1"/><line x1="573.1" y1="3001.5" x2="606.1" y2="3001.5"/><line x1="629.9" y1="2951.7" x2="629.9" y2="3003.5"/><line x1="613.4" y1="2951.7" x2="646.4" y2="2951.7"/><line x1="613.4" y1="3003.5" x2="646.4" y2="3003.5"/><line x1="670.3" y1="2822.1" x2="670.3" y2="2896.1"/><line x1="653.8" y1="2822.1" x2="686.8" y2="2822.1"/><line x1="653.8" y1="2896.1" x2="686.8" y2="2896.1"/><line x1="710.6" y1="2785.4" x2="710.6" y2="2954.3"/><line x1="694.1" y1="2785.4" x2="727.1" y2="2785.4"/><line x1="694.1" y1="2954.3" x2="727.1" y2="2954.3"/><line x1="750.9" y1="2794.3" x2="750.9" y2="3023.2"/><line x1="734.4" y1="2794.3" x2="767.4" y2="2794.3"/><line x1="734.4" y1="3023.2" x2="767.4" y2="3023.2"/><line x1="791.3" y1="2809.4" x2="791.3" y2="2942.3"/><line x1="774.8" y1="2809.4" x2="807.8" y2="2809.4"/><line x1="774.8" y1="2942.3" x2="807.8" y2="2942.3"/><line x1="831.6" y1="2814.5" x2="831.6" y2="2965.3"/><line x1="815.1" y1="2814.5" x2="848.1" y2="2814.5"/><line x1="815.1" y1="2965.3" x2="848.1" y2="2965.3"/><line x1="871.9" y1="2850.2" x2="871.9" y2="2937.2"/><line x1="855.4" y1="2850.2" x2="888.4" y2="2850.2"/><line x1="855.4" y1="2937.2" x2="888.4" y2="2937.2"/><line x1="912.2" y1="2816.5" x2="912.2" y2="2917.8"/><line x1="895.8" y1="2816.5" x2="928.8" y2="2816.5"/><line x1="895.8" y1="2917.8" x2="928.8" y2="2917.8"/><line x1="952.6" y1="3146.1" x2="952.6" y2="3217.6"/><line x1="936.1" y1="3146.1" x2="969.1" y2="3146.1"/><line x1="936.1" y1="3217.6" x2="969.1" y2="3217.6"/><line x1="992.9" y1="3155.1" x2="992.9" y2="3223.0"/><line x1="976.4" y1="3155.1" x2="1009.4" y2="3155.1"/><line x1="1033.2" y1="3208.1" x2="1033.2" y2="3223.0"/><line x1="1016.7" y1="3208.1" x2="1049.7" y2="3208.1"/><line x1="1073.6" y1="3163.5" x2="1073.6" y2="3223.0"/><line x1="1057.1" y1="3163.5" x2="1090.1" y2="3163.5"/><line x1="1113.9" y1="3143.8" x2="1113.9" y2="3223.0"/><line x1="1097.4" y1="3143.8" x2="1130.4" y2="3143.8"/><line x1="1154.2" y1="2852.2" x2="1154.2" y2="2949.2"/><line x1="1137.7" y1="2852.2" x2="1170.7" y2="2852.2"/><line x1="1137.7" y1="2949.2" x2="1170.7" y2="2949.2"/><line x1="1194.6" y1="2802.5" x2="1194.6" y2="2950.5"/><line x1="1178.1" y1="2802.5" x2="1211.1" y2="2802.5"/><line x1="1178.1" y1="2950.5" x2="1211.1" y2="2950.5"/><line x1="1234.9" y1="2751.5" x2="1234.9" y2="2993.8"/><line x1="1218.4" y1="2751.5" x2="1251.4" y2="2751.5"/><line x1="1218.4" y1="2993.8" x2="1251.4" y2="2993.8"/><line x1="1275.2" y1="2890.5" x2="1275.2" y2="2964.5"/><line x1="1258.7" y1="2890.5" x2="1291.7" y2="2890.5"/><line x1="1258.7" y1="2964.5" x2="1291.7" y2="2964.5"/><line x1="1315.5" y1="2857.3" x2="1315.5" y2="2958.6"/><line x1="1299.0" y1="2857.3" x2="1332.0" y2="2857.3"/><line x1="1299.0" y1="2958.6" x2="1332.0" y2="2958.6"/><line x1="1355.9" y1="2764.7" x2="1355.9" y2="2931.3"/><line x1="1339.4" y1="2764.7" x2="1372.4" y2="2764.7"/><line x1="1339.4" y1="2931.3" x2="1372.4" y2="2931.3"/><line x1="1396.2" y1="2811.4" x2="1396.2" y2="2918.6"/><line x1="1379.7" y1="2811.4" x2="1412.7" y2="2811.4"/><line x1="1379.7" y1="2918.6" x2="1412.7" y2="2918.6"/><line x1="1436.5" y1="2840.0" x2="1436.5" y2="2917.8"/><line x1="1420.0" y1="2840.0" x2="1453.0" y2="2840.0"/><line x1="1420.0" y1="2917.8" x2="1453.0" y2="2917.8"/><line x1="1476.9" y1="2833.1" x2="1476.9" y2="2974.7"/><line x1="1460.4" y1="2833.1" x2="1493.4" y2="2833.1"/><line x1="1460.4" y1="2974.7" x2="1493.4" y2="2974.7"/><line x1="1517.2" y1="2891.8" x2="1517.2" y2="2956.3"/><line x1="1500.7" y1="2891.8" x2="1533.7" y2="2891.8"/><line x1="1500.7" y1="2956.3" x2="1533.7" y2="2956.3"/><line x1="1557.5" y1="2799.9" x2="1557.5" y2="2907.1"/><line x1="1541.0" y1="2799.9" x2="1574.0" y2="2799.9"/><line x1="1541.0" y1="2907.1" x2="1574.0" y2="2907.1"/><line x1="1597.9" y1="2761.7" x2="1597.9" y2="3088.2"/><line x1="1581.4" y1="2761.7" x2="1614.4" y2="2761.7"/><line x1="1581.4" y1="3088.2" x2="1614.4" y2="3088.2"/><line x1="1638.2" y1="3113.7" x2="1638.2" y2="3148.2"/><line x1="1621.7" y1="3113.7" x2="1654.7" y2="3113.7"/><line x1="1621.7" y1="3148.2" x2="1654.7" y2="3148.2"/><line x1="1678.5" y1="3155.1" x2="1678.5" y2="3223.0"/><line x1="1662.0" y1="3155.1" x2="1695.0" y2="3155.1"/><line x1="1718.8" y1="2843.3" x2="1718.8" y2="2915.5"/><line x1="1702.3" y1="2843.3" x2="1735.3" y2="2843.3"/><line x1="1702.3" y1="2915.5" x2="1735.3" y2="2915.5"/><line x1="1759.2" y1="2817.8" x2="1759.2" y2="2904.5"/><line x1="1742.7" y1="2817.8" x2="1775.7" y2="2817.8"/><line x1="1742.7" y1="2904.5" x2="1775.7" y2="2904.5"/><line x1="1799.5" y1="2877.8" x2="1799.5" y2="2949.2"/><line x1="1783.0" y1="2877.8" x2="1816.0" y2="2877.8"/><line x1="1783.0" y1="2949.2" x2="1816.0" y2="2949.2"/><line x1="1839.8" y1="2821.6" x2="1839.8" y2="2895.6"/><line x1="1823.3" y1="2821.6" x2="1856.3" y2="2821.6"/><line x1="1823.3" y1="2895.6" x2="1856.3" y2="2895.6"/><line x1="1880.2" y1="2849.7" x2="1880.2" y2="2944.8"/><line x1="1863.7" y1="2849.7" x2="1896.7" y2="2849.7"/><line x1="1863.7" y1="2944.8" x2="1896.7" y2="2944.8"/><line x1="1920.5" y1="2841.3" x2="1920.5" y2="2943.6"/><line x1="1904.0" y1="2841.3" x2="1937.0" y2="2841.3"/><line x1="1904.0" y1="2943.6" x2="1937.0" y2="2943.6"/><line x1="1960.8" y1="2822.4" x2="1960.8" y2="2928.8"/><line x1="1944.3" y1="2822.4" x2="1977.3" y2="2822.4"/><line x1="1944.3" y1="2928.8" x2="1977.3" y2="2928.8"/><line x1="2001.2" y1="2808.4" x2="2001.2" y2="2912.7"/><line x1="1984.7" y1="2808.4" x2="2017.7" y2="2808.4"/><line x1="1984.7" y1="2912.7" x2="2017.7" y2="2912.7"/><line x1="2041.5" y1="2799.9" x2="2041.5" y2="2899.4"/><line x1="2025.0" y1="2799.9" x2="2058.0" y2="2799.9"/><line x1="2025.0" y1="2899.4" x2="2058.0" y2="2899.4"/><line x1="2081.8" y1="2623.9" x2="2081.8" y2="3188.5"/><line x1="2065.3" y1="2623.9" x2="2098.3" y2="2623.9"/><line x1="2065.3" y1="3188.5" x2="2098.3" y2="3188.5"/><line x1="2122.2" y1="2872.7" x2="2122.2" y2="2937.2"/><line x1="2105.7" y1="2872.7" x2="2138.7" y2="2872.7"/><line x1="2105.7" y1="2937.2" x2="2138.7" y2="2937.2"/></g>
<g stroke="#fff000" stroke-width="3" fill="none"><path d="M304.5 2851.2l5.6 5.6m0 -5.6l-5.6 5.6" /><path d="M385.2 3213.0l5.6 5.6m0 -5.6l-5.6 5.6" /><path d="M425.5 3213.0l5.6 5.6m0 -5.6l-5.6 5.6" /><path d="M465.8 3206.6l5.6 5.6m0 -5.6l-5.6 5.6" /><path d="M506.1 3213.0l5.6 5.6m0 -5.6l-5.6 5.6" /><path d="M546.5 3216.3l5.6 5.6m0 -5.6l-5.6 5.6" /><path d="M586.8 3212.2l5.6 5.6m0 -5.6l-5.6 5.6" /><path d="M627.1 3199.4l5.6 5.6m0 -5.6l-5.6 5.6" /><path d="M667.5 2889.0l5.6 5.6m0 -5.6l-5.6 5.6" /><path d="M707.8 2887.2l5.6 5.6m0 -5.6l-5.6 5.6" /><path d="M748.1 2873.7l5.6 5.6m0 -5.6l-5.6 5.6" /><path d="M788.5 2872.4l5.6 5.6m0 -5.6l-5.6 5.6" /><path d="M828.8 2903.0l5.6 5.6m0 -5.6l-5.6 5.6" /><path d="M869.1 2881.3l5.6 5.6m0 -5.6l-5.6 5.6" /><path d="M909.5 2876.2l5.6 5.6m0 -5.6l-5.6 5.6" /><path d="M949.8 3168.3l5.6 5.6m0 -5.6l-5.6 5.6" /><path d="M1070.8 3211.7l5.6 5.6m0 -5.6l-5.6 5.6" /><path d="M1111.1 3220.1l5.6 5.6m0 -5.6l-5.6 5.6" /><path d="M1151.4 2873.7l5.6 5.6m0 -5.6l-5.6 5.6" /><path d="M1191.8 2873.7l5.6 5.6m0 -5.6l-5.6 5.6" /><path d="M1232.1 2840.0l5.6 5.6m0 -5.6l-5.6 5.6" /><path d="M1272.4 2901.7l5.6 5.6m0 -5.6l-5.6 5.6" /><path d="M1312.8 2891.5l5.6 5.6m0 -5.6l-5.6 5.6" /><path d="M1353.1 2848.7l5.6 5.6m0 -5.6l-5.6 5.6" /><path d="M1393.4 2872.4l5.6 5.6m0 -5.6l-5.6 5.6" /><path d="M1433.7 2875.0l5.6 5.6m0 -5.6l-5.6 5.6" /><path d="M1474.1 2860.9l5.6 5.6m0 -5.6l-5.6 5.6" /><path d="M1514.4 2893.3l5.6 5.6m0 -5.6l-5.6 5.6" /><path d="M1554.7 2817.0l5.6 5.6m0 -5.6l-5.6 5.6" /><path d="M1595.1 2899.7l5.6 5.6m0 -5.6l-5.6 5.6" /><path d="M1635.4 3128.3l5.6 5.6m0 -5.6l-5.6 5.6" /><path d="M1716.0 2891.5l5.6 5.6m0 -5.6l-5.6 5.6" /><path d="M1756.4 2883.9l5.6 5.6m0 -5.6l-5.6 5.6" /><path d="M1796.7 2861.7l5.6 5.6m0 -5.6l-5.6 5.6" /><path d="M1837.0 2877.0l5.6 5.6m0 -5.6l-5.6 5.6" /><path d="M1877.4 2883.9l5.6 5.6m0 -5.6l-5.6 5.6" /><path d="M1917.7 2859.1l5.6 5.6m0 -5.6l-5.6 5.6" /><path d="M1958.0 2848.7l5.6 5.6m0 -5.6l-5.6 5.6" /><path d="M1998.4 2868.6l5.6 5.6m0 -5.6l-5.6 5.6" /><path d="M2038.7 2883.4l5.6 5.6m0 -5.6l-5.6 5.6" /><path d="M2079.0 2905.6l5.6 5.6m0 -5.6l-5.6 5.6" /><path d="M2119.3 2885.2l5.6 5.6m0 -5.6l-5.6 5.6" /></g>
<path d="M307.3 2747.7C308.2 2758.7 311.0 2793.3 313.2 2816.5C315.3 2839.8 318.0 2864.5 320.8 2893.1C323.7 2921.6 327.3 2964.5 331.0 2995.1C334.7 3025.7 340.5 3064.0 343.8 3084.4C347.0 3104.8 349.4 3114.1 351.4 3122.7C353.5 3131.2 354.9 3134.8 356.5 3138.0C358.2 3141.1 359.8 3142.3 361.6 3142.3C363.5 3142.3 365.6 3141.1 368.0 3138.0C370.5 3134.8 373.9 3126.9 376.9 3122.7C380.0 3118.4 382.2 3113.2 387.1 3111.2C392.0 3109.1 400.2 3110.5 407.6 3109.9C414.9 3109.3 424.1 3108.4 433.1 3107.3C442.0 3106.2 455.5 3103.2 463.7 3103.0C471.8 3102.8 476.7 3104.6 484.1 3106.1C491.4 3107.6 499.4 3111.1 509.6 3112.4C519.8 3113.8 537.7 3114.4 547.9 3114.2C558.1 3114.0 566.6 3112.1 573.4 3111.2C580.1 3110.3 585.9 3108.2 589.9 3108.6C594.0 3109.0 595.8 3111.5 598.9 3113.7C601.9 3116.0 606.4 3120.8 609.1 3122.7C611.7 3124.5 613.4 3125.6 615.5 3125.2C617.5 3124.8 619.6 3124.6 621.8 3120.1C624.1 3115.6 627.0 3109.0 629.5 3097.1C631.9 3085.3 634.7 3066.5 637.1 3046.1C639.6 3025.7 642.3 2994.1 644.8 2969.6C647.2 2945.1 650.0 2915.5 652.4 2893.1C654.9 2870.6 657.7 2846.4 660.1 2829.3C662.6 2812.1 664.6 2796.5 667.8 2785.9C670.9 2775.3 676.8 2766.2 680.0 2763.0C683.2 2759.7 684.8 2763.5 687.7 2765.5C690.5 2767.6 694.2 2772.9 697.9 2775.7C701.5 2778.6 705.3 2783.4 710.6 2783.4C715.9 2783.4 724.5 2777.8 731.0 2775.7C737.6 2773.7 745.3 2771.5 751.4 2770.6C757.6 2769.7 763.2 2769.9 769.3 2770.1C775.4 2770.3 783.6 2769.4 789.7 2771.9C795.8 2774.4 802.2 2781.6 807.6 2785.9C812.9 2790.2 818.8 2796.2 822.9 2798.7C826.9 2801.1 829.8 2801.4 833.1 2801.2C836.3 2801.0 839.2 2799.8 843.3 2797.4C847.3 2794.9 853.7 2789.0 858.6 2785.9C863.5 2782.9 869.4 2782.3 873.9 2778.3C878.4 2774.2 882.6 2764.7 886.6 2760.4C890.7 2756.1 896.1 2752.3 899.4 2751.5C902.7 2750.7 905.0 2752.7 907.0 2755.3C909.1 2758.0 910.5 2761.5 912.1 2768.1C913.8 2774.6 915.6 2785.1 917.2 2796.1C918.9 2807.1 920.5 2821.4 922.3 2836.9C924.2 2852.4 926.7 2875.9 928.7 2893.1C930.8 2910.2 932.9 2925.7 935.1 2944.1C937.3 2962.4 940.3 2989.5 942.8 3007.9C945.2 3026.2 947.6 3045.4 950.4 3058.9C953.3 3072.3 956.9 3084.3 960.6 3092.0C964.3 3099.8 969.3 3104.3 973.4 3107.3C977.4 3110.4 981.2 3109.5 986.1 3111.2C991.0 3112.8 997.9 3116.5 1004.0 3117.6C1010.1 3118.6 1017.0 3118.3 1024.4 3117.6C1031.7 3116.8 1044.2 3114.4 1049.9 3113.0C1055.6 3111.5 1056.3 3109.3 1060.0 3108.6C1063.7 3107.9 1069.1 3106.4 1072.8 3108.6C1076.4 3110.9 1079.7 3118.0 1083.0 3122.7C1086.2 3127.3 1090.1 3134.5 1093.2 3138.0C1096.2 3141.4 1099.4 3144.3 1102.1 3144.3C1104.7 3144.3 1107.7 3142.2 1109.7 3138.0C1111.8 3133.7 1113.0 3128.2 1114.8 3117.6C1116.7 3106.9 1119.0 3091.2 1121.2 3071.6C1123.5 3052.0 1126.4 3021.6 1128.9 2995.1C1131.3 2968.6 1134.1 2934.4 1136.5 2905.8C1139.0 2877.2 1141.7 2839.0 1144.2 2816.5C1146.6 2794.1 1149.4 2776.3 1151.8 2765.5C1154.3 2754.7 1157.0 2752.2 1159.5 2748.9C1161.9 2745.7 1164.7 2744.9 1167.1 2745.1C1169.6 2745.3 1172.3 2747.6 1174.8 2750.2C1177.2 2752.9 1179.6 2758.4 1182.4 2761.7C1185.3 2764.9 1189.4 2770.0 1192.7 2770.6C1195.9 2771.2 1199.6 2768.4 1202.9 2765.5C1206.1 2762.7 1209.4 2756.6 1213.1 2752.8C1216.7 2748.9 1222.3 2743.5 1225.8 2741.3C1229.3 2739.0 1231.9 2738.1 1234.7 2738.7C1237.6 2739.3 1240.6 2740.8 1243.7 2745.1C1246.7 2749.4 1250.6 2759.0 1253.9 2765.5C1257.1 2772.0 1260.4 2780.4 1264.1 2785.9C1267.8 2791.4 1273.2 2797.2 1276.8 2799.9C1280.5 2802.7 1283.8 2803.3 1287.0 2803.3C1290.3 2803.3 1292.8 2802.3 1297.2 2799.9C1301.7 2797.6 1310.2 2792.8 1315.1 2788.5C1320.0 2784.2 1323.8 2778.5 1327.9 2773.2C1331.9 2767.9 1336.9 2759.8 1340.6 2755.3C1344.3 2750.8 1348.0 2747.1 1350.8 2745.1C1353.7 2743.1 1356.0 2742.9 1358.5 2743.1C1360.9 2743.3 1362.9 2744.0 1366.1 2746.4C1369.4 2748.7 1374.8 2754.4 1378.9 2757.9C1383.0 2761.3 1387.6 2765.8 1391.6 2768.1C1395.7 2770.3 1399.5 2771.3 1404.4 2771.9C1409.3 2772.5 1416.5 2772.1 1422.2 2771.9C1427.9 2771.7 1434.7 2772.4 1440.0 2770.6C1445.3 2768.8 1450.4 2762.7 1455.3 2760.4C1460.2 2758.2 1466.1 2755.8 1470.6 2756.6C1475.1 2757.4 1479.3 2761.6 1483.4 2765.5C1487.4 2769.4 1492.0 2776.5 1496.1 2780.8C1500.2 2785.1 1505.8 2790.3 1508.9 2792.3C1511.9 2794.3 1512.8 2795.0 1515.3 2793.6C1517.7 2792.1 1521.1 2789.1 1524.2 2783.4C1527.2 2777.7 1531.5 2764.8 1534.4 2757.9C1537.2 2750.9 1539.4 2746.1 1542.0 2740.0C1544.7 2733.9 1548.1 2724.1 1551.0 2719.6C1553.8 2715.1 1557.0 2711.9 1559.9 2711.9C1562.8 2711.9 1566.0 2715.1 1568.8 2719.6C1571.7 2724.1 1574.7 2732.7 1577.8 2740.0C1580.8 2747.3 1584.7 2755.3 1588.0 2765.5C1591.2 2775.7 1594.9 2789.5 1598.2 2803.8C1601.4 2818.1 1605.1 2836.4 1608.4 2854.8C1611.6 2873.2 1614.9 2896.1 1618.6 2918.6C1622.2 2941.0 1627.2 2972.7 1631.3 2995.1C1635.4 3017.6 1640.0 3041.3 1644.1 3058.9C1648.2 3076.4 1653.6 3094.6 1656.8 3104.8C1660.1 3115.0 1662.0 3118.5 1664.5 3122.7C1666.9 3126.8 1669.7 3131.2 1672.1 3130.8C1674.6 3130.4 1677.3 3129.6 1679.8 3120.1C1682.2 3110.6 1685.0 3091.6 1687.4 3071.6C1689.9 3051.6 1692.7 3021.6 1695.1 2995.1C1697.6 2968.6 1700.3 2932.3 1702.8 2905.8C1705.2 2879.3 1708.0 2848.9 1710.4 2829.3C1712.9 2809.7 1715.6 2793.4 1718.1 2783.4C1720.5 2773.4 1723.3 2770.1 1725.7 2766.8C1728.2 2763.4 1730.9 2762.2 1733.4 2762.4C1735.8 2762.7 1738.2 2765.5 1741.0 2768.1C1743.9 2770.6 1748.4 2776.0 1751.2 2778.3C1754.1 2780.5 1756.0 2782.1 1758.9 2782.1C1761.7 2782.1 1765.4 2780.7 1769.1 2778.3C1772.8 2775.8 1777.8 2769.7 1781.8 2766.8C1785.9 2763.8 1791.7 2761.2 1794.6 2759.9C1797.5 2758.6 1796.7 2757.7 1800.0 2758.4C1803.3 2759.1 1810.4 2762.1 1815.3 2764.2C1820.2 2766.4 1824.9 2769.4 1830.6 2771.9C1836.3 2774.3 1845.3 2777.9 1851.0 2779.5C1856.7 2781.2 1861.4 2781.9 1866.3 2782.1C1871.2 2782.3 1876.7 2782.2 1881.6 2780.8C1886.5 2779.4 1891.6 2776.6 1896.9 2773.2C1902.2 2769.7 1908.7 2763.0 1914.8 2759.1C1920.9 2755.3 1929.5 2751.2 1935.2 2748.9C1940.9 2746.7 1946.0 2745.6 1950.5 2745.1C1955.0 2744.6 1959.2 2744.6 1963.3 2745.6C1967.3 2746.6 1971.1 2748.5 1976.0 2751.5C1980.9 2754.5 1987.3 2760.8 1993.9 2764.2C2000.4 2767.7 2009.1 2770.5 2016.8 2773.2C2024.6 2775.8 2034.2 2777.8 2042.3 2780.8C2050.5 2783.9 2061.5 2789.8 2067.9 2792.3C2074.2 2794.7 2077.4 2795.9 2081.9 2796.1C2086.4 2796.3 2091.2 2795.0 2095.9 2793.6C2100.6 2792.1 2106.7 2789.0 2111.2 2787.2C2115.7 2785.4 2121.9 2782.9 2124.0 2782.1" fill="none" stroke="#261cdc" stroke-width="3.0" stroke-linecap="round"/>
<path d="M307.3 2956.8C308.2 2965.0 310.6 2987.4 313.2 3007.9C315.7 3028.3 320.1 3059.9 323.4 3084.4C326.6 3108.9 329.8 3138.7 333.6 3160.9C337.4 3183.2 344.9 3213.4 347.1 3223.4" fill="none" stroke="#fa1c12" stroke-width="3.0" stroke-linecap="round"/>
<path d="M630.0 3223.4C631.1 3215.5 634.8 3191.8 637.1 3173.7C639.5 3155.5 642.3 3130.3 644.8 3109.9C647.2 3089.5 649.6 3063.7 652.4 3046.1C655.3 3028.6 659.4 3010.4 662.7 3000.2C665.9 2990.0 670.1 2986.0 672.9 2982.3C675.6 2978.7 677.6 2977.4 680.0 2977.2C682.4 2977.0 684.8 2979.0 687.7 2981.1C690.5 2983.1 694.2 2988.0 697.9 2990.0C701.5 2992.0 705.3 2994.4 710.6 2993.8C715.9 2993.2 724.5 2988.3 731.0 2986.2C737.6 2984.0 745.3 2981.5 751.4 2980.3C757.6 2979.1 763.2 2978.4 769.3 2978.5C775.4 2978.6 783.6 2978.4 789.7 2981.1C795.8 2983.7 802.2 2990.8 807.6 2995.1C812.9 2999.4 818.8 3005.4 822.9 3007.9C826.9 3010.3 829.8 3010.6 833.1 3010.4C836.3 3010.2 839.2 3009.0 843.3 3006.6C847.3 3004.1 853.7 2998.4 858.6 2995.1C863.5 2991.8 869.4 2989.8 873.9 2986.2C878.4 2982.5 882.6 2975.6 886.6 2972.1C890.7 2968.7 896.1 2965.3 899.4 2964.5C902.7 2963.7 905.0 2965.0 907.0 2967.0C909.1 2969.1 910.5 2971.9 912.1 2977.2C913.8 2982.6 915.6 2991.2 917.2 3000.2C918.9 3009.2 920.5 3020.7 922.3 3033.4C924.2 3046.0 926.7 3065.0 928.7 3079.3C930.8 3093.6 932.9 3107.6 935.1 3122.7C937.3 3137.8 940.0 3157.6 942.8 3173.7C945.5 3189.8 950.7 3215.5 952.2 3223.4" fill="none" stroke="#fa1c12" stroke-width="3.0" stroke-linecap="round"/>
<path d="M1114.1 3223.4C1115.2 3215.5 1118.9 3191.8 1121.2 3173.7C1123.6 3155.5 1126.4 3130.3 1128.9 3109.9C1131.3 3089.5 1134.1 3063.7 1136.5 3046.1C1139.0 3028.6 1141.7 3011.6 1144.2 3000.2C1146.6 2988.8 1149.4 2980.2 1151.8 2974.7C1154.3 2969.2 1157.0 2967.6 1159.5 2965.8C1161.9 2963.9 1164.7 2963.0 1167.1 2963.2C1169.6 2963.4 1172.3 2965.0 1174.8 2967.0C1177.2 2969.1 1179.6 2973.8 1182.4 2976.0C1185.3 2978.1 1189.4 2980.5 1192.7 2980.3C1195.9 2980.1 1199.6 2977.6 1202.9 2974.7C1206.1 2971.8 1209.4 2966.0 1213.1 2961.9C1216.7 2957.9 1222.3 2951.8 1225.8 2949.2C1229.3 2946.5 1231.9 2944.9 1234.7 2945.4C1237.6 2945.8 1240.6 2947.0 1243.7 2951.7C1246.7 2956.4 1250.6 2967.3 1253.9 2974.7C1257.1 2982.0 1260.4 2991.9 1264.1 2997.7C1267.8 3003.4 1273.2 3007.9 1276.8 3010.4C1280.5 3012.9 1283.8 3013.5 1287.0 3013.5C1290.3 3013.5 1292.8 3012.5 1297.2 3010.4C1301.7 3008.3 1310.2 3004.3 1315.1 3000.2C1320.0 2996.1 1323.8 2990.2 1327.9 2984.9C1331.9 2979.6 1336.9 2971.5 1340.6 2967.0C1344.3 2962.6 1348.0 2958.9 1350.8 2956.8C1353.7 2954.8 1356.0 2954.3 1358.5 2954.3C1360.9 2954.3 1362.9 2954.6 1366.1 2956.8C1369.4 2959.1 1374.8 2965.1 1378.9 2968.3C1383.0 2971.6 1387.6 2975.2 1391.6 2977.2C1395.7 2979.3 1399.5 2980.5 1404.4 2981.1C1409.3 2981.7 1416.5 2981.3 1422.2 2981.1C1427.9 2980.9 1434.7 2981.4 1440.0 2979.8C1445.3 2978.2 1450.4 2973.0 1455.3 2970.9C1460.2 2968.7 1466.1 2965.9 1470.6 2966.5C1475.1 2967.1 1479.3 2970.9 1483.4 2974.7C1487.4 2978.4 1492.0 2985.7 1496.1 2990.0C1500.2 2994.3 1505.8 2999.4 1508.9 3001.5C1511.9 3003.5 1512.8 3004.2 1515.3 3002.8C1517.7 3001.3 1521.1 2998.3 1524.2 2992.6C1527.2 2986.8 1531.1 2975.6 1534.4 2967.0C1537.7 2958.5 1541.7 2945.5 1544.6 2939.0C1547.4 2932.4 1549.8 2928.9 1552.2 2926.2C1554.7 2923.6 1557.4 2922.0 1559.9 2922.4C1562.3 2922.8 1564.7 2924.1 1567.6 2928.8C1570.4 2933.5 1574.5 2943.2 1577.8 2951.7C1581.0 2960.3 1584.7 2971.3 1588.0 2982.3C1591.2 2993.4 1594.9 3006.3 1598.2 3020.6C1601.4 3034.9 1605.1 3055.3 1608.4 3071.6C1611.6 3088.0 1615.3 3105.5 1618.6 3122.7C1621.8 3139.8 1625.6 3162.7 1628.8 3178.8C1632.0 3194.9 1636.9 3216.3 1638.5 3223.4" fill="none" stroke="#fa1c12" stroke-width="3.0" stroke-linecap="round"/>
<path d="M1678.5 3223.4C1679.5 3217.5 1682.7 3202.6 1684.9 3186.4C1687.1 3170.3 1690.1 3141.0 1692.6 3122.7C1695.0 3104.3 1697.8 3087.1 1700.2 3071.6C1702.7 3056.1 1705.4 3037.6 1707.9 3025.7C1710.3 3013.9 1713.1 3004.4 1715.5 2997.7C1718.0 2990.9 1720.3 2986.5 1723.2 2983.6C1726.0 2980.8 1730.5 2980.0 1733.4 2979.8C1736.2 2979.6 1738.2 2980.7 1741.0 2982.3C1743.9 2984.0 1748.4 2988.4 1751.2 2990.0C1754.1 2991.6 1756.0 2992.8 1758.9 2992.6C1761.7 2992.3 1765.4 2991.2 1769.1 2988.7C1772.8 2986.3 1777.8 2980.3 1781.8 2977.2C1785.9 2974.2 1791.7 2971.2 1794.6 2969.6C1797.5 2968.0 1796.7 2966.6 1800.0 2967.0C1803.3 2967.4 1810.4 2969.9 1815.3 2972.1C1820.2 2974.4 1824.9 2978.4 1830.6 2981.1C1836.3 2983.7 1845.3 2987.1 1851.0 2988.7C1856.7 2990.4 1861.4 2991.2 1866.3 2991.3C1871.2 2991.4 1876.7 2990.9 1881.6 2989.5C1886.5 2988.1 1891.6 2985.5 1896.9 2982.3C1902.2 2979.2 1908.7 2973.3 1914.8 2969.6C1920.9 2965.9 1929.5 2961.8 1935.2 2959.4C1940.9 2957.0 1946.0 2955.4 1950.5 2954.8C1955.0 2954.2 1959.2 2954.6 1963.3 2955.6C1967.3 2956.5 1971.1 2957.8 1976.0 2960.7C1980.9 2963.5 1987.3 2969.9 1993.9 2973.4C2000.4 2976.9 2009.1 2979.5 2016.8 2982.3C2024.6 2985.2 2034.2 2988.2 2042.3 2991.3C2050.5 2994.3 2061.5 2999.2 2067.9 3001.5C2074.2 3003.7 2077.4 3005.1 2081.9 3005.3C2086.4 3005.5 2091.2 3004.2 2095.9 3002.8C2100.6 3001.3 2106.7 2998.2 2111.2 2996.4C2115.7 2994.5 2121.9 2992.1 2124.0 2991.3" fill="none" stroke="#fa1c12" stroke-width="3.0" stroke-linecap="round"/>
<line x1="347.1" y1="3222.5" x2="630.0" y2="3222.5" stroke="#e0704a" stroke-width="2.5"/>
<line x1="952.2" y1="3222.5" x2="1114.1" y2="3222.5" stroke="#e0704a" stroke-width="2.5"/>
<circle cx="307.3" cy="2871.4" r="8.3" fill="#000" stroke="#8a0010" stroke-width="1.8"/><circle cx="347.6" cy="3223.4" r="9.1" fill="#ff0000"/><circle cx="388.0" cy="3005.3" r="8.3" fill="#0000ff" stroke="#a00060" stroke-width="1.8"/><circle cx="428.3" cy="3002.8" r="8.3" fill="#0000ff" stroke="#a00060" stroke-width="1.8"/><circle cx="468.6" cy="2948.7" r="8.3" fill="#0000ff" stroke="#a00060" stroke-width="1.8"/><circle cx="508.9" cy="2930.1" r="8.3" fill="#0000ff" stroke="#a00060" stroke-width="1.8"/><circle cx="549.3" cy="2967.0" r="8.3" fill="#0000ff" stroke="#a00060" stroke-width="1.8"/><circle cx="589.6" cy="2973.9" r="8.3" fill="#0000ff" stroke="#a00060" stroke-width="1.8"/><circle cx="629.9" cy="2977.8" r="8.3" fill="#0000ff" stroke="#a00060" stroke-width="1.8"/><circle cx="670.3" cy="2859.4" r="8.3" fill="#000" stroke="#8a0010" stroke-width="1.8"/><circle cx="710.6" cy="2870.1" r="8.3" fill="#000" stroke="#8a0010" stroke-width="1.8"/><circle cx="750.9" cy="2908.9" r="8.3" fill="#000" stroke="#8a0010" stroke-width="1.8"/><circle cx="791.3" cy="2876.0" r="8.3" fill="#000" stroke="#8a0010" stroke-width="1.8"/><circle cx="831.6" cy="2890.0" r="8.3" fill="#000" stroke="#8a0010" stroke-width="1.8"/><circle cx="871.9" cy="2894.3" r="8.3" fill="#000" stroke="#8a0010" stroke-width="1.8"/><circle cx="912.2" cy="2867.0" r="8.3" fill="#000" stroke="#8a0010" stroke-width="1.8"/><circle cx="952.6" cy="3181.8" r="8.3" fill="#000" stroke="#8a0010" stroke-width="1.8"/><circle cx="992.9" cy="3223.4" r="9.1" fill="#ff0000"/><circle cx="1033.2" cy="3217.6" r="8.3" fill="#000" stroke="#8a0010" stroke-width="1.8"/><circle cx="1073.6" cy="3195.4" r="8.3" fill="#000" stroke="#8a0010" stroke-width="1.8"/><circle cx="1113.9" cy="3208.1" r="8.3" fill="#000" stroke="#8a0010" stroke-width="1.8"/><circle cx="1154.2" cy="2901.5" r="8.3" fill="#000" stroke="#8a0010" stroke-width="1.8"/><circle cx="1194.6" cy="2876.5" r="8.3" fill="#000" stroke="#8a0010" stroke-width="1.8"/><circle cx="1234.9" cy="2872.7" r="8.3" fill="#000" stroke="#8a0010" stroke-width="1.8"/><circle cx="1275.2" cy="2928.0" r="8.3" fill="#000" stroke="#8a0010" stroke-width="1.8"/><circle cx="1315.5" cy="2907.9" r="8.3" fill="#000" stroke="#8a0010" stroke-width="1.8"/><circle cx="1355.9" cy="2848.9" r="8.3" fill="#000" stroke="#8a0010" stroke-width="1.8"/><circle cx="1396.2" cy="2865.0" r="8.3" fill="#000" stroke="#8a0010" stroke-width="1.8"/><circle cx="1436.5" cy="2879.0" r="8.3" fill="#000" stroke="#8a0010" stroke-width="1.8"/><circle cx="1476.9" cy="2904.0" r="8.3" fill="#000" stroke="#8a0010" stroke-width="1.8"/><circle cx="1517.2" cy="2923.7" r="8.3" fill="#000" stroke="#8a0010" stroke-width="1.8"/><circle cx="1557.5" cy="2853.0" r="8.3" fill="#000" stroke="#8a0010" stroke-width="1.8"/><circle cx="1597.9" cy="2925.7" r="8.3" fill="#0000ff" stroke="#a00060" stroke-width="1.8"/><circle cx="1638.2" cy="3131.1" r="8.3" fill="#000" stroke="#8a0010" stroke-width="1.8"/><circle cx="1678.5" cy="3223.4" r="9.1" fill="#ff0000"/><circle cx="1718.8" cy="2879.5" r="8.3" fill="#000" stroke="#8a0010" stroke-width="1.8"/><circle cx="1759.2" cy="2861.9" r="8.3" fill="#000" stroke="#8a0010" stroke-width="1.8"/><circle cx="1799.5" cy="2913.5" r="8.3" fill="#000" stroke="#8a0010" stroke-width="1.8"/><circle cx="1839.8" cy="2859.4" r="8.3" fill="#000" stroke="#8a0010" stroke-width="1.8"/><circle cx="1880.2" cy="2897.7" r="8.3" fill="#000" stroke="#8a0010" stroke-width="1.8"/><circle cx="1920.5" cy="2892.6" r="8.3" fill="#000" stroke="#8a0010" stroke-width="1.8"/><circle cx="1960.8" cy="2875.2" r="8.3" fill="#000" stroke="#8a0010" stroke-width="1.8"/><circle cx="2001.2" cy="2861.9" r="8.3" fill="#000" stroke="#8a0010" stroke-width="1.8"/><circle cx="2041.5" cy="2850.5" r="8.3" fill="#000" stroke="#8a0010" stroke-width="1.8"/><circle cx="2081.8" cy="2906.6" r="8.3" fill="#000" stroke="#8a0010" stroke-width="1.8"/><circle cx="2122.2" cy="2904.5" r="8.3" fill="#000" stroke="#8a0010" stroke-width="1.8"/>
</g>
<g font-family="'Liberation Sans',sans-serif" font-size="20.5" fill="#262626">
<text transform="translate(314.2,1776.5) rotate(-90) scale(1.03,0.95)">MITF-11 - 346nt</text>
<text transform="translate(354.3,1776.5) rotate(-90) scale(1.03,0.95)">FANCB-1 [HHA1] - 184nt</text>
<text transform="translate(394.4,1776.5) rotate(-90) scale(1.03,0.95)">FMR1-1 [HHA1] - 195nt</text>
<text transform="translate(434.5,1776.5) rotate(-90) scale(1.03,0.95)">FMR1-1 [HHA1] - 212nt</text>
<text transform="translate(474.6,1776.5) rotate(-90) scale(1.03,0.95)">FMR1-1 [HHA1] - 160nt</text>
<text transform="translate(514.7,1776.5) rotate(-90) scale(1.03,0.95)">FMR1-1 [HHA1] - 178nt</text>
<text transform="translate(554.7,1776.5) rotate(-90) scale(1.03,0.95)">FMR1-1 [HHA1] - 142nt</text>
<text transform="translate(594.8,1776.5) rotate(-90) scale(1.03,0.95)">FMR1-1 [HHA1] - 190nt</text>
<text transform="translate(634.9,1776.5) rotate(-90) scale(1.03,0.95)">FMR1-Intr.1 [HHA1] - 167nt</text>
<text transform="translate(675.0,1776.5) rotate(-90) scale(1.03,0.95)">FMR1-3 - 226nt</text>
<text transform="translate(715.1,1776.5) rotate(-90) scale(1.03,0.95)">FMR1-5 - 319nt</text>
<text transform="translate(755.2,1776.5) rotate(-90) scale(1.03,0.95)">FMR1-7 [HHA1] - 364nt</text>
<text transform="translate(795.3,1776.5) rotate(-90) scale(1.03,0.95)">FMR1-9 - 400nt</text>
<text transform="translate(835.4,1776.5) rotate(-90) scale(1.03,0.95)">FMR1-14 - 418nt</text>
<text transform="translate(875.5,1776.5) rotate(-90) scale(1.03,0.95)">FMR1-15 - 382nt</text>
<text transform="translate(915.6,1776.5) rotate(-90) scale(1.03,0.95)">FMR1-17 [HHA1] - 292nt</text>
<text transform="translate(955.6,1776.5) rotate(-90) scale(1.03,0.95)">AFF2-1 [HHA1] - 148nt</text>
<text transform="translate(995.7,1776.5) rotate(-90) scale(1.03,0.95)">AFF2-1 [HHA1] - 259nt</text>
<text transform="translate(1035.8,1776.5) rotate(-90) scale(1.03,0.95)">AFF2-1 [HHA1] - 154nt</text>
<text transform="translate(1075.9,1776.5) rotate(-90) scale(1.03,0.95)">AFF2-1 [HHA1] - 245nt</text>
<text transform="translate(1116.0,1776.5) rotate(-90) scale(1.03,0.95)">AFF2-Intr.1 [HHA1] - 202nt</text>
<text transform="translate(1156.1,1776.5) rotate(-90) scale(1.03,0.95)">AFF2-3 - 283nt</text>
<text transform="translate(1196.2,1776.5) rotate(-90) scale(1.03,0.95)">AFF2-5 - 301nt</text>
<text transform="translate(1236.3,1776.5) rotate(-90) scale(1.03,0.95)">AFF2-6 - 238nt</text>
<text transform="translate(1276.4,1776.5) rotate(-90) scale(1.03,0.95)">AFF2-8 - 337nt</text>
<text transform="translate(1316.5,1776.5) rotate(-90) scale(1.03,0.95)">AFF2-9 - 355nt</text>
<text transform="translate(1356.5,1776.5) rotate(-90) scale(1.03,0.95)">AFF2-11 - 409nt</text>
<text transform="translate(1396.6,1776.5) rotate(-90) scale(1.03,0.95)">AFF2-15 - 436nt</text>
<text transform="translate(1436.7,1776.5) rotate(-90) scale(1.03,0.95)">AFF2-21 - 220nt</text>
<text transform="translate(1476.8,1776.5) rotate(-90) scale(1.03,0.95)">IDS-5 - 310nt</text>
<text transform="translate(1516.9,1776.5) rotate(-90) scale(1.03,0.95)">MTM1-3 - 136nt</text>
<text transform="translate(1557.0,1776.5) rotate(-90) scale(1.03,0.95)">FLNA-29 - 445nt</text>
<text transform="translate(1597.1,1776.5) rotate(-90) scale(1.03,0.95)">ZFY-4 (YC) (MUT) Y) - 118nt</text>
<text transform="translate(1637.2,1776.5) rotate(-90) scale(1.03,0.95)">RARB-up [HHA1] (Dig) - 453nt</text>
<text transform="translate(1677.3,1776.5) rotate(-90) scale(1.03,0.95)">EME1-1 [HHA1] (Dig) - 463nt</text>
<text transform="translate(1717.4,1776.5) rotate(-90) scale(1.03,0.95)">Reference C/M* - 391nt</text>
<text transform="translate(1757.4,1776.5) rotate(-90) scale(1.03,0.95)">Reference C/M* - 274nt</text>
<text transform="translate(1797.5,1776.5) rotate(-90) scale(1.03,0.95)">Reference C [HHA1] - 328nt</text>
<text transform="translate(1837.6,1776.5) rotate(-90) scale(1.03,0.95)">Reference C/M* - 172nt</text>
<text transform="translate(1877.7,1776.5) rotate(-90) scale(1.03,0.95)">Reference C/M* - 427nt</text>
<text transform="translate(1917.8,1776.5) rotate(-90) scale(1.03,0.95)">Reference C/M* - 232nt</text>
<text transform="translate(1957.9,1776.5) rotate(-90) scale(1.03,0.95)">Reference C/M* - 129nt</text>
<text transform="translate(1998.0,1776.5) rotate(-90) scale(1.03,0.95)">Reference C/M* - 472nt</text>
<text transform="translate(2038.1,1776.5) rotate(-90) scale(1.03,0.95)">Reference C/M* - 371nt</text>
<text transform="translate(2078.2,1776.5) rotate(-90) scale(1.03,0.95)">Reference C/M* - 265nt</text>
<text transform="translate(2118.2,1776.5) rotate(-90) scale(1.03,0.95)">Reference C/M* - 208nt</text>
</g>
<g font-family="'Liberation Sans',sans-serif" font-size="20" fill="#2a2a2a" text-anchor="end">
<text transform="translate(314.5,3242) rotate(-90) scale(1,0.95)">03-070.080900</text>
<text transform="translate(354.8,3242) rotate(-90) scale(1,0.95)">X-014.801378</text>
<text transform="translate(395.2,3242) rotate(-90) scale(1,0.95)">X-146.800904</text>
<text transform="translate(435.5,3242) rotate(-90) scale(1,0.95)">X-146.801115</text>
<text transform="translate(475.8,3242) rotate(-90) scale(1,0.95)">X-146.801410</text>
<text transform="translate(516.1,3242) rotate(-90) scale(1,0.95)">X-146.801525</text>
<text transform="translate(556.5,3242) rotate(-90) scale(1,0.95)">X-146.801604</text>
<text transform="translate(596.8,3242) rotate(-90) scale(1,0.95)">X-146.801750</text>
<text transform="translate(637.1,3242) rotate(-90) scale(1,0.95)">X-146.801881</text>
<text transform="translate(677.5,3242) rotate(-90) scale(1,0.95)">X-146.814738</text>
<text transform="translate(717.8,3242) rotate(-90) scale(1,0.95)">X-146.817944</text>
<text transform="translate(758.1,3242) rotate(-90) scale(1,0.95)">X-146.819352</text>
<text transform="translate(798.5,3242) rotate(-90) scale(1,0.95)">X-146.821895</text>
<text transform="translate(838.8,3242) rotate(-90) scale(1,0.95)">X-146.832342</text>
<text transform="translate(879.1,3242) rotate(-90) scale(1,0.95)">X-146.834120</text>
<text transform="translate(919.5,3242) rotate(-90) scale(1,0.95)">X-146.837971</text>
<text transform="translate(959.8,3242) rotate(-90) scale(1,0.95)">X-147.389707</text>
<text transform="translate(1000.1,3242) rotate(-90) scale(1,0.95)">X-147.390128</text>
<text transform="translate(1040.4,3242) rotate(-90) scale(1,0.95)">X-147.390420</text>
<text transform="translate(1080.8,3242) rotate(-90) scale(1,0.95)">X-147.390561</text>
<text transform="translate(1121.1,3242) rotate(-90) scale(1,0.95)">X-147.390836</text>
<text transform="translate(1161.4,3242) rotate(-90) scale(1,0.95)">X-147.551414</text>
<text transform="translate(1201.8,3242) rotate(-90) scale(1,0.95)">X-147.699071</text>
<text transform="translate(1242.1,3242) rotate(-90) scale(1,0.95)">X-147.726875</text>
<text transform="translate(1282.4,3242) rotate(-90) scale(1,0.95)">X-147.732594</text>
<text transform="translate(1322.8,3242) rotate(-90) scale(1,0.95)">X-147.775121</text>
<text transform="translate(1363.1,3242) rotate(-90) scale(1,0.95)">X-147.842893</text>
<text transform="translate(1403.4,3242) rotate(-90) scale(1,0.95)">X-147.856038</text>
<text transform="translate(1443.7,3242) rotate(-90) scale(1,0.95)">X-147.876600</text>
<text transform="translate(1484.1,3242) rotate(-90) scale(1,0.95)">X-148.387577</text>
<text transform="translate(1524.4,3242) rotate(-90) scale(1,0.95)">X-149.515611</text>
<text transform="translate(1564.7,3242) rotate(-90) scale(1,0.95)">X-153.239085</text>
<text transform="translate(1605.1,3242) rotate(-90) scale(1,0.95)">Y-002.889246</text>
<text transform="translate(1645.4,3242) rotate(-90) scale(1,0.95)">03-025.444383</text>
<text transform="translate(1685.7,3242) rotate(-90) scale(1,0.95)">17-045.805475</text>
<text transform="translate(1726.0,3242) rotate(-90) scale(1,0.95)">X-007.033699</text>
<text transform="translate(1766.4,3242) rotate(-90) scale(1,0.95)">X-007.185397</text>
<text transform="translate(1806.7,3242) rotate(-90) scale(1,0.95)">X-009.676580</text>
<text transform="translate(1847.0,3242) rotate(-90) scale(1,0.95)">X-018.526521</text>
<text transform="translate(1887.4,3242) rotate(-90) scale(1,0.95)">X-029.596452</text>
<text transform="translate(1927.7,3242) rotate(-90) scale(1,0.95)">X-031.803263</text>
<text transform="translate(1968.0,3242) rotate(-90) scale(1,0.95)">X-066.682270</text>
<text transform="translate(2008.4,3242) rotate(-90) scale(1,0.95)">X-067.200662</text>
<text transform="translate(2048.7,3242) rotate(-90) scale(1,0.95)">X-067.569851</text>
<text transform="translate(2089.0,3242) rotate(-90) scale(1,0.95)">X-107.726883</text>
<text transform="translate(2129.3,3242) rotate(-90) scale(1,0.95)">X-138.461032</text>
</g>
<rect x="361" y="1506.5" width="288" height="284" fill="none" stroke="#ff5a5a" stroke-width="2.2"/>
</g>
<g filter="url(#b05)">
<text x="1222.5" y="2591" text-anchor="middle" font-family="'Liberation Sans',sans-serif" font-weight="bold" font-size="41.5" fill="#000">CUT</text>
<text x="66.5" y="1429.5" font-family="'Liberation Sans',sans-serif" font-weight="bold" font-size="48" fill="#000">B</text>
<text x="1222" y="1523" text-anchor="middle" font-family="'Liberation Sans',sans-serif" font-weight="bold" font-size="41.5" fill="#000">UNCUT</text>
<text transform="translate(175.8,2062.5) rotate(-90)" text-anchor="middle" font-family="'Liberation Sans',sans-serif" font-size="52.6" fill="#000" stroke="#000" stroke-width="1.9" stroke-linejoin="round">Ratio</text>
<text transform="translate(168.2,2958) rotate(-90)" text-anchor="middle" font-family="'Liberation Sans',sans-serif" font-size="52.6" fill="#000" stroke="#000" stroke-width="1.9" stroke-linejoin="round">Ratio</text>
<g filter="url(#b15)" fill="none"><path d="M84.7 1483.5V3408.5" stroke="#8c8c8c" stroke-width="3.2"/><path d="M83.5 3408.5H2221" stroke="#5a5a5a" stroke-width="2.4"/><path d="M2219.8 3408.5V1483.5" stroke="#666" stroke-width="2.4"/><path d="M83.2 1483.3H2221" stroke="#222" stroke-width="2.6"/></g>
</g>
</g>
</svg></body></html>
